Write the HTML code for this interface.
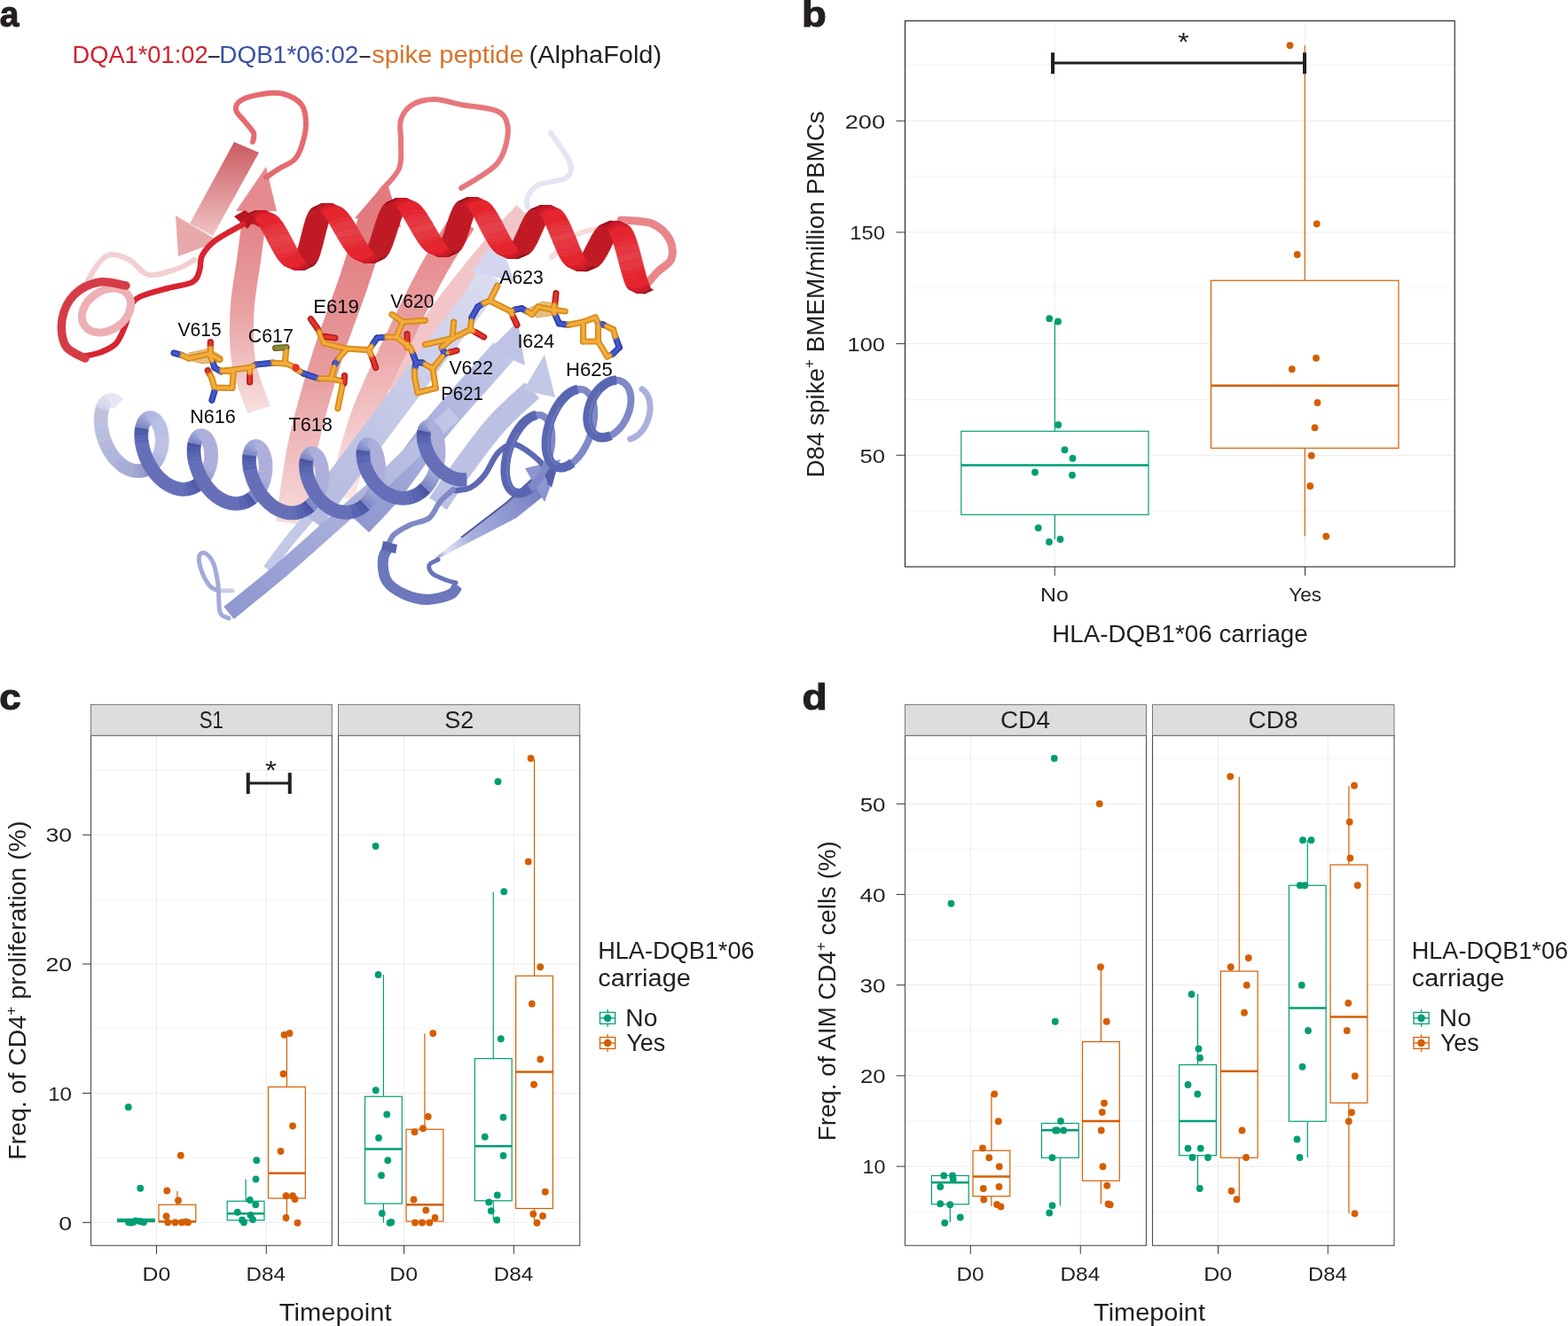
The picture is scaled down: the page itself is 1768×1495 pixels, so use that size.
<!DOCTYPE html>
<html><head><meta charset="utf-8"><title>Figure</title>
<style>html,body{margin:0;padding:0;background:#fff;} body{width:1768px;height:1495px;overflow:hidden;} svg{display:block;} text{font-family:'Liberation Sans', Arial, sans-serif;}</style>
</head><body>
<svg width="1768" height="1495" viewBox="0 0 1768 1495">
<rect width="1768" height="1495" fill="#fff"/>
<text transform="translate(81.50,70.75) scale(0.9739,1)" font-size="28" font-weight="normal" fill="#d21f2b">DQA1*01:02</text>
<text transform="translate(235.00,70.75) scale(0.8044,1)" font-size="28" font-weight="normal" fill="#231f20">–</text>
<text transform="translate(247.19,70.75) scale(0.9999,1)" font-size="28" font-weight="normal" fill="#3a50a6">DQB1*06:02</text>
<text transform="translate(405.50,70.75) scale(0.7722,1)" font-size="28" font-weight="normal" fill="#231f20">–</text>
<text transform="translate(419.20,70.75) scale(1.0403,1)" font-size="28" font-weight="normal" fill="#d6742a">spike peptide</text>
<text transform="translate(596.59,70.75) scale(1.0328,1)" font-size="28" font-weight="normal" fill="#231f20">(AlphaFold)</text>
<text transform="translate(-0.17,29.5) scale(0.9718,1)" font-size="40" font-weight="bold" fill="#231f20" stroke="#231f20" stroke-width="1.1">a</text>
<defs><linearGradient id="gPinkA" x1="0" y1="0" x2="0" y2="1"><stop offset="0" stop-color="#c95a60"/><stop offset="1" stop-color="#f1c4c5"/></linearGradient><linearGradient id="gPinkB" x1="0" y1="1" x2="0" y2="0"><stop offset="0" stop-color="#f7dcdc"/><stop offset="0.5" stop-color="#e79b9d"/><stop offset="1" stop-color="#e07a7e"/></linearGradient><linearGradient id="gPinkC" x1="0" y1="1" x2="0" y2="0"><stop offset="0" stop-color="#fae6e6"/><stop offset="0.6" stop-color="#eaa0a2"/><stop offset="1" stop-color="#e5878b"/></linearGradient><linearGradient id="gLav" x1="0" y1="1" x2="1" y2="0"><stop offset="0" stop-color="#8e97cf"/><stop offset="1" stop-color="#c3c8e7"/></linearGradient><linearGradient id="gLav2" x1="0" y1="1" x2="1" y2="0"><stop offset="0" stop-color="#b3b9e0"/><stop offset="1" stop-color="#dadcef"/></linearGradient><linearGradient id="gBH" x1="0" y1="0" x2="1" y2="0"><stop offset="0" stop-color="#b9bfe2"/><stop offset="0.25" stop-color="#8590c9"/><stop offset="0.5" stop-color="#5f6bb4"/><stop offset="1" stop-color="#5d69b3"/></linearGradient></defs>
<path d="M621.0,150.0 C623.3,153.3 631.3,164.3 635.0,170.0 C638.7,175.7 641.7,179.8 643.0,184.0 C644.3,188.2 644.3,192.0 643.0,195.0 C641.7,198.0 640.8,199.8 635.0,202.0 C629.2,204.2 614.3,205.3 608.0,208.0 C601.7,210.7 599.3,214.2 597.0,218.0 C594.7,221.8 593.5,227.7 594.0,231.0 C594.5,234.3 599.0,236.8 600.0,238.0" fill="none" stroke="#e3e5f2" stroke-width="6" stroke-linecap="round"/>
<path d="M622.0,290.0 C626.3,286.0 639.0,271.2 648.0,266.0 C657.0,260.8 667.3,258.0 676.0,259.0 C684.7,260.0 694.0,268.8 700.0,272.0 C706.0,275.2 710.0,277.0 712.0,278.0" fill="none" stroke="#f6dcdd" stroke-width="6" stroke-linecap="round"/>
<path d="M440.0,440.0 C450.0,425.0 480.0,377.5 500.0,350.0 C520.0,322.5 544.7,293.3 560.0,275.0 C575.3,256.7 586.7,245.8 592.0,240.0" fill="none" stroke="#f2c6c8" stroke-width="26"/>
<path d="M385.0,560.0 C389.2,545.0 399.5,499.2 410.0,470.0 C420.5,440.8 435.0,412.5 448.0,385.0 C461.0,357.5 475.7,327.5 488.0,305.0 C500.3,282.5 516.3,259.2 522.0,250.0" fill="none" stroke="url(#gPinkC)" stroke-width="30"/>
<path d="M328.0,590.0 C330.3,575.0 335.3,530.8 342.0,500.0 C348.7,469.2 358.7,435.0 368.0,405.0 C377.3,375.0 389.0,346.7 398.0,320.0 C407.0,293.3 418.0,257.5 422.0,245.0" fill="none" stroke="url(#gPinkB)" stroke-width="34"/>
<path d="M400.0,246.0 L436.0,204.0 L452.0,256.0Z" fill="#e27a80"/>
<path d="M288.0,236.0 C286.8,245.0 283.5,271.0 281.0,290.0 C278.5,309.0 274.0,330.0 273.0,350.0 C272.0,370.0 271.8,391.3 275.0,410.0 C278.2,428.7 289.2,453.3 292.0,462.0" fill="none" stroke="url(#gPinkB)" stroke-width="27" opacity="0.95"/>
<path d="M266.0,238.0 L300.0,188.0 L312.0,238.0Z" fill="#e58b8f"/>
<path d="M285.0,160.0 C285.2,158.3 287.5,153.8 286.0,150.0 C284.5,146.2 279.3,141.3 276.0,137.0 C272.7,132.7 266.7,128.0 266.0,124.0 C265.3,120.0 267.0,116.0 272.0,113.0 C277.0,110.0 288.0,107.2 296.0,106.0 C304.0,104.8 312.7,104.0 320.0,106.0 C327.3,108.0 335.8,112.3 340.0,118.0 C344.2,123.7 345.0,132.2 345.0,140.0 C345.0,147.8 342.2,158.3 340.0,165.0 C337.8,171.7 336.2,175.8 332.0,180.0 C327.8,184.2 320.3,186.7 315.0,190.0 C309.7,193.3 302.5,198.3 300.0,200.0" fill="none" stroke="#e56a70" stroke-width="6" stroke-linecap="round"/>
<path d="M430.0,215.0 C433.3,210.8 446.3,199.2 450.0,190.0 C453.7,180.8 451.7,169.2 452.0,160.0 C452.3,150.8 449.8,142.0 452.0,135.0 C454.2,128.0 458.7,121.8 465.0,118.0 C471.3,114.2 480.8,112.0 490.0,112.0 C499.2,112.0 508.3,115.8 520.0,118.0 C531.7,120.2 551.3,121.3 560.0,125.0 C568.7,128.7 570.3,133.3 572.0,140.0 C573.7,146.7 572.0,157.5 570.0,165.0 C568.0,172.5 565.0,179.2 560.0,185.0 C555.0,190.8 546.7,195.5 540.0,200.0 C533.3,204.5 523.3,210.0 520.0,212.0" fill="none" stroke="#e7777c" stroke-width="6" stroke-linecap="round"/>
<path d="M264.0,160.0 L292.0,172.0 L240.0,266.0 L214.0,252.0Z" fill="url(#gPinkA)"/>
<path d="M198.0,243.0 L247.0,272.0 L201.0,289.0Z" fill="#e8a9ab"/>
<path d="M302.0,642.0 C306.7,635.8 319.5,617.8 330.0,605.0 C340.5,592.2 359.2,571.7 365.0,565.0" fill="none" stroke="#c3c8e7" stroke-width="12"/>
<path d="M350.0,585.0 C361.7,569.5 398.3,520.8 420.0,492.0 C441.7,463.2 460.7,437.7 480.0,412.0 C499.3,386.3 524.0,355.0 536.0,338.0 C548.0,321.0 549.3,314.7 552.0,310.0" fill="none" stroke="url(#gLav2)" stroke-width="30"/>
<path d="M532.0,306.0 L562.0,266.0 L580.0,318.0Z" fill="#d3d6ee"/>
<path d="M405.0,590.0 C410.8,583.7 425.8,569.5 440.0,552.0 C454.2,534.5 472.5,506.7 490.0,485.0 C507.5,463.3 532.0,436.8 545.0,422.0 C558.0,407.2 564.2,400.3 568.0,396.0" fill="none" stroke="url(#gLav)" stroke-width="30"/>
<path d="M552.0,394.0 L584.0,362.0 L592.0,412.0Z" fill="#bfc4e6"/>
<path d="M494.0,568.0 C498.3,561.7 509.0,545.0 520.0,530.0 C531.0,515.0 546.7,493.0 560.0,478.0 C573.3,463.0 593.3,446.3 600.0,440.0" fill="none" stroke="#bcc1e4" stroke-width="24"/>
<path d="M590.0,440.0 L614.0,400.0 L626.0,448.0Z" fill="#c3c8e7"/>
<path d="M258.0,691.0 C268.0,682.8 297.8,659.2 318.0,642.0 C338.2,624.8 361.2,603.7 379.0,588.0 C396.8,572.3 409.8,561.8 425.0,548.0 C440.2,534.2 455.5,518.7 470.0,505.0 C484.5,491.3 505.0,472.5 512.0,466.0" fill="none" stroke="url(#gLav)" stroke-width="18"/>
<defs><linearGradient id="gS6" gradientUnits="userSpaceOnUse" x1="490" y1="632" x2="600" y2="550"><stop offset="0" stop-color="#7c86c6"/><stop offset="0.12" stop-color="#dfe2f3"/><stop offset="0.35" stop-color="#aab1dd"/><stop offset="1" stop-color="#7782c3"/></linearGradient></defs>
<path d="M488,633 L494,626 L572,566 L600,540 L612,560 L582,584 Z" fill="url(#gS6)"/>
<path d="M520,606 L572,566 L600,540" fill="none" stroke="#4f5a9e" stroke-width="2"/>
<path d="M592.0,528.0 L632.0,518.0 L614.0,566.0Z" fill="#8c96cf"/>
<path d="M700.0,248.0 C705.8,248.7 725.8,248.3 735.0,252.0 C744.2,255.7 751.3,263.3 755.0,270.0 C758.7,276.7 759.2,286.0 757.0,292.0 C754.8,298.0 746.8,301.0 742.0,306.0 C737.2,311.0 730.3,319.3 728.0,322.0" fill="none" stroke="#e8868b" stroke-width="9" stroke-linecap="round"/>
<path d="M339.2,267.4 L347.6,270.0 L348.8,264.9 L340.4,262.9ZM347.6,270.0 L356.1,272.0 L357.2,267.0 L348.8,264.9ZM356.1,272.0 L364.5,273.6 L365.6,269.2 L357.2,267.0ZM340.4,262.9 L348.8,264.9 L349.9,259.9 L341.5,258.5ZM348.8,264.9 L357.2,267.0 L358.3,262.0 L349.9,259.9ZM357.2,267.0 L365.6,269.2 L366.7,264.8 L358.3,262.0ZM338.1,271.8 L346.5,275.0 L347.6,270.0 L339.2,267.4ZM346.5,275.0 L354.9,277.0 L356.1,272.0 L347.6,270.0ZM354.9,277.0 L363.4,277.9 L364.5,273.6 L356.1,272.0ZM421.3,258.5 L429.7,260.9 L431.0,256.0 L422.6,254.2ZM429.7,260.9 L438.1,263.0 L439.5,258.1 L431.0,256.0ZM438.1,263.0 L446.5,264.8 L447.9,260.5 L439.5,258.1ZM419.9,262.9 L428.3,265.9 L429.7,260.9 L421.3,258.5ZM428.3,265.9 L436.7,267.9 L438.1,263.0 L429.7,260.9ZM436.7,267.9 L445.1,269.1 L446.5,264.8 L438.1,263.0ZM341.5,258.5 L349.9,259.9 L351.0,255.0 L342.6,254.3ZM349.9,259.9 L358.3,262.0 L359.4,257.0 L351.0,255.0ZM358.3,262.0 L366.7,264.8 L367.8,260.3 L359.4,257.0ZM422.6,254.2 L431.0,256.0 L432.4,251.1 L424.0,250.0ZM431.0,256.0 L439.5,258.1 L440.8,253.2 L432.4,251.1ZM439.5,258.1 L447.9,260.5 L449.2,256.2 L440.8,253.2ZM337.0,276.2 L345.4,279.8 L346.5,275.0 L338.1,271.8ZM345.4,279.8 L353.8,281.8 L354.9,277.0 L346.5,275.0ZM353.8,281.8 L362.2,282.0 L363.4,277.9 L354.9,277.0ZM418.5,267.2 L426.9,270.7 L428.3,265.9 L419.9,262.9ZM426.9,270.7 L435.3,272.7 L436.7,267.9 L428.3,265.9ZM435.3,272.7 L443.7,273.1 L445.1,269.1 L436.7,267.9ZM503.8,253.1 L512.3,255.3 L513.5,250.7 L505.1,249.1ZM512.3,255.3 L520.7,257.4 L521.9,252.8 L513.5,250.7ZM520.7,257.4 L529.1,259.4 L530.3,255.4 L521.9,252.8ZM424.0,250.0 L432.4,251.1 L433.8,246.4 L425.4,245.9ZM432.4,251.1 L440.8,253.2 L442.2,248.4 L433.8,246.4ZM440.8,253.2 L449.2,256.2 L450.6,251.9 L442.2,248.4ZM502.6,257.1 L511.0,259.9 L512.3,255.3 L503.8,253.1ZM511.0,259.9 L519.4,262.0 L520.7,257.4 L512.3,255.3ZM519.4,262.0 L527.8,263.3 L529.1,259.4 L520.7,257.4ZM342.6,254.3 L351.0,255.0 L352.2,250.3 L343.8,250.3ZM351.0,255.0 L359.4,257.0 L360.6,252.2 L352.2,250.3ZM359.4,257.0 L367.8,260.3 L369.0,256.0 L360.6,252.2ZM661.6,276.7 L670.0,279.1 L671.8,275.0 L663.4,273.2ZM670.0,279.1 L678.4,281.2 L680.2,277.1 L671.8,275.0ZM678.4,281.2 L686.8,282.9 L688.6,279.5 L680.2,277.1ZM505.1,249.1 L513.5,250.7 L514.8,246.2 L506.4,245.3ZM513.5,250.7 L521.9,252.8 L523.2,248.2 L514.8,246.2ZM521.9,252.8 L530.3,255.4 L531.6,251.4 L523.2,248.2ZM663.4,273.2 L671.8,275.0 L673.5,271.0 L665.1,269.8ZM671.8,275.0 L680.2,277.1 L681.9,273.1 L673.5,271.0ZM680.2,277.1 L688.6,279.5 L690.3,276.0 L681.9,273.1ZM583.4,261.2 L591.8,263.8 L593.4,259.5 L585.0,257.5ZM591.8,263.8 L600.2,265.9 L601.8,261.6 L593.4,259.5ZM600.2,265.9 L608.6,267.4 L610.2,263.8 L601.8,261.6ZM501.3,261.1 L509.7,264.4 L511.0,259.9 L502.6,257.1ZM509.7,264.4 L518.1,266.4 L519.4,262.0 L511.0,259.9ZM518.1,266.4 L526.5,267.1 L527.8,263.3 L519.4,262.0ZM659.8,280.1 L668.3,283.1 L670.0,279.1 L661.6,276.7ZM668.3,283.1 L676.7,285.2 L678.4,281.2 L670.0,279.1ZM676.7,285.2 L685.1,286.3 L686.8,282.9 L678.4,281.2ZM585.0,257.5 L593.4,259.5 L595.0,255.3 L586.6,253.9ZM593.4,259.5 L601.8,261.6 L603.4,257.4 L595.0,255.3ZM601.8,261.6 L610.2,263.8 L611.8,260.2 L603.4,257.4ZM581.8,264.8 L590.2,268.0 L591.8,263.8 L583.4,261.2ZM590.2,268.0 L598.6,270.0 L600.2,265.9 L591.8,263.8ZM598.6,270.0 L607.0,270.9 L608.6,267.4 L600.2,265.9ZM417.1,271.4 L425.5,275.3 L426.9,270.7 L418.5,267.2ZM425.5,275.3 L433.9,277.2 L435.3,272.7 L426.9,270.7ZM433.9,277.2 L442.3,277.0 L443.7,273.1 L435.3,272.7ZM665.1,269.8 L673.5,271.0 L675.2,267.1 L666.8,266.6ZM673.5,271.0 L681.9,273.1 L683.6,269.1 L675.2,267.1ZM681.9,273.1 L690.3,276.0 L692.0,272.5 L683.6,269.1ZM586.6,253.9 L595.0,255.3 L596.6,251.2 L588.2,250.5ZM595.0,255.3 L603.4,257.4 L605.0,253.2 L596.6,251.2ZM603.4,257.4 L611.8,260.2 L613.4,256.5 L605.0,253.2ZM335.8,280.4 L344.3,284.4 L345.4,279.8 L337.0,276.2ZM344.3,284.4 L352.7,286.3 L353.8,281.8 L345.4,279.8ZM352.7,286.3 L361.1,285.9 L362.2,282.0 L353.8,281.8ZM425.4,245.9 L433.8,246.4 L435.2,242.0 L426.8,242.2ZM433.8,246.4 L442.2,248.4 L443.6,243.8 L435.2,242.0ZM442.2,248.4 L450.6,251.9 L452.0,247.8 L443.6,243.8ZM506.4,245.3 L514.8,246.2 L516.1,241.9 L507.7,241.6ZM514.8,246.2 L523.2,248.2 L524.5,243.8 L516.1,241.9ZM523.2,248.2 L531.6,251.4 L532.9,247.5 L524.5,243.8ZM658.1,283.5 L666.5,287.0 L668.3,283.1 L659.8,280.1ZM666.5,287.0 L674.9,289.0 L676.7,285.2 L668.3,283.1ZM674.9,289.0 L683.3,289.4 L685.1,286.3 L676.7,285.2ZM499.9,265.0 L508.4,268.8 L509.7,264.4 L501.3,261.1ZM508.4,268.8 L516.8,270.7 L518.1,266.4 L509.7,264.4ZM516.8,270.7 L525.2,270.7 L526.5,267.1 L518.1,266.4ZM580.1,268.4 L588.5,272.1 L590.2,268.0 L581.8,264.8ZM588.5,272.1 L596.9,274.0 L598.6,270.0 L590.2,268.0ZM596.9,274.0 L605.4,274.2 L607.0,270.9 L598.6,270.0ZM343.8,250.3 L352.2,250.3 L353.4,246.0 L344.9,246.6ZM352.2,250.3 L360.6,252.2 L361.8,247.7 L353.4,246.0ZM360.6,252.2 L369.0,256.0 L370.2,251.9 L361.8,247.7ZM588.2,250.5 L596.6,251.2 L598.2,247.3 L589.8,247.3ZM596.6,251.2 L605.0,253.2 L606.6,249.2 L598.2,247.3ZM605.0,253.2 L613.4,256.5 L615.0,253.0 L606.6,249.2ZM666.8,266.6 L675.2,267.1 L676.9,263.4 L668.5,263.6ZM675.2,267.1 L683.6,269.1 L685.3,265.3 L676.9,263.4ZM683.6,269.1 L692.0,272.5 L693.8,269.2 L685.3,265.3ZM656.3,286.8 L664.7,290.7 L666.5,287.0 L658.1,283.5ZM664.7,290.7 L673.1,292.6 L674.9,289.0 L666.5,287.0ZM673.1,292.6 L681.5,292.4 L683.3,289.4 L674.9,289.0ZM507.7,241.6 L516.1,241.9 L517.4,237.9 L509.0,238.3ZM516.1,241.9 L524.5,243.8 L525.8,239.7 L517.4,237.9ZM524.5,243.8 L532.9,247.5 L534.2,243.7 L525.8,239.7ZM415.7,275.4 L424.1,279.7 L425.5,275.3 L417.1,271.4ZM424.1,279.7 L432.5,281.4 L433.9,277.2 L425.5,275.3ZM432.5,281.4 L440.9,280.5 L442.3,277.0 L433.9,277.2ZM426.8,242.2 L435.2,242.0 L436.6,237.9 L428.2,238.7ZM435.2,242.0 L443.6,243.8 L445.0,239.6 L436.6,237.9ZM443.6,243.8 L452.0,247.8 L453.4,243.9 L445.0,239.6ZM334.7,284.4 L343.1,288.7 L344.3,284.4 L335.8,280.4ZM343.1,288.7 L351.5,290.4 L352.7,286.3 L344.3,284.4ZM351.5,290.4 L359.9,289.3 L361.1,285.9 L352.7,286.3ZM498.6,268.7 L507.0,272.9 L508.4,268.8 L499.9,265.0ZM507.0,272.9 L515.4,274.7 L516.8,270.7 L508.4,268.8ZM515.4,274.7 L523.8,274.0 L525.2,270.7 L516.8,270.7ZM578.5,271.8 L586.9,275.9 L588.5,272.1 L580.1,268.4ZM586.9,275.9 L595.3,277.7 L596.9,274.0 L588.5,272.1ZM595.3,277.7 L603.7,277.3 L605.4,274.2 L596.9,274.0ZM589.8,247.3 L598.2,247.3 L599.8,243.7 L591.4,244.3ZM598.2,247.3 L606.6,249.2 L608.2,245.5 L599.8,243.7ZM606.6,249.2 L615.0,253.0 L616.6,249.7 L608.2,245.5ZM668.5,263.6 L676.9,263.4 L678.6,260.0 L670.2,260.9ZM676.9,263.4 L685.3,265.3 L687.0,261.8 L678.6,260.0ZM685.3,265.3 L693.8,269.2 L695.5,266.0 L687.0,261.8ZM344.9,246.6 L353.4,246.0 L354.6,242.0 L346.2,243.3ZM353.4,246.0 L361.8,247.7 L363.0,243.6 L354.6,242.0ZM361.8,247.7 L370.2,251.9 L371.4,248.1 L363.0,243.6ZM654.5,289.9 L662.9,294.2 L664.7,290.7 L656.3,286.8ZM662.9,294.2 L671.3,295.9 L673.1,292.6 L664.7,290.7ZM671.3,295.9 L679.7,295.0 L681.5,292.4 L673.1,292.6ZM509.0,238.3 L517.4,237.9 L518.8,234.2 L510.4,235.2ZM517.4,237.9 L525.8,239.7 L527.2,235.8 L518.8,234.2ZM525.8,239.7 L534.2,243.7 L535.6,240.2 L527.2,235.8ZM414.2,279.1 L422.6,283.6 L424.1,279.7 L415.7,275.4ZM422.6,283.6 L431.0,285.2 L432.5,281.4 L424.1,279.7ZM431.0,285.2 L439.4,283.7 L440.9,280.5 L432.5,281.4ZM576.8,275.1 L585.2,279.5 L586.9,275.9 L578.5,271.8ZM585.2,279.5 L593.6,281.1 L595.3,277.7 L586.9,275.9ZM593.6,281.1 L602.1,280.0 L603.7,277.3 L595.3,277.7ZM497.2,272.2 L505.6,276.7 L507.0,272.9 L498.6,268.7ZM505.6,276.7 L514.0,278.3 L515.4,274.7 L507.0,272.9ZM514.0,278.3 L522.4,277.0 L523.8,274.0 L515.4,274.7ZM428.2,238.7 L436.6,237.9 L438.1,234.2 L429.7,235.7ZM436.6,237.9 L445.0,239.6 L446.5,235.7 L438.1,234.2ZM445.0,239.6 L453.4,243.9 L454.9,240.3 L446.5,235.7ZM333.4,288.0 L341.8,292.7 L343.1,288.7 L334.7,284.4ZM341.8,292.7 L350.2,294.1 L351.5,290.4 L343.1,288.7ZM350.2,294.1 L358.7,292.4 L359.9,289.3 L351.5,290.4ZM591.4,244.3 L599.8,243.7 L601.4,240.5 L593.0,241.7ZM599.8,243.7 L608.2,245.5 L609.8,242.1 L601.4,240.5ZM608.2,245.5 L616.6,249.7 L618.2,246.5 L609.8,242.1ZM270.4,252.4 L278.8,251.3 L280.2,247.6 L271.8,249.4ZM278.8,251.3 L287.2,252.9 L288.6,249.1 L280.2,247.6ZM287.2,252.9 L295.6,257.3 L297.0,253.7 L288.6,249.1ZM670.2,260.9 L678.6,260.0 L680.3,257.0 L671.9,258.5ZM678.6,260.0 L687.0,261.8 L688.7,258.6 L680.3,257.0ZM687.0,261.8 L695.5,266.0 L697.1,263.1 L688.7,258.6ZM652.7,292.6 L661.1,297.2 L662.9,294.2 L654.5,289.9ZM661.1,297.2 L669.6,298.8 L671.3,295.9 L662.9,294.2ZM669.6,298.8 L678.0,297.2 L679.7,295.0 L671.3,295.9ZM346.2,243.3 L354.6,242.0 L355.9,238.5 L347.5,240.4ZM354.6,242.0 L363.0,243.6 L364.3,239.9 L355.9,238.5ZM363.0,243.6 L371.4,248.1 L372.7,244.6 L364.3,239.9ZM510.4,235.2 L518.8,234.2 L520.1,230.9 L511.7,232.6ZM518.8,234.2 L527.2,235.8 L528.6,232.3 L520.1,230.9ZM527.2,235.8 L535.6,240.2 L537.0,237.0 L528.6,232.3ZM575.2,278.0 L583.6,282.7 L585.2,279.5 L576.8,275.1ZM583.6,282.7 L592.0,284.1 L593.6,281.1 L585.2,279.5ZM592.0,284.1 L600.4,282.4 L602.1,280.0 L593.6,281.1ZM495.8,275.4 L504.2,280.1 L505.6,276.7 L497.2,272.2ZM504.2,280.1 L512.6,281.5 L514.0,278.3 L505.6,276.7ZM512.6,281.5 L521.0,279.6 L522.4,277.0 L514.0,278.3ZM412.7,282.4 L421.1,287.2 L422.6,283.6 L414.2,279.1ZM421.1,287.2 L429.5,288.5 L431.0,285.2 L422.6,283.6ZM429.5,288.5 L437.9,286.4 L439.4,283.7 L431.0,285.2ZM429.7,235.7 L438.1,234.2 L439.6,230.9 L431.2,233.1ZM438.1,234.2 L446.5,235.7 L448.0,232.3 L439.6,230.9ZM446.5,235.7 L454.9,240.3 L456.4,237.0 L448.0,232.3ZM593.0,241.7 L601.4,240.5 L603.0,237.6 L594.6,239.5ZM601.4,240.5 L609.8,242.1 L611.4,239.0 L603.0,237.6ZM609.8,242.1 L618.2,246.5 L619.8,243.7 L611.4,239.0Z" fill="#c01b25" stroke="#c01b25" stroke-width="0.7" stroke-linejoin="round"/>
<path d="M332.2,291.3 L340.6,296.1 L341.8,292.7 L333.4,288.0ZM340.6,296.1 L349.0,297.3 L350.2,294.1 L341.8,292.7ZM349.0,297.3 L357.4,295.0 L358.7,292.4 L350.2,294.1Z" fill="#b71b25" stroke="#b71b25" stroke-width="0.7" stroke-linejoin="round"/>
<path d="M671.9,258.5 L680.3,257.0 L682.0,254.4 L673.6,256.5ZM680.3,257.0 L688.7,258.6 L690.4,255.7 L682.0,254.4ZM688.7,258.6 L697.1,263.1 L698.8,260.5 L690.4,255.7Z" fill="#c01b25" stroke="#c01b25" stroke-width="0.7" stroke-linejoin="round"/>
<path d="M271.8,249.4 L280.2,247.6 L281.6,244.4 L273.2,246.8ZM280.2,247.6 L288.6,249.1 L290.0,245.7 L281.6,244.4ZM288.6,249.1 L297.0,253.7 L298.4,250.5 L290.0,245.7Z" fill="#b71b25" stroke="#b71b25" stroke-width="0.7" stroke-linejoin="round"/>
<path d="M650.9,295.1 L659.4,299.9 L661.1,297.2 L652.7,292.6ZM659.4,299.9 L667.8,301.2 L669.6,298.8 L661.1,297.2ZM667.8,301.2 L676.2,299.0 L678.0,297.2 L669.6,298.8Z" fill="#c01b25" stroke="#c01b25" stroke-width="0.7" stroke-linejoin="round"/>
<path d="M511.7,232.6 L520.1,230.9 L521.6,228.1 L513.2,230.4ZM520.1,230.9 L528.6,232.3 L530.0,229.3 L521.6,228.1ZM528.6,232.3 L537.0,237.0 L538.4,234.1 L530.0,229.3ZM347.5,240.4 L355.9,238.5 L357.2,235.5 L348.8,238.0ZM355.9,238.5 L364.3,239.9 L365.6,236.6 L357.2,235.5ZM364.3,239.9 L372.7,244.6 L374.1,241.5 L365.6,236.6ZM573.4,280.6 L581.9,285.5 L583.6,282.7 L575.2,278.0ZM581.9,285.5 L590.3,286.7 L592.0,284.1 L583.6,282.7ZM590.3,286.7 L598.7,284.3 L600.4,282.4 L592.0,284.1ZM494.3,278.2 L502.7,283.1 L504.2,280.1 L495.8,275.4ZM502.7,283.1 L511.1,284.3 L512.6,281.5 L504.2,280.1ZM511.1,284.3 L519.5,281.7 L521.0,279.6 L512.6,281.5ZM411.1,285.3 L419.5,290.2 L421.1,287.2 L412.7,282.4ZM419.5,290.2 L427.9,291.3 L429.5,288.5 L421.1,287.2ZM427.9,291.3 L436.3,288.6 L437.9,286.4 L429.5,288.5ZM594.6,239.5 L603.0,237.6 L604.7,235.3 L596.2,237.8ZM603.0,237.6 L611.4,239.0 L613.1,236.4 L604.7,235.3ZM611.4,239.0 L619.8,243.7 L621.5,241.3 L613.1,236.4ZM431.2,233.1 L439.6,230.9 L441.2,228.2 L432.7,231.0ZM439.6,230.9 L448.0,232.3 L449.6,229.3 L441.2,228.2ZM448.0,232.3 L456.4,237.0 L458.0,234.2 L449.6,229.3ZM673.6,256.5 L682.0,254.4 L683.6,252.3 L675.2,255.0ZM682.0,254.4 L690.4,255.7 L692.0,253.4 L683.6,252.3ZM690.4,255.7 L698.8,260.5 L700.4,258.3 L692.0,253.4Z" fill="#b71b25" stroke="#b71b25" stroke-width="0.7" stroke-linejoin="round"/>
<path d="M330.8,294.1 L339.2,299.0 L340.6,296.1 L332.2,291.3ZM339.2,299.0 L347.6,300.0 L349.0,297.3 L340.6,296.1ZM347.6,300.0 L356.0,297.1 L357.4,295.0 L349.0,297.3ZM273.2,246.8 L281.6,244.4 L283.1,241.8 L274.7,244.8ZM281.6,244.4 L290.0,245.7 L291.5,242.8 L283.1,241.8ZM290.0,245.7 L298.4,250.5 L299.9,247.7 L291.5,242.8Z" fill="#ae1b25" stroke="#ae1b25" stroke-width="0.7" stroke-linejoin="round"/>
<path d="M649.2,297.2 L657.6,302.1 L659.4,299.9 L650.9,295.1ZM657.6,302.1 L666.0,303.2 L667.8,301.2 L659.4,299.9ZM666.0,303.2 L674.4,300.4 L676.2,299.0 L667.8,301.2Z" fill="#b71b25" stroke="#b71b25" stroke-width="0.7" stroke-linejoin="round"/>
<path d="M513.2,230.4 L521.6,228.1 L523.0,225.8 L514.6,228.7ZM521.6,228.1 L530.0,229.3 L531.4,226.8 L523.0,225.8ZM530.0,229.3 L538.4,234.1 L539.9,231.7 L531.4,226.8ZM348.8,238.0 L357.2,235.5 L358.7,233.0 L350.2,236.2ZM357.2,235.5 L365.6,236.6 L367.1,234.0 L358.7,233.0ZM365.6,236.6 L374.1,241.5 L375.5,238.9 L367.1,234.0ZM571.7,282.9 L580.1,287.8 L581.9,285.5 L573.4,280.6ZM580.1,287.8 L588.5,288.8 L590.3,286.7 L581.9,285.5ZM588.5,288.8 L596.9,285.8 L598.7,284.3 L590.3,286.7ZM492.8,280.6 L501.2,285.5 L502.7,283.1 L494.3,278.2ZM501.2,285.5 L509.6,286.5 L511.1,284.3 L502.7,283.1ZM509.6,286.5 L518.0,283.3 L519.5,281.7 L511.1,284.3ZM596.2,237.8 L604.7,235.3 L606.3,233.4 L597.9,236.5ZM604.7,235.3 L613.1,236.4 L614.7,234.4 L606.3,233.4ZM613.1,236.4 L621.5,241.3 L623.1,239.3 L614.7,234.4Z" fill="#ae1b25" stroke="#ae1b25" stroke-width="0.7" stroke-linejoin="round"/>
<path d="M409.5,287.8 L417.9,292.7 L419.5,290.2 L411.1,285.3ZM417.9,292.7 L426.3,293.6 L427.9,291.3 L419.5,290.2ZM426.3,293.6 L434.7,290.3 L436.3,288.6 L427.9,291.3ZM432.7,231.0 L441.2,228.2 L442.8,226.1 L434.4,229.4ZM441.2,228.2 L449.6,229.3 L451.2,226.9 L442.8,226.1ZM449.6,229.3 L458.0,234.2 L459.6,231.9 L451.2,226.9ZM675.2,255.0 L683.6,252.3 L685.2,250.7 L676.8,254.0ZM683.6,252.3 L692.0,253.4 L693.6,251.6 L685.2,250.7ZM692.0,253.4 L700.4,258.3 L702.0,256.5 L693.6,251.6Z" fill="#ae1225" stroke="#ae1225" stroke-width="0.7" stroke-linejoin="round"/>
<path d="M329.4,296.4 L337.8,301.3 L339.2,299.0 L330.8,294.1ZM337.8,301.3 L346.2,302.1 L347.6,300.0 L339.2,299.0ZM346.2,302.1 L354.6,298.7 L356.0,297.1 L347.6,300.0Z" fill="#a51225" stroke="#a51225" stroke-width="0.7" stroke-linejoin="round"/>
<path d="M647.4,298.9 L655.8,303.8 L657.6,302.1 L649.2,297.2ZM655.8,303.8 L664.2,304.6 L666.0,303.2 L657.6,302.1ZM664.2,304.6 L672.6,301.3 L674.4,300.4 L666.0,303.2Z" fill="#ae1225" stroke="#ae1225" stroke-width="0.7" stroke-linejoin="round"/>
<path d="M274.7,244.8 L283.1,241.8 L284.6,239.8 L276.2,243.2ZM283.1,241.8 L291.5,242.8 L293.0,240.5 L284.6,239.8ZM291.5,242.8 L299.9,247.7 L301.5,245.4 L293.0,240.5ZM514.6,228.7 L523.0,225.8 L524.6,224.1 L516.2,227.5ZM523.0,225.8 L531.4,226.8 L533.0,224.8 L524.6,224.1ZM531.4,226.8 L539.9,231.7 L541.4,229.7 L533.0,224.8ZM570.0,284.7 L578.4,289.6 L580.1,287.8 L571.7,282.9ZM578.4,289.6 L586.8,290.3 L588.5,288.8 L580.1,287.8ZM586.8,290.3 L595.2,286.8 L596.9,285.8 L588.5,288.8Z" fill="#a51225" stroke="#a51225" stroke-width="0.7" stroke-linejoin="round"/>
<path d="M350.2,236.2 L358.7,233.0 L360.2,231.2 L351.7,234.8ZM358.7,233.0 L367.1,234.0 L368.6,231.9 L360.2,231.2ZM367.1,234.0 L375.5,238.9 L377.0,236.7 L368.6,231.9ZM491.2,282.6 L499.6,287.4 L501.2,285.5 L492.8,280.6ZM499.6,287.4 L508.0,288.1 L509.6,286.5 L501.2,285.5ZM508.0,288.1 L516.4,284.5 L518.0,283.3 L509.6,286.5ZM597.9,236.5 L606.3,233.4 L608.0,232.2 L599.5,235.7ZM606.3,233.4 L614.7,234.4 L616.4,232.8 L608.0,232.2ZM614.7,234.4 L623.1,239.3 L624.8,237.7 L616.4,232.8ZM407.8,289.8 L416.2,294.6 L417.9,292.7 L409.5,287.8ZM416.2,294.6 L424.6,295.2 L426.3,293.6 L417.9,292.7ZM424.6,295.2 L433.0,291.4 L434.7,290.3 L426.3,293.6ZM434.4,229.4 L442.8,226.1 L444.4,224.6 L436.0,228.4ZM442.8,226.1 L451.2,226.9 L452.8,225.2 L444.4,224.6ZM451.2,226.9 L459.6,231.9 L461.2,230.0 L452.8,225.2ZM676.8,254.0 L685.2,250.7 L686.8,249.7 L678.4,253.4ZM685.2,250.7 L693.6,251.6 L695.2,250.3 L686.8,249.7ZM693.6,251.6 L702.0,256.5 L703.6,255.1 L695.2,250.3ZM645.6,300.1 L654.0,304.9 L655.8,303.8 L647.4,298.9ZM654.0,304.9 L662.4,305.5 L664.2,304.6 L655.8,303.8ZM662.4,305.5 L670.8,301.7 L672.6,301.3 L664.2,304.6Z" fill="#a5121b" stroke="#a5121b" stroke-width="0.7" stroke-linejoin="round"/>
<path d="M327.9,298.3 L336.3,303.1 L337.8,301.3 L329.4,296.4ZM336.3,303.1 L344.7,303.5 L346.2,302.1 L337.8,301.3ZM344.7,303.5 L353.2,299.6 L354.6,298.7 L346.2,302.1ZM276.2,243.2 L284.6,239.8 L286.2,238.4 L277.8,242.3ZM284.6,239.8 L293.0,240.5 L294.6,238.8 L286.2,238.4ZM293.0,240.5 L301.5,245.4 L303.0,243.6 L294.6,238.8ZM516.2,227.5 L524.6,224.1 L526.1,223.0 L517.7,226.9ZM524.6,224.1 L533.0,224.8 L534.5,223.5 L526.1,223.0ZM533.0,224.8 L541.4,229.7 L543.0,228.3 L534.5,223.5ZM568.2,286.0 L576.6,290.8 L578.4,289.6 L570.0,284.7ZM576.6,290.8 L585.0,291.2 L586.8,290.3 L578.4,289.6ZM585.0,291.2 L593.4,287.3 L595.2,286.8 L586.8,290.3ZM351.7,234.8 L360.2,231.2 L361.7,230.1 L353.3,234.1ZM360.2,231.2 L368.6,231.9 L370.1,230.4 L361.7,230.1ZM368.6,231.9 L377.0,236.7 L378.6,235.2 L370.1,230.4ZM710.5,325.7 L718.9,330.4 L719.8,329.7 L711.4,324.8ZM718.9,330.4 L727.3,330.8 L728.2,330.3 L719.8,329.7ZM727.3,330.8 L735.7,326.7 L736.6,326.7 L728.2,330.3ZM489.5,284.0 L497.9,288.7 L499.6,287.4 L491.2,282.6ZM497.9,288.7 L506.4,289.1 L508.0,288.1 L499.6,287.4ZM506.4,289.1 L514.8,285.0 L516.4,284.5 L508.0,288.1ZM599.5,235.7 L608.0,232.2 L609.6,231.5 L601.2,235.5ZM608.0,232.2 L616.4,232.8 L618.0,231.9 L609.6,231.5ZM616.4,232.8 L624.8,237.7 L626.4,236.6 L618.0,231.9Z" fill="#9b121b" stroke="#9b121b" stroke-width="0.7" stroke-linejoin="round"/>
<path d="M406.1,291.2 L414.5,295.9 L416.2,294.6 L407.8,289.8ZM414.5,295.9 L422.9,296.1 L424.6,295.2 L416.2,294.6ZM422.9,296.1 L431.3,292.0 L433.0,291.4 L424.6,295.2Z" fill="#92121b" stroke="#92121b" stroke-width="0.7" stroke-linejoin="round"/>
<path d="M678.4,253.4 L686.8,249.7 L688.3,249.3 L679.9,253.5ZM686.8,249.7 L695.2,250.3 L696.7,249.6 L688.3,249.3ZM695.2,250.3 L703.6,255.1 L705.2,254.3 L696.7,249.6Z" fill="#9b121b" stroke="#9b121b" stroke-width="0.7" stroke-linejoin="round"/>
<path d="M436.0,228.4 L444.4,224.6 L446.2,223.8 L437.7,227.9ZM444.4,224.6 L452.8,225.2 L454.6,224.0 L446.2,223.8ZM452.8,225.2 L461.2,230.0 L463.0,228.7 L454.6,224.0ZM643.9,300.8 L652.3,305.5 L654.0,304.9 L645.6,300.1ZM652.3,305.5 L660.7,305.7 L662.4,305.5 L654.0,304.9ZM660.7,305.7 L669.1,301.5 L670.8,301.7 L662.4,305.5ZM326.4,299.5 L334.8,304.1 L336.3,303.1 L327.9,298.3ZM334.8,304.1 L343.2,304.3 L344.7,303.5 L336.3,303.1ZM343.2,304.3 L351.6,300.0 L353.2,299.6 L344.7,303.5ZM277.8,242.3 L286.2,238.4 L287.9,237.7 L279.5,241.9ZM286.2,238.4 L294.6,238.8 L296.3,237.8 L287.9,237.7ZM294.6,238.8 L303.0,243.6 L304.7,242.4 L296.3,237.8ZM517.7,226.9 L526.1,223.0 L527.8,222.5 L519.4,226.8ZM526.1,223.0 L534.5,223.5 L536.2,222.7 L527.8,222.5ZM534.5,223.5 L543.0,228.3 L544.6,227.3 L536.2,222.7ZM566.4,286.8 L574.8,291.4 L576.6,290.8 L568.2,286.0ZM574.8,291.4 L583.2,291.5 L585.0,291.2 L576.6,290.8ZM583.2,291.5 L591.6,287.3 L593.4,287.3 L585.0,291.2ZM353.3,234.1 L361.7,230.1 L363.4,229.6 L355.0,234.0ZM361.7,230.1 L370.1,230.4 L371.8,229.6 L363.4,229.6ZM370.1,230.4 L378.6,235.2 L380.2,234.2 L371.8,229.6ZM601.2,235.5 L609.6,231.5 L611.3,231.5 L602.9,235.8ZM609.6,231.5 L618.0,231.9 L619.7,231.5 L611.3,231.5ZM618.0,231.9 L626.4,236.6 L628.1,236.1 L619.7,231.5ZM487.8,284.9 L496.2,289.4 L497.9,288.7 L489.5,284.0ZM496.2,289.4 L504.6,289.4 L506.4,289.1 L497.9,288.7ZM504.6,289.4 L513.0,285.1 L514.8,285.0 L506.4,289.1ZM709.6,326.0 L718.0,330.5 L718.9,330.4 L710.5,325.7ZM718.0,330.5 L726.4,330.6 L727.3,330.8 L718.9,330.4ZM726.4,330.6 L734.8,326.2 L735.7,326.7 L727.3,330.8Z" fill="#92121b" stroke="#92121b" stroke-width="0.7" stroke-linejoin="round"/>
<path d="M679.9,253.5 L688.3,249.3 L689.8,249.6 L681.4,254.0ZM688.3,249.3 L696.7,249.6 L698.2,249.6 L689.8,249.6ZM696.7,249.6 L705.2,254.3 L706.6,254.0 L698.2,249.6ZM404.3,292.0 L412.7,296.5 L414.5,295.9 L406.1,291.2ZM412.7,296.5 L421.1,296.4 L422.9,296.1 L414.5,295.9ZM421.1,296.4 L429.5,292.0 L431.3,292.0 L422.9,296.1ZM437.7,227.9 L446.2,223.8 L447.9,223.6 L439.5,228.0ZM446.2,223.8 L454.6,224.0 L456.4,223.5 L447.9,223.6ZM454.6,224.0 L463.0,228.7 L464.8,228.0 L456.4,223.5ZM642.2,301.0 L650.6,305.4 L652.3,305.5 L643.9,300.8ZM650.6,305.4 L659.0,305.4 L660.7,305.7 L652.3,305.5ZM659.0,305.4 L667.4,300.9 L669.1,301.5 L660.7,305.7ZM324.7,300.2 L333.2,304.5 L334.8,304.1 L326.4,299.5ZM333.2,304.5 L341.6,304.4 L343.2,304.3 L334.8,304.1ZM341.6,304.4 L350.0,299.9 L351.6,300.0 L343.2,304.3ZM519.4,226.8 L527.8,222.5 L529.5,222.7 L521.1,227.3ZM527.8,222.5 L536.2,222.7 L537.9,222.6 L529.5,222.7ZM536.2,222.7 L544.6,227.3 L546.3,226.9 L537.9,222.6ZM564.6,287.1 L573.0,291.4 L574.8,291.4 L566.4,286.8ZM573.0,291.4 L581.4,291.2 L583.2,291.5 L574.8,291.4ZM581.4,291.2 L589.8,286.7 L591.6,287.3 L583.2,291.5ZM279.5,241.9 L287.9,237.7 L289.6,237.6 L281.2,242.2ZM287.9,237.7 L296.3,237.8 L298.0,237.5 L289.6,237.6ZM296.3,237.8 L304.7,242.4 L306.4,241.8 L298.0,237.5Z" fill="#89121b" stroke="#89121b" stroke-width="0.7" stroke-linejoin="round"/>
<path d="M602.9,235.8 L611.3,231.5 L613.0,232.0 L604.6,236.7ZM611.3,231.5 L619.7,231.5 L621.4,231.8 L613.0,232.0ZM619.7,231.5 L628.1,236.1 L629.8,236.0 L621.4,231.8ZM486.0,285.2 L494.4,289.4 L496.2,289.4 L487.8,284.9ZM494.4,289.4 L502.8,289.2 L504.6,289.4 L496.2,289.4ZM502.8,289.2 L511.2,284.6 L513.0,285.1 L504.6,289.4ZM355.0,234.0 L363.4,229.6 L365.2,229.7 L356.7,234.4ZM363.4,229.6 L371.8,229.6 L373.6,229.5 L365.2,229.7ZM371.8,229.6 L380.2,234.2 L382.0,233.7 L373.6,229.5ZM708.6,325.7 L717.0,329.9 L718.0,330.5 L709.6,326.0ZM717.0,329.9 L725.4,329.6 L726.4,330.6 L718.0,330.5ZM725.4,329.6 L733.8,325.0 L734.8,326.2 L726.4,330.6Z" fill="#ae121b" stroke="#ae121b" stroke-width="0.7" stroke-linejoin="round"/>
<path d="M681.4,254.0 L689.8,249.6 L691.3,250.4 L682.9,255.1ZM689.8,249.6 L698.2,249.6 L699.7,250.1 L691.3,250.4ZM698.2,249.6 L706.6,254.0 L708.1,254.3 L699.7,250.1Z" fill="#ae1225" stroke="#ae1225" stroke-width="0.7" stroke-linejoin="round"/>
<path d="M439.5,228.0 L447.9,223.6 L449.8,224.0 L441.4,228.7ZM447.9,223.6 L456.4,223.5 L458.2,223.7 L449.8,224.0ZM456.4,223.5 L464.8,228.0 L466.6,227.8 L458.2,223.7ZM402.4,292.3 L410.8,296.4 L412.7,296.5 L404.3,292.0ZM410.8,296.4 L419.2,296.1 L421.1,296.4 L412.7,296.5ZM419.2,296.1 L427.6,291.4 L429.5,292.0 L421.1,296.4ZM640.5,300.7 L648.9,304.7 L650.6,305.4 L642.2,301.0ZM648.9,304.7 L657.3,304.4 L659.0,305.4 L650.6,305.4ZM657.3,304.4 L665.7,299.7 L667.4,300.9 L659.0,305.4Z" fill="#b71225" stroke="#b71225" stroke-width="0.7" stroke-linejoin="round"/>
<path d="M521.1,227.3 L529.5,222.7 L531.2,223.5 L522.8,228.3ZM529.5,222.7 L537.9,222.6 L539.6,223.1 L531.2,223.5ZM537.9,222.6 L546.3,226.9 L548.0,227.1 L539.6,223.1ZM562.7,286.8 L571.1,290.8 L573.0,291.4 L564.6,287.1ZM571.1,290.8 L579.5,290.3 L581.4,291.2 L573.0,291.4ZM579.5,290.3 L587.9,285.6 L589.8,286.7 L581.4,291.2ZM323.0,300.3 L331.5,304.2 L333.2,304.5 L324.7,300.2ZM331.5,304.2 L339.9,303.8 L341.6,304.4 L333.2,304.5ZM339.9,303.8 L348.3,299.1 L350.0,299.9 L341.6,304.4ZM281.2,242.2 L289.6,237.6 L291.3,238.2 L282.9,243.0ZM289.6,237.6 L298.0,237.5 L299.8,237.8 L291.3,238.2ZM298.0,237.5 L306.4,241.8 L308.2,241.7 L299.8,237.8Z" fill="#b71b25" stroke="#b71b25" stroke-width="0.7" stroke-linejoin="round"/>
<path d="M604.6,236.7 L613.0,232.0 L614.7,233.2 L606.3,238.0ZM613.0,232.0 L621.4,231.8 L623.1,232.7 L614.7,233.2ZM621.4,231.8 L629.8,236.0 L631.5,236.6 L623.1,232.7ZM484.2,285.0 L492.6,288.8 L494.4,289.4 L486.0,285.2ZM492.6,288.8 L501.0,288.3 L502.8,289.2 L494.4,289.4ZM501.0,288.3 L509.4,283.5 L511.2,284.6 L502.8,289.2ZM356.7,234.4 L365.2,229.7 L367.0,230.6 L358.6,235.4ZM365.2,229.7 L373.6,229.5 L375.4,230.1 L367.0,230.6ZM373.6,229.5 L382.0,233.7 L383.8,233.9 L375.4,230.1ZM707.6,324.8 L716.0,328.6 L717.0,329.9 L708.6,325.7ZM716.0,328.6 L724.4,328.1 L725.4,329.6 L717.0,329.9ZM724.4,328.1 L732.8,323.2 L733.8,325.0 L725.4,329.6ZM682.9,255.1 L691.3,250.4 L692.7,252.0 L684.3,256.8ZM691.3,250.4 L699.7,250.1 L701.1,251.4 L692.7,252.0ZM699.7,250.1 L708.1,254.3 L709.5,255.1 L701.1,251.4ZM638.8,299.8 L647.2,303.5 L648.9,304.7 L640.5,300.7ZM647.2,303.5 L655.6,302.8 L657.3,304.4 L648.9,304.7ZM655.6,302.8 L664.0,298.0 L665.7,299.7 L657.3,304.4ZM441.4,228.7 L449.8,224.0 L451.7,225.1 L443.3,229.9ZM449.8,224.0 L458.2,223.7 L460.1,224.5 L451.7,225.1ZM458.2,223.7 L466.6,227.8 L468.5,228.2 L460.1,224.5ZM400.4,292.0 L408.8,295.7 L410.8,296.4 L402.4,292.3ZM408.8,295.7 L417.2,295.1 L419.2,296.1 L410.8,296.4ZM417.2,295.1 L425.6,290.2 L427.6,291.4 L419.2,296.1Z" fill="#c01b25" stroke="#c01b25" stroke-width="0.7" stroke-linejoin="round"/>
<path d="M522.8,228.3 L531.2,223.5 L533.0,224.9 L524.6,229.8ZM531.2,223.5 L539.6,223.1 L541.4,224.2 L533.0,224.9ZM539.6,223.1 L548.0,227.1 L549.8,227.8 L541.4,224.2ZM560.8,286.0 L569.2,289.5 L571.1,290.8 L562.7,286.8ZM569.2,289.5 L577.6,288.9 L579.5,290.3 L571.1,290.8ZM577.6,288.9 L586.1,284.0 L587.9,285.6 L579.5,290.3ZM321.3,299.8 L329.7,303.3 L331.5,304.2 L323.0,300.3ZM329.7,303.3 L338.1,302.6 L339.9,303.8 L331.5,304.2ZM338.1,302.6 L346.5,297.7 L348.3,299.1 L339.9,303.8ZM282.9,243.0 L291.3,238.2 L293.2,239.5 L284.8,244.4ZM291.3,238.2 L299.8,237.8 L301.6,238.8 L293.2,239.5ZM299.8,237.8 L308.2,241.7 L310.0,242.3 L301.6,238.8ZM606.3,238.0 L614.7,233.2 L616.4,235.0 L607.9,239.9ZM614.7,233.2 L623.1,232.7 L624.8,234.3 L616.4,235.0ZM623.1,232.7 L631.5,236.6 L633.2,237.6 L624.8,234.3ZM482.2,284.3 L490.6,287.6 L492.6,288.8 L484.2,285.0ZM490.6,287.6 L499.0,286.8 L501.0,288.3 L492.6,288.8ZM499.0,286.8 L507.5,281.9 L509.4,283.5 L501.0,288.3ZM358.6,235.4 L367.0,230.6 L368.9,232.1 L360.5,237.0ZM367.0,230.6 L375.4,230.1 L377.3,231.3 L368.9,232.1ZM375.4,230.1 L383.8,233.9 L385.7,234.6 L377.3,231.3ZM706.6,323.3 L715.0,326.6 L716.0,328.6 L707.6,324.8ZM715.0,326.6 L723.4,325.8 L724.4,328.1 L716.0,328.6ZM723.4,325.8 L731.8,320.9 L732.8,323.2 L724.4,328.1Z" fill="#c91b25" stroke="#c91b25" stroke-width="0.7" stroke-linejoin="round"/>
<path d="M637.1,298.4 L645.5,301.6 L647.2,303.5 L638.8,299.8ZM645.5,301.6 L653.9,300.7 L655.6,302.8 L647.2,303.5ZM653.9,300.7 L662.3,295.8 L664.0,298.0 L655.6,302.8ZM684.3,256.8 L692.7,252.0 L694.1,254.1 L685.7,259.0ZM692.7,252.0 L701.1,251.4 L702.5,253.2 L694.1,254.1ZM701.1,251.4 L709.5,255.1 L710.9,256.4 L702.5,253.2ZM443.3,229.9 L451.7,225.1 L453.7,226.8 L445.3,231.7ZM451.7,225.1 L460.1,224.5 L462.1,225.9 L453.7,226.8ZM460.1,224.5 L468.5,228.2 L470.5,229.1 L462.1,225.9ZM398.4,291.1 L406.8,294.3 L408.8,295.7 L400.4,292.0ZM406.8,294.3 L415.2,293.4 L417.2,295.1 L408.8,295.7ZM415.2,293.4 L423.6,288.5 L425.6,290.2 L417.2,295.1ZM524.6,229.8 L533.0,224.9 L534.9,226.9 L526.5,231.8ZM533.0,224.9 L541.4,224.2 L543.3,226.0 L534.9,226.9ZM541.4,224.2 L549.8,227.8 L551.7,229.0 L543.3,226.0ZM558.9,284.7 L567.3,287.7 L569.2,289.5 L560.8,286.0ZM567.3,287.7 L575.7,286.8 L577.6,288.9 L569.2,289.5ZM575.7,286.8 L584.1,281.9 L586.1,284.0 L577.6,288.9ZM319.4,298.7 L327.9,301.7 L329.7,303.3 L321.3,299.8ZM327.9,301.7 L336.3,300.8 L338.1,302.6 L329.7,303.3ZM336.3,300.8 L344.7,295.9 L346.5,297.7 L338.1,302.6Z" fill="#d21b25" stroke="#d21b25" stroke-width="0.7" stroke-linejoin="round"/>
<path d="M607.9,239.9 L616.4,235.0 L618.0,237.4 L609.6,242.3ZM616.4,235.0 L624.8,234.3 L626.4,236.4 L618.0,237.4ZM624.8,234.3 L633.2,237.6 L634.8,239.2 L626.4,236.4Z" fill="#db1b2e" stroke="#db1b2e" stroke-width="0.7" stroke-linejoin="round"/>
<path d="M284.8,244.4 L293.2,239.5 L295.1,241.4 L286.7,246.3ZM293.2,239.5 L301.6,238.8 L303.5,240.4 L295.1,241.4ZM301.6,238.8 L310.0,242.3 L311.9,243.4 L303.5,240.4Z" fill="#d21b25" stroke="#d21b25" stroke-width="0.7" stroke-linejoin="round"/>
<path d="M480.2,283.0 L488.7,285.8 L490.6,287.6 L482.2,284.3ZM488.7,285.8 L497.1,284.8 L499.0,286.8 L490.6,287.6ZM497.1,284.8 L505.5,279.9 L507.5,281.9 L499.0,286.8ZM360.5,237.0 L368.9,232.1 L370.9,234.1 L362.5,239.0ZM368.9,232.1 L377.3,231.3 L379.3,233.1 L370.9,234.1ZM377.3,231.3 L385.7,234.6 L387.7,235.9 L379.3,233.1ZM635.4,296.5 L643.8,299.1 L645.5,301.6 L637.1,298.4ZM643.8,299.1 L652.2,298.0 L653.9,300.7 L645.5,301.6ZM652.2,298.0 L660.6,293.1 L662.3,295.8 L653.9,300.7ZM705.6,321.3 L714.0,324.0 L715.0,326.6 L706.6,323.3ZM714.0,324.0 L722.4,323.0 L723.4,325.8 L715.0,326.6ZM722.4,323.0 L730.8,318.1 L731.8,320.9 L723.4,325.8ZM685.7,259.0 L694.1,254.1 L695.5,256.8 L687.1,261.7ZM694.1,254.1 L702.5,253.2 L703.9,255.7 L695.5,256.8ZM702.5,253.2 L710.9,256.4 L712.3,258.4 L703.9,255.7ZM445.3,231.7 L453.7,226.8 L455.7,229.1 L447.3,233.9ZM453.7,226.8 L462.1,225.9 L464.2,227.9 L455.7,229.1ZM462.1,225.9 L470.5,229.1 L472.6,230.6 L464.2,227.9ZM396.3,289.6 L404.7,292.3 L406.8,294.3 L398.4,291.1ZM404.7,292.3 L413.1,291.2 L415.2,293.4 L406.8,294.3ZM413.1,291.2 L421.5,286.3 L423.6,288.5 L415.2,293.4Z" fill="#db1b2e" stroke="#db1b2e" stroke-width="0.7" stroke-linejoin="round"/>
<path d="M526.5,231.8 L534.9,226.9 L536.8,229.5 L528.4,234.3ZM534.9,226.9 L543.3,226.0 L545.2,228.3 L536.8,229.5ZM543.3,226.0 L551.7,229.0 L553.6,230.7 L545.2,228.3ZM556.9,283.0 L565.3,285.4 L567.3,287.7 L558.9,284.7ZM565.3,285.4 L573.8,284.2 L575.7,286.8 L567.3,287.7ZM573.8,284.2 L582.2,279.3 L584.1,281.9 L575.7,286.8ZM609.6,242.3 L618.0,237.4 L619.7,240.3 L611.3,245.1ZM618.0,237.4 L626.4,236.4 L628.1,239.0 L619.7,240.3ZM626.4,236.4 L634.8,239.2 L636.5,241.3 L628.1,239.0ZM317.6,297.1 L326.0,299.5 L327.9,301.7 L319.4,298.7ZM326.0,299.5 L334.4,298.3 L336.3,300.8 L327.9,301.7ZM334.4,298.3 L342.8,293.5 L344.7,295.9 L336.3,300.8ZM286.7,246.3 L295.1,241.4 L297.0,243.8 L288.6,248.7ZM295.1,241.4 L303.5,240.4 L305.4,242.6 L297.0,243.8ZM303.5,240.4 L311.9,243.4 L313.8,245.0 L305.4,242.6ZM478.2,281.2 L486.6,283.5 L488.7,285.8 L480.2,283.0ZM486.6,283.5 L495.0,282.2 L497.1,284.8 L488.7,285.8ZM495.0,282.2 L503.4,277.4 L505.5,279.9 L497.1,284.8ZM633.7,294.2 L642.1,296.2 L643.8,299.1 L635.4,296.5ZM642.1,296.2 L650.5,294.8 L652.2,298.0 L643.8,299.1ZM650.5,294.8 L658.9,290.1 L660.6,293.1 L652.2,298.0ZM362.5,239.0 L370.9,234.1 L373.0,236.8 L364.6,241.6ZM370.9,234.1 L379.3,233.1 L381.4,235.5 L373.0,236.8ZM379.3,233.1 L387.7,235.9 L389.8,237.8 L381.4,235.5ZM704.5,318.7 L712.9,320.9 L714.0,324.0 L705.6,321.3ZM712.9,320.9 L721.3,319.6 L722.4,323.0 L714.0,324.0ZM721.3,319.6 L729.7,314.8 L730.8,318.1 L722.4,323.0ZM687.1,261.7 L695.5,256.8 L696.9,260.1 L688.5,264.8ZM695.5,256.8 L703.9,255.7 L705.3,258.7 L696.9,260.1ZM703.9,255.7 L712.3,258.4 L713.7,260.8 L705.3,258.7ZM447.3,233.9 L455.7,229.1 L457.8,231.9 L449.4,236.6ZM455.7,229.1 L464.2,227.9 L466.2,230.5 L457.8,231.9ZM464.2,227.9 L472.6,230.6 L474.7,232.6 L466.2,230.5ZM554.9,280.7 L563.3,282.5 L565.3,285.4 L556.9,283.0ZM563.3,282.5 L571.8,281.1 L573.8,284.2 L565.3,285.4ZM571.8,281.1 L580.2,276.4 L582.2,279.3 L573.8,284.2ZM528.4,234.3 L536.8,229.5 L538.7,232.5 L530.3,237.2ZM536.8,229.5 L545.2,228.3 L547.1,231.1 L538.7,232.5ZM545.2,228.3 L553.6,230.7 L555.5,233.0 L547.1,231.1ZM394.1,287.7 L402.5,289.7 L404.7,292.3 L396.3,289.6ZM402.5,289.7 L411.0,288.4 L413.1,291.2 L404.7,292.3ZM411.0,288.4 L419.4,283.6 L421.5,286.3 L413.1,291.2ZM611.3,245.1 L619.7,240.3 L621.4,243.7 L613.0,248.3ZM619.7,240.3 L628.1,239.0 L629.8,242.2 L621.4,243.7ZM628.1,239.0 L636.5,241.3 L638.2,243.9 L629.8,242.2ZM315.6,294.9 L324.0,296.8 L326.0,299.5 L317.6,297.1ZM324.0,296.8 L332.4,295.4 L334.4,298.3 L326.0,299.5ZM332.4,295.4 L340.8,290.7 L342.8,293.5 L334.4,298.3ZM288.6,248.7 L297.0,243.8 L299.0,246.8 L290.6,251.5ZM297.0,243.8 L305.4,242.6 L307.4,245.4 L299.0,246.8ZM305.4,242.6 L313.8,245.0 L315.8,247.2 L307.4,245.4ZM476.1,279.0 L484.5,280.6 L486.6,283.5 L478.2,281.2ZM484.5,280.6 L492.9,279.1 L495.0,282.2 L486.6,283.5ZM492.9,279.1 L501.3,274.5 L503.4,277.4 L495.0,282.2ZM632.0,291.4 L640.4,292.7 L642.1,296.2 L633.7,294.2ZM640.4,292.7 L648.8,291.2 L650.5,294.8 L642.1,296.2ZM648.8,291.2 L657.2,286.6 L658.9,290.1 L650.5,294.8ZM364.6,241.6 L373.0,236.8 L375.1,240.0 L366.7,244.6ZM373.0,236.8 L381.4,235.5 L383.5,238.5 L375.1,240.0ZM381.4,235.5 L389.8,237.8 L391.9,240.1 L383.5,238.5ZM688.5,264.8 L696.9,260.1 L698.2,263.9 L689.8,268.4ZM696.9,260.1 L705.3,258.7 L706.6,262.3 L698.2,263.9ZM705.3,258.7 L713.7,260.8 L715.0,263.8 L706.6,262.3ZM703.4,315.6 L711.8,317.2 L712.9,320.9 L704.5,318.7ZM711.8,317.2 L720.2,315.7 L721.3,319.6 L712.9,320.9ZM720.2,315.7 L728.7,311.1 L729.7,314.8 L721.3,319.6ZM449.4,236.6 L457.8,231.9 L460.0,235.1 L451.6,239.7ZM457.8,231.9 L466.2,230.5 L468.4,233.6 L460.0,235.1ZM466.2,230.5 L474.7,232.6 L476.8,235.0 L468.4,233.6ZM552.9,278.0 L561.3,279.2 L563.3,282.5 L554.9,280.7ZM561.3,279.2 L569.7,277.5 L571.8,281.1 L563.3,282.5ZM569.7,277.5 L578.1,273.1 L580.2,276.4 L571.8,281.1ZM530.3,237.2 L538.7,232.5 L540.7,236.0 L532.3,240.5ZM538.7,232.5 L547.1,231.1 L549.1,234.4 L540.7,236.0ZM547.1,231.1 L555.5,233.0 L557.5,235.6 L549.1,234.4ZM391.9,285.2 L400.3,286.6 L402.5,289.7 L394.1,287.7ZM400.3,286.6 L408.7,285.1 L411.0,288.4 L402.5,289.7ZM408.7,285.1 L417.2,280.5 L419.4,283.6 L411.0,288.4ZM613.0,248.3 L621.4,243.7 L623.1,247.5 L614.7,251.9ZM621.4,243.7 L629.8,242.2 L631.5,245.9 L623.1,247.5ZM629.8,242.2 L638.2,243.9 L639.9,246.9 L631.5,245.9ZM473.9,276.3 L482.4,277.3 L484.5,280.6 L476.1,279.0ZM482.4,277.3 L490.8,275.6 L492.9,279.1 L484.5,280.6ZM490.8,275.6 L499.2,271.2 L501.3,274.5 L492.9,279.1ZM313.6,292.3 L322.0,293.5 L324.0,296.8 L315.6,294.9ZM322.0,293.5 L330.4,291.9 L332.4,295.4 L324.0,296.8ZM330.4,291.9 L338.8,287.5 L340.8,290.7 L332.4,295.4ZM290.6,251.5 L299.0,246.8 L301.0,250.3 L292.6,254.7ZM299.0,246.8 L307.4,245.4 L309.4,248.7 L301.0,250.3ZM307.4,245.4 L315.8,247.2 L317.8,249.8 L309.4,248.7ZM630.2,288.2 L638.6,288.9 L640.4,292.7 L632.0,291.4ZM638.6,288.9 L647.1,287.1 L648.8,291.2 L640.4,292.7ZM647.1,287.1 L655.5,282.9 L657.2,286.6 L648.8,291.2ZM451.6,239.7 L460.0,235.1 L462.2,238.8 L453.8,243.1ZM460.0,235.1 L468.4,233.6 L470.6,237.1 L462.2,238.8ZM468.4,233.6 L476.8,235.0 L479.0,237.8 L470.6,237.1ZM366.7,244.6 L375.1,240.0 L377.3,243.6 L368.9,247.9ZM375.1,240.0 L383.5,238.5 L385.7,241.9 L377.3,243.6ZM383.5,238.5 L391.9,240.1 L394.1,242.9 L385.7,241.9ZM550.9,274.9 L559.3,275.4 L561.3,279.2 L552.9,278.0ZM559.3,275.4 L567.7,273.6 L569.7,277.5 L561.3,279.2ZM567.7,273.6 L576.1,269.5 L578.1,273.1 L569.7,277.5ZM532.3,240.5 L540.7,236.0 L542.7,239.9 L534.3,244.1ZM540.7,236.0 L549.1,234.4 L551.1,238.2 L542.7,239.9ZM549.1,234.4 L557.5,235.6 L559.5,238.7 L551.1,238.2ZM689.8,268.4 L698.2,263.9 L699.6,268.1 L691.1,272.3ZM698.2,263.9 L706.6,262.3 L708.0,266.4 L699.6,268.1ZM706.6,262.3 L715.0,263.8 L716.4,267.1 L708.0,266.4ZM702.3,312.1 L710.7,313.0 L711.8,317.2 L703.4,315.6ZM710.7,313.0 L719.1,311.3 L720.2,315.7 L711.8,317.2ZM719.1,311.3 L727.5,307.0 L728.7,311.1 L720.2,315.7ZM614.7,251.9 L623.1,247.5 L624.8,251.7 L616.4,255.7ZM623.1,247.5 L631.5,245.9 L633.2,249.9 L624.8,251.7ZM631.5,245.9 L639.9,246.9 L641.6,250.2 L633.2,249.9ZM389.7,282.3 L398.1,283.1 L400.3,286.6 L391.9,285.2ZM398.1,283.1 L406.5,281.4 L408.7,285.1 L400.3,286.6ZM406.5,281.4 L414.9,277.1 L417.2,280.5 L408.7,285.1Z" fill="#e5252e" stroke="#e5252e" stroke-width="0.7" stroke-linejoin="round"/>
<path d="M628.5,284.6 L636.9,284.7 L638.6,288.9 L630.2,288.2ZM636.9,284.7 L645.3,282.8 L647.1,287.1 L638.6,288.9ZM645.3,282.8 L653.7,278.9 L655.5,282.9 L647.1,287.1Z" fill="#e52e37" stroke="#e52e37" stroke-width="0.7" stroke-linejoin="round"/>
<path d="M471.8,273.2 L480.2,273.5 L482.4,277.3 L473.9,276.3ZM480.2,273.5 L488.6,271.7 L490.8,275.6 L482.4,277.3ZM488.6,271.7 L497.0,267.7 L499.2,271.2 L490.8,275.6ZM311.6,289.3 L320.0,289.8 L322.0,293.5 L313.6,292.3ZM320.0,289.8 L328.4,288.1 L330.4,291.9 L322.0,293.5ZM328.4,288.1 L336.8,283.9 L338.8,287.5 L330.4,291.9ZM292.6,254.7 L301.0,250.3 L303.1,254.2 L294.7,258.3ZM301.0,250.3 L309.4,248.7 L311.5,252.4 L303.1,254.2ZM309.4,248.7 L317.8,249.8 L319.9,252.9 L311.5,252.4Z" fill="#e5252e" stroke="#e5252e" stroke-width="0.7" stroke-linejoin="round"/>
<path d="M548.8,271.5 L557.2,271.3 L559.3,275.4 L550.9,274.9ZM557.2,271.3 L565.6,269.4 L567.7,273.6 L559.3,275.4ZM565.6,269.4 L574.0,265.7 L576.1,269.5 L567.7,273.6ZM534.3,244.1 L542.7,239.9 L544.7,244.1 L536.3,247.9ZM542.7,239.9 L551.1,238.2 L553.1,242.2 L544.7,244.1ZM551.1,238.2 L559.5,238.7 L561.5,242.1 L553.1,242.2Z" fill="#e52e37" stroke="#e52e37" stroke-width="0.7" stroke-linejoin="round"/>
<path d="M453.8,243.1 L462.2,238.8 L464.4,242.8 L456.0,246.7ZM462.2,238.8 L470.6,237.1 L472.8,241.0 L464.4,242.8ZM470.6,237.1 L479.0,237.8 L481.2,241.0 L472.8,241.0Z" fill="#e52537" stroke="#e52537" stroke-width="0.7" stroke-linejoin="round"/>
<path d="M616.4,255.7 L624.8,251.7 L626.6,256.2 L618.1,259.8ZM624.8,251.7 L633.2,249.9 L635.0,254.3 L626.6,256.2ZM633.2,249.9 L641.6,250.2 L643.4,253.9 L635.0,254.3Z" fill="#e52e37" stroke="#e52e37" stroke-width="0.7" stroke-linejoin="round"/>
<path d="M368.9,247.9 L377.3,243.6 L379.5,247.6 L371.1,251.6ZM377.3,243.6 L385.7,241.9 L387.9,245.8 L379.5,247.6ZM385.7,241.9 L394.1,242.9 L396.4,246.1 L387.9,245.8Z" fill="#e5252e" stroke="#e5252e" stroke-width="0.7" stroke-linejoin="round"/>
<path d="M691.1,272.3 L699.6,268.1 L700.9,272.7 L692.5,276.6ZM699.6,268.1 L708.0,266.4 L709.3,270.8 L700.9,272.7ZM708.0,266.4 L716.4,267.1 L717.7,270.9 L709.3,270.8Z" fill="#e52537" stroke="#e52537" stroke-width="0.7" stroke-linejoin="round"/>
<path d="M701.2,308.2 L709.6,308.5 L710.7,313.0 L702.3,312.1ZM709.6,308.5 L718.0,306.6 L719.1,311.3 L710.7,313.0ZM718.0,306.6 L726.4,302.6 L727.5,307.0 L719.1,311.3Z" fill="#e5252e" stroke="#e5252e" stroke-width="0.7" stroke-linejoin="round"/>
<path d="M626.8,280.8 L635.2,280.2 L636.9,284.7 L628.5,284.6ZM635.2,280.2 L643.6,278.2 L645.3,282.8 L636.9,284.7ZM643.6,278.2 L652.0,274.8 L653.7,278.9 L645.3,282.8Z" fill="#e52e40" stroke="#e52e40" stroke-width="0.7" stroke-linejoin="round"/>
<path d="M387.4,279.1 L395.8,279.2 L398.1,283.1 L389.7,282.3ZM395.8,279.2 L404.2,277.3 L406.5,281.4 L398.1,283.1ZM404.2,277.3 L412.6,273.4 L414.9,277.1 L406.5,281.4Z" fill="#e52537" stroke="#e52537" stroke-width="0.7" stroke-linejoin="round"/>
<path d="M469.5,269.8 L477.9,269.5 L480.2,273.5 L471.8,273.2ZM477.9,269.5 L486.3,267.5 L488.6,271.7 L480.2,273.5ZM486.3,267.5 L494.8,264.0 L497.0,267.7 L488.6,271.7Z" fill="#e52e37" stroke="#e52e37" stroke-width="0.7" stroke-linejoin="round"/>
<path d="M546.7,267.8 L555.1,267.0 L557.2,271.3 L548.8,271.5ZM555.1,267.0 L563.5,265.0 L565.6,269.4 L557.2,271.3ZM563.5,265.0 L571.9,261.8 L574.0,265.7 L565.6,269.4ZM536.3,247.9 L544.7,244.1 L546.8,248.6 L538.4,251.8ZM544.7,244.1 L553.1,242.2 L555.2,246.6 L546.8,248.6ZM553.1,242.2 L561.5,242.1 L563.6,245.8 L555.2,246.6ZM618.1,259.8 L626.6,256.2 L628.3,260.9 L619.9,264.0ZM626.6,256.2 L635.0,254.3 L636.7,258.9 L628.3,260.9ZM635.0,254.3 L643.4,253.9 L645.1,257.9 L636.7,258.9Z" fill="#e53740" stroke="#e53740" stroke-width="0.7" stroke-linejoin="round"/>
<path d="M309.5,285.9 L317.9,285.8 L320.0,289.8 L311.6,289.3ZM317.9,285.8 L326.3,283.9 L328.4,288.1 L320.0,289.8ZM326.3,283.9 L334.7,280.1 L336.8,283.9 L328.4,288.1Z" fill="#e52e37" stroke="#e52e37" stroke-width="0.7" stroke-linejoin="round"/>
<path d="M456.0,246.7 L464.4,242.8 L466.6,247.1 L458.2,250.5ZM464.4,242.8 L472.8,241.0 L475.0,245.1 L466.6,247.1ZM472.8,241.0 L481.2,241.0 L483.4,244.5 L475.0,245.1Z" fill="#e52e40" stroke="#e52e40" stroke-width="0.7" stroke-linejoin="round"/>
<path d="M294.7,258.3 L303.1,254.2 L305.2,258.4 L296.8,262.1ZM303.1,254.2 L311.5,252.4 L313.6,256.5 L305.2,258.4ZM311.5,252.4 L319.9,252.9 L322.0,256.3 L313.6,256.5Z" fill="#e52e37" stroke="#e52e37" stroke-width="0.7" stroke-linejoin="round"/>
<path d="M625.1,276.7 L633.5,275.4 L635.2,280.2 L626.8,280.8ZM633.5,275.4 L641.9,273.4 L643.6,278.2 L635.2,280.2ZM641.9,273.4 L650.3,270.5 L652.0,274.8 L643.6,278.2Z" fill="#e53740" stroke="#e53740" stroke-width="0.7" stroke-linejoin="round"/>
<path d="M692.5,276.6 L700.9,272.7 L702.2,277.6 L693.8,281.0ZM700.9,272.7 L709.3,270.8 L710.6,275.6 L702.2,277.6ZM709.3,270.8 L717.7,270.9 L719.0,275.0 L710.6,275.6ZM371.1,251.6 L379.5,247.6 L381.8,251.9 L373.4,255.5ZM379.5,247.6 L387.9,245.8 L390.2,249.9 L381.8,251.9ZM387.9,245.8 L396.4,246.1 L398.6,249.6 L390.2,249.9ZM700.0,304.0 L708.4,303.6 L709.6,308.5 L701.2,308.2ZM708.4,303.6 L716.8,301.6 L718.0,306.6 L709.6,308.5ZM716.8,301.6 L725.2,298.1 L726.4,302.6 L718.0,306.6Z" fill="#e52e37" stroke="#e52e37" stroke-width="0.7" stroke-linejoin="round"/>
<path d="M619.9,264.0 L628.3,260.9 L630.0,265.7 L621.6,268.3ZM628.3,260.9 L636.7,258.9 L638.4,263.7 L630.0,265.7ZM636.7,258.9 L645.1,257.9 L646.8,262.0 L638.4,263.7ZM544.6,264.0 L553.0,262.5 L555.1,267.0 L546.7,267.8ZM553.0,262.5 L561.4,260.4 L563.5,265.0 L555.1,267.0ZM561.4,260.4 L569.8,257.7 L571.9,261.8 L563.5,265.0ZM538.4,251.8 L546.8,248.6 L548.8,253.2 L540.4,255.9ZM546.8,248.6 L555.2,246.6 L557.3,251.1 L548.8,253.2ZM555.2,246.6 L563.6,245.8 L565.7,249.6 L557.3,251.1ZM467.3,266.2 L475.7,265.2 L477.9,269.5 L469.5,269.8ZM475.7,265.2 L484.1,263.1 L486.3,267.5 L477.9,269.5ZM484.1,263.1 L492.5,260.1 L494.8,264.0 L486.3,267.5ZM623.3,272.5 L631.7,270.6 L633.5,275.4 L625.1,276.7ZM631.7,270.6 L640.1,268.5 L641.9,273.4 L633.5,275.4ZM640.1,268.5 L648.6,266.2 L650.3,270.5 L641.9,273.4Z" fill="#e53740" stroke="#e53740" stroke-width="0.7" stroke-linejoin="round"/>
<path d="M385.1,275.5 L393.5,274.9 L395.8,279.2 L387.4,279.1ZM393.5,274.9 L401.9,272.9 L404.2,277.3 L395.8,279.2ZM401.9,272.9 L410.3,269.5 L412.6,273.4 L404.2,277.3Z" fill="#e52e37" stroke="#e52e37" stroke-width="0.7" stroke-linejoin="round"/>
<path d="M621.6,268.3 L630.0,265.7 L631.7,270.6 L623.3,272.5ZM630.0,265.7 L638.4,263.7 L640.1,268.5 L631.7,270.6ZM638.4,263.7 L646.8,262.0 L648.6,266.2 L640.1,268.5Z" fill="#e54049" stroke="#e54049" stroke-width="0.7" stroke-linejoin="round"/>
<path d="M458.2,250.5 L466.6,247.1 L468.9,251.6 L460.5,254.5ZM466.6,247.1 L475.0,245.1 L477.3,249.5 L468.9,251.6ZM475.0,245.1 L483.4,244.5 L485.7,248.3 L477.3,249.5Z" fill="#e53740" stroke="#e53740" stroke-width="0.7" stroke-linejoin="round"/>
<path d="M542.5,259.9 L550.9,257.8 L553.0,262.5 L544.6,264.0ZM550.9,257.8 L559.3,255.7 L561.4,260.4 L553.0,262.5ZM559.3,255.7 L567.7,253.6 L569.8,257.7 L561.4,260.4ZM540.4,255.9 L548.8,253.2 L550.9,257.8 L542.5,259.9ZM548.8,253.2 L557.3,251.1 L559.3,255.7 L550.9,257.8ZM557.3,251.1 L565.7,249.6 L567.7,253.6 L559.3,255.7Z" fill="#e54049" stroke="#e54049" stroke-width="0.7" stroke-linejoin="round"/>
<path d="M307.4,282.2 L315.8,281.4 L317.9,285.8 L309.5,285.9ZM315.8,281.4 L324.2,279.4 L326.3,283.9 L317.9,285.8ZM324.2,279.4 L332.6,276.2 L334.7,280.1 L326.3,283.9ZM296.8,262.1 L305.2,258.4 L307.3,262.9 L298.9,266.1ZM305.2,258.4 L313.6,256.5 L315.7,260.8 L307.3,262.9ZM313.6,256.5 L322.0,256.3 L324.1,260.0 L315.7,260.8ZM465.0,262.4 L473.4,260.7 L475.7,265.2 L467.3,266.2ZM473.4,260.7 L481.8,258.6 L484.1,263.1 L475.7,265.2ZM481.8,258.6 L490.2,256.1 L492.5,260.1 L484.1,263.1ZM693.8,281.0 L702.2,277.6 L703.5,282.7 L695.1,285.6ZM702.2,277.6 L710.6,275.6 L711.9,280.6 L703.5,282.7ZM710.6,275.6 L719.0,275.0 L720.3,279.4 L711.9,280.6ZM698.8,299.6 L707.2,298.5 L708.4,303.6 L700.0,304.0ZM707.2,298.5 L715.6,296.4 L716.8,301.6 L708.4,303.6ZM715.6,296.4 L724.0,293.4 L725.2,298.1 L716.8,301.6ZM460.5,254.5 L468.9,251.6 L471.2,256.1 L462.7,258.4ZM468.9,251.6 L477.3,249.5 L479.6,254.0 L471.2,256.1ZM477.3,249.5 L485.7,248.3 L488.0,252.1 L479.6,254.0ZM373.4,255.5 L381.8,251.9 L384.1,256.4 L375.7,259.5ZM381.8,251.9 L390.2,249.9 L392.5,254.4 L384.1,256.4ZM390.2,249.9 L398.6,249.6 L400.9,253.3 L392.5,254.4Z" fill="#e53740" stroke="#e53740" stroke-width="0.7" stroke-linejoin="round"/>
<path d="M462.7,258.4 L471.2,256.1 L473.4,260.7 L465.0,262.4ZM471.2,256.1 L479.6,254.0 L481.8,258.6 L473.4,260.7ZM479.6,254.0 L488.0,252.1 L490.2,256.1 L481.8,258.6Z" fill="#e54049" stroke="#e54049" stroke-width="0.7" stroke-linejoin="round"/>
<path d="M382.7,271.6 L391.1,270.4 L393.5,274.9 L385.1,275.5ZM391.1,270.4 L399.6,268.3 L401.9,272.9 L393.5,274.9ZM399.6,268.3 L408.0,265.5 L410.3,269.5 L401.9,272.9ZM695.1,285.6 L703.5,282.7 L704.7,287.9 L696.3,290.3ZM703.5,282.7 L711.9,280.6 L713.1,285.8 L704.7,287.9ZM711.9,280.6 L720.3,279.4 L721.6,284.0 L713.1,285.8ZM697.6,295.0 L706.0,293.2 L707.2,298.5 L698.8,299.6ZM706.0,293.2 L714.4,291.1 L715.6,296.4 L707.2,298.5ZM714.4,291.1 L722.8,288.7 L724.0,293.4 L715.6,296.4ZM305.3,278.3 L313.7,276.9 L315.8,281.4 L307.4,282.2ZM313.7,276.9 L322.1,274.8 L324.2,279.4 L315.8,281.4ZM322.1,274.8 L330.5,272.1 L332.6,276.2 L324.2,279.4ZM298.9,266.1 L307.3,262.9 L309.4,267.5 L301.0,270.2ZM307.3,262.9 L315.7,260.8 L317.8,265.4 L309.4,267.5ZM315.7,260.8 L324.1,260.0 L326.2,263.9 L317.8,265.4ZM375.7,259.5 L384.1,256.4 L386.5,261.1 L378.0,263.6ZM384.1,256.4 L392.5,254.4 L394.9,259.0 L386.5,261.1ZM392.5,254.4 L400.9,253.3 L403.3,257.3 L394.9,259.0Z" fill="#e53740" stroke="#e53740" stroke-width="0.7" stroke-linejoin="round"/>
<path d="M696.3,290.3 L704.7,287.9 L706.0,293.2 L697.6,295.0ZM704.7,287.9 L713.1,285.8 L714.4,291.1 L706.0,293.2ZM713.1,285.8 L721.6,284.0 L722.8,288.7 L714.4,291.1Z" fill="#e54049" stroke="#e54049" stroke-width="0.7" stroke-linejoin="round"/>
<path d="M380.4,267.7 L388.8,265.8 L391.1,270.4 L382.7,271.6ZM388.8,265.8 L397.2,263.7 L399.6,268.3 L391.1,270.4ZM397.2,263.7 L405.6,261.4 L408.0,265.5 L399.6,268.3Z" fill="#e53740" stroke="#e53740" stroke-width="0.7" stroke-linejoin="round"/>
<path d="M378.0,263.6 L386.5,261.1 L388.8,265.8 L380.4,267.7ZM386.5,261.1 L394.9,259.0 L397.2,263.7 L388.8,265.8ZM394.9,259.0 L403.3,257.3 L405.6,261.4 L397.2,263.7Z" fill="#e54049" stroke="#e54049" stroke-width="0.7" stroke-linejoin="round"/>
<path d="M303.1,274.3 L311.6,272.2 L313.7,276.9 L305.3,278.3ZM311.6,272.2 L320.0,270.1 L322.1,274.8 L313.7,276.9ZM320.0,270.1 L328.4,268.0 L330.5,272.1 L322.1,274.8Z" fill="#e54040" stroke="#e54040" stroke-width="0.7" stroke-linejoin="round"/>
<path d="M301.0,270.2 L309.4,267.5 L311.6,272.2 L303.1,274.3ZM309.4,267.5 L317.8,265.4 L320.0,270.1 L311.6,272.2ZM317.8,265.4 L326.2,263.9 L328.4,268.0 L320.0,270.1Z" fill="#e54049" stroke="#e54049" stroke-width="0.7" stroke-linejoin="round"/>
<path d="M264.0,244.0 L276.0,237.0 L288.0,246.0 L279.0,258.0Z" fill="#b71520"/>
<path d="M274.0,253.0 C268.8,256.0 250.7,265.2 243.0,271.0 C235.3,276.8 231.0,282.3 228.0,288.0 C225.0,293.7 226.8,300.0 225.0,305.0 C223.2,310.0 223.0,314.7 217.0,318.0 C211.0,321.3 199.0,322.2 189.0,325.0 C179.0,327.8 164.2,331.2 157.0,335.0 C149.8,338.8 148.5,343.0 146.0,348.0 C143.5,353.0 144.5,358.5 142.0,365.0 C139.5,371.5 135.7,381.7 131.0,387.0 C126.3,392.3 120.3,394.5 114.0,397.0 C107.7,399.5 96.5,401.2 93.0,402.0" fill="none" stroke="#d92330" stroke-width="6.5" stroke-linecap="round"/>
<path d="M99.0,316.0 C101.2,312.7 107.7,300.8 112.0,296.0 C116.3,291.2 119.3,287.5 125.0,287.0 C130.7,286.5 138.8,289.2 146.0,293.0 C153.2,296.8 159.0,308.3 168.0,310.0 C177.0,311.7 191.5,305.8 200.0,303.0 C208.5,300.2 215.8,294.7 219.0,293.0" fill="none" stroke="#f3cfd1" stroke-width="6" stroke-linecap="round"/>
<ellipse cx="120" cy="350" rx="30" ry="22" fill="none" stroke="#eeb0b4" stroke-width="9" transform="rotate(-35 120 350)"/>
<path d="M142.0,322.0 C137.0,321.3 121.7,316.3 112.0,318.0 C102.3,319.7 91.0,325.0 84.0,332.0 C77.0,339.0 71.7,350.3 70.0,360.0 C68.3,369.7 69.7,382.7 74.0,390.0 C78.3,397.3 92.3,401.7 96.0,404.0" fill="none" stroke="#d63c46" stroke-width="9.5" stroke-linecap="round"/>
<path d="M418.7,518.9 L426.0,517.4 L425.1,513.7 L417.9,515.8ZM426.0,517.4 L433.4,515.9 L432.3,511.5 L425.1,513.7ZM291.1,517.4 L298.4,515.6 L297.4,512.4 L290.3,514.9ZM298.4,515.6 L305.6,513.8 L304.4,509.8 L297.4,512.4Z" fill="#aeaedb" stroke="#aeaedb" stroke-width="0.7" stroke-linejoin="round"/>
<path d="M173.4,484.6 L180.4,482.0 L179.1,479.0 L172.4,482.4ZM180.4,482.0 L187.4,479.4 L185.8,475.6 L179.1,479.0Z" fill="#b7c0e5" stroke="#b7c0e5" stroke-width="0.7" stroke-linejoin="round"/>
<path d="M229.9,505.8 L237.2,504.2 L236.3,500.9 L229.1,503.3ZM237.2,504.2 L244.5,502.5 L243.4,498.5 L236.3,500.9ZM355.2,528.2 L362.6,526.8 L361.8,523.2 L354.5,525.3ZM362.6,526.8 L370.0,525.4 L369.0,521.2 L361.8,523.2ZM485.9,498.0 L493.2,496.4 L492.2,492.7 L485.1,494.9ZM493.2,496.4 L500.6,494.8 L499.4,490.4 L492.2,492.7ZM486.5,501.5 L494.0,500.5 L493.2,496.4 L485.9,498.0ZM494.0,500.5 L501.4,499.4 L500.6,494.8 L493.2,496.4ZM354.5,525.3 L361.8,523.2 L360.7,520.0 L353.7,522.8ZM361.8,523.2 L369.0,521.2 L367.7,517.3 L360.7,520.0ZM229.1,503.3 L236.3,500.9 L235.1,498.0 L228.3,501.3ZM236.3,500.9 L243.4,498.5 L241.9,494.8 L235.1,498.0Z" fill="#aeaedb" stroke="#aeaedb" stroke-width="0.7" stroke-linejoin="round"/>
<path d="M174.2,487.3 L181.4,485.4 L180.4,482.0 L173.4,484.6ZM181.4,485.4 L188.7,483.5 L187.4,479.4 L180.4,482.0Z" fill="#b7c0e5" stroke="#b7c0e5" stroke-width="0.7" stroke-linejoin="round"/>
<path d="M291.7,520.3 L299.1,519.2 L298.4,515.6 L291.1,517.4ZM299.1,519.2 L306.5,518.1 L305.6,513.8 L298.4,515.6ZM419.3,522.5 L426.7,521.5 L426.0,517.4 L418.7,518.9ZM426.7,521.5 L434.1,520.6 L433.4,515.9 L426.0,517.4ZM417.9,515.8 L425.1,513.7 L423.9,510.3 L417.0,513.1ZM425.1,513.7 L432.3,511.5 L430.9,507.5 L423.9,510.3ZM290.3,514.9 L297.4,512.4 L296.2,509.5 L289.5,512.9ZM297.4,512.4 L304.4,509.8 L302.9,506.2 L296.2,509.5Z" fill="#aeaedb" stroke="#aeaedb" stroke-width="0.7" stroke-linejoin="round"/>
<path d="M172.4,482.4 L179.1,479.0 L177.5,476.4 L171.3,480.6ZM179.1,479.0 L185.8,475.6 L183.8,472.2 L177.5,476.4Z" fill="#b7c0e5" stroke="#b7c0e5" stroke-width="0.7" stroke-linejoin="round"/>
<path d="M230.4,508.7 L237.8,507.7 L237.2,504.2 L229.9,505.8ZM237.8,507.7 L245.2,506.8 L244.5,502.5 L237.2,504.2ZM355.7,531.4 L363.1,530.7 L362.6,526.8 L355.2,528.2ZM363.1,530.7 L370.6,530.0 L370.0,525.4 L362.6,526.8ZM485.1,494.9 L492.2,492.7 L491.1,489.4 L484.1,492.3ZM492.2,492.7 L499.4,490.4 L498.0,486.5 L491.1,489.4ZM486.9,505.3 L494.4,504.9 L494.0,500.5 L486.5,501.5ZM494.4,504.9 L501.9,504.4 L501.4,499.4 L494.0,500.5ZM353.7,522.8 L360.7,520.0 L359.4,517.3 L352.8,520.8ZM360.7,520.0 L367.7,517.3 L366.0,513.7 L359.4,517.3ZM228.3,501.3 L235.1,498.0 L233.7,495.6 L227.5,499.7ZM235.1,498.0 L241.9,494.8 L240.0,491.5 L233.7,495.6Z" fill="#aeaedb" stroke="#aeaedb" stroke-width="0.7" stroke-linejoin="round"/>
<path d="M174.8,490.3 L182.2,489.1 L181.4,485.4 L174.2,487.3ZM182.2,489.1 L189.6,487.9 L188.7,483.5 L181.4,485.4Z" fill="#b7c0e5" stroke="#b7c0e5" stroke-width="0.7" stroke-linejoin="round"/>
<path d="M292.0,523.6 L299.5,523.1 L299.1,519.2 L291.7,520.3ZM299.5,523.1 L307.0,522.6 L306.5,518.1 L299.1,519.2ZM419.6,526.3 L427.1,525.9 L426.7,521.5 L419.3,522.5ZM427.1,525.9 L434.6,525.6 L434.1,520.6 L426.7,521.5ZM417.0,513.1 L423.9,510.3 L422.6,507.4 L416.0,510.9ZM423.9,510.3 L430.9,507.5 L429.2,503.9 L422.6,507.4ZM289.5,512.9 L296.2,509.5 L294.8,507.2 L288.6,511.4ZM296.2,509.5 L302.9,506.2 L301.0,502.9 L294.8,507.2Z" fill="#aeaedb" stroke="#aeaedb" stroke-width="0.7" stroke-linejoin="round"/>
<path d="M171.3,480.6 L177.5,476.4 L175.8,474.2 L170.3,479.3ZM177.5,476.4 L183.8,472.2 L181.3,469.1 L175.8,474.2Z" fill="#b7c0e5" stroke="#b7c0e5" stroke-width="0.7" stroke-linejoin="round"/>
<path d="M230.6,511.9 L238.1,511.6 L237.8,507.7 L230.4,508.7ZM238.1,511.6 L245.6,511.3 L245.2,506.8 L237.8,507.7ZM355.9,534.9 L363.4,534.8 L363.1,530.7 L355.7,531.4ZM363.4,534.8 L370.9,534.7 L370.6,530.0 L363.1,530.7ZM484.1,492.3 L491.1,489.4 L489.7,486.6 L483.2,490.2ZM491.1,489.4 L498.0,486.5 L496.3,482.9 L489.7,486.6ZM487.0,509.5 L494.5,509.5 L494.4,504.9 L486.9,505.3ZM494.5,509.5 L502.0,509.6 L501.9,504.4 L494.4,504.9ZM352.8,520.8 L359.4,517.3 L358.0,514.9 L351.9,519.4ZM359.4,517.3 L366.0,513.7 L364.0,510.5 L358.0,514.9ZM227.5,499.7 L233.7,495.6 L232.2,493.6 L226.7,498.7ZM233.7,495.6 L240.0,491.5 L237.7,488.5 L232.2,493.6Z" fill="#aeaedb" stroke="#aeaedb" stroke-width="0.7" stroke-linejoin="round"/>
<path d="M127.9,460.5 L133.2,455.2 L131.4,453.3 L126.5,459.0ZM133.2,455.2 L138.6,449.9 L136.2,447.6 L131.4,453.3Z" fill="#e5e5f7" stroke="#e5e5f7" stroke-width="0.7" stroke-linejoin="round"/>
<path d="M175.2,493.5 L182.7,492.9 L182.2,489.1 L174.8,490.3ZM182.7,492.9 L190.2,492.4 L189.6,487.9 L182.2,489.1Z" fill="#b7c0e5" stroke="#b7c0e5" stroke-width="0.7" stroke-linejoin="round"/>
<path d="M292.1,527.0 L299.6,527.2 L299.5,523.1 L292.0,523.6ZM299.6,527.2 L307.1,527.3 L307.0,522.6 L299.5,523.1ZM419.6,530.3 L427.1,530.5 L427.1,525.9 L419.6,526.3ZM427.1,530.5 L434.6,530.7 L434.6,525.6 L427.1,525.9ZM416.0,510.9 L422.6,507.4 L421.1,505.0 L415.0,509.3ZM422.6,507.4 L429.2,503.9 L427.2,500.6 L421.1,505.0ZM288.6,511.4 L294.8,507.2 L293.2,505.3 L287.9,510.5ZM294.8,507.2 L301.0,502.9 L298.6,500.0 L293.2,505.3Z" fill="#aeaedb" stroke="#aeaedb" stroke-width="0.7" stroke-linejoin="round"/>
<path d="M170.3,479.3 L175.8,474.2 L174.0,472.6 L169.6,478.6ZM175.8,474.2 L181.3,469.1 L178.5,466.6 L174.0,472.6Z" fill="#b7b7e5" stroke="#b7b7e5" stroke-width="0.7" stroke-linejoin="round"/>
<path d="M230.6,515.2 L238.1,515.6 L238.1,511.6 L230.6,511.9ZM238.1,515.6 L245.6,515.9 L245.6,511.3 L238.1,511.6ZM355.8,538.6 L363.3,539.1 L363.4,534.8 L355.9,534.9ZM363.3,539.1 L370.8,539.6 L370.9,534.7 L363.4,534.8ZM483.2,490.2 L489.7,486.6 L488.2,484.3 L482.3,488.8ZM489.7,486.6 L496.3,482.9 L494.2,479.8 L488.2,484.3ZM486.9,513.8 L494.3,514.4 L494.5,509.5 L487.0,509.5ZM494.3,514.4 L501.8,514.9 L502.0,509.6 L494.5,509.5ZM351.9,519.4 L358.0,514.9 L356.4,513.1 L351.2,518.5ZM358.0,514.9 L364.0,510.5 L361.6,507.7 L356.4,513.1ZM226.7,498.7 L232.2,493.6 L230.6,492.2 L226.2,498.3ZM232.2,493.6 L237.7,488.5 L234.9,486.0 L230.6,492.2Z" fill="#aeaedb" stroke="#aeaedb" stroke-width="0.7" stroke-linejoin="round"/>
<path d="M126.5,459.0 L131.4,453.3 L129.4,451.9 L125.8,458.5ZM131.4,453.3 L136.2,447.6 L133.0,445.3 L129.4,451.9Z" fill="#e5e5f7" stroke="#e5e5f7" stroke-width="0.7" stroke-linejoin="round"/>
<path d="M175.3,496.9 L182.8,497.0 L182.7,492.9 L175.2,493.5ZM182.8,497.0 L190.3,497.1 L190.2,492.4 L182.7,492.9Z" fill="#c0c0e5" stroke="#c0c0e5" stroke-width="0.7" stroke-linejoin="round"/>
<path d="M291.9,530.7 L299.4,531.4 L299.6,527.2 L292.1,527.0ZM299.4,531.4 L306.8,532.2 L307.1,527.3 L299.6,527.2ZM419.4,534.5 L426.8,535.3 L427.1,530.5 L419.6,530.3ZM426.8,535.3 L434.3,536.0 L434.6,530.7 L427.1,530.5ZM415.0,509.3 L421.1,505.0 L419.6,503.1 L414.2,508.4ZM421.1,505.0 L427.2,500.6 L424.9,497.8 L419.6,503.1ZM287.9,510.5 L293.2,505.3 L291.6,503.9 L287.6,510.3ZM293.2,505.3 L298.6,500.0 L295.7,497.6 L291.6,503.9Z" fill="#aeaedb" stroke="#aeaedb" stroke-width="0.7" stroke-linejoin="round"/>
<path d="M169.6,478.6 L174.0,472.6 L172.1,471.5 L169.1,478.3ZM174.0,472.6 L178.5,466.6 L175.1,464.6 L172.1,471.5Z" fill="#b7b7e5" stroke="#b7b7e5" stroke-width="0.7" stroke-linejoin="round"/>
<path d="M230.3,518.6 L237.7,519.7 L238.1,515.6 L230.6,515.2ZM237.7,519.7 L245.2,520.7 L245.6,515.9 L238.1,515.6ZM355.4,542.4 L362.8,543.5 L363.3,539.1 L355.8,538.6ZM362.8,543.5 L370.2,544.6 L370.8,539.6 L363.3,539.1ZM482.3,488.8 L488.2,484.3 L486.7,482.6 L481.6,488.1ZM488.2,484.3 L494.2,479.8 L491.8,477.1 L486.7,482.6ZM486.4,518.2 L493.8,519.3 L494.3,514.4 L486.9,513.8ZM493.8,519.3 L501.2,520.4 L501.8,514.9 L494.3,514.4ZM351.2,518.5 L356.4,513.1 L354.8,511.9 L350.9,518.3ZM356.4,513.1 L361.6,507.7 L358.7,505.4 L354.8,511.9ZM226.2,498.3 L230.6,492.2 L228.9,491.3 L226.3,498.3ZM230.6,492.2 L234.9,486.0 L231.4,484.2 L228.9,491.3Z" fill="#aeaedb" stroke="#aeaedb" stroke-width="0.7" stroke-linejoin="round"/>
<path d="M125.8,458.5 L129.4,451.9 L127.3,451.1 L125.4,458.4ZM129.4,451.9 L133.0,445.3 L129.2,443.9 L127.3,451.1Z" fill="#e5e5f7" stroke="#e5e5f7" stroke-width="0.7" stroke-linejoin="round"/>
<path d="M175.1,500.3 L182.6,501.1 L182.8,497.0 L175.3,496.9ZM182.6,501.1 L190.0,501.9 L190.3,497.1 L182.8,497.0Z" fill="#c0c0e5" stroke="#c0c0e5" stroke-width="0.7" stroke-linejoin="round"/>
<path d="M291.4,534.3 L298.8,535.7 L299.4,531.4 L291.9,530.7ZM298.8,535.7 L306.1,537.1 L306.8,532.2 L299.4,531.4ZM418.8,538.8 L426.2,540.1 L426.8,535.3 L419.4,534.5ZM426.2,540.1 L433.6,541.4 L434.3,536.0 L426.8,535.3ZM414.2,508.4 L419.6,503.1 L417.9,501.8 L413.9,508.1ZM419.6,503.1 L424.9,497.8 L422.0,495.5 L417.9,501.8ZM287.6,510.3 L291.6,503.9 L290.0,503.2 L287.8,510.4ZM291.6,503.9 L295.7,497.6 L292.1,496.0 L290.0,503.2Z" fill="#aeaedb" stroke="#aeaedb" stroke-width="0.7" stroke-linejoin="round"/>
<path d="M169.1,478.3 L172.1,471.5 L170.2,470.9 L169.2,478.3ZM172.1,471.5 L175.1,464.6 L171.2,463.5 L170.2,470.9Z" fill="#aeb7e5" stroke="#aeb7e5" stroke-width="0.7" stroke-linejoin="round"/>
<path d="M229.7,522.1 L237.0,523.8 L237.7,519.7 L230.3,518.6ZM237.0,523.8 L244.3,525.5 L245.2,520.7 L237.7,519.7ZM354.7,546.2 L362.0,547.9 L362.8,543.5 L355.4,542.4ZM362.0,547.9 L369.3,549.6 L370.2,544.6 L362.8,543.5ZM481.6,488.1 L486.7,482.6 L485.1,481.5 L481.5,488.0ZM486.7,482.6 L491.8,477.1 L488.7,474.9 L485.1,481.5ZM485.5,522.6 L492.8,524.3 L493.8,519.3 L486.4,518.2ZM492.8,524.3 L500.1,525.9 L501.2,520.4 L493.8,519.3ZM350.9,518.3 L354.8,511.9 L353.1,511.2 L351.3,518.4ZM354.8,511.9 L358.7,505.4 L355.0,503.9 L353.1,511.2ZM226.3,498.3 L228.9,491.3 L227.1,490.9 L226.9,498.4ZM228.9,491.3 L231.4,484.2 L227.4,483.4 L227.1,490.9Z" fill="#aeaedb" stroke="#aeaedb" stroke-width="0.7" stroke-linejoin="round"/>
<path d="M125.4,458.4 L127.3,451.1 L125.3,450.9 L125.4,458.4ZM127.3,451.1 L129.2,443.9 L125.1,443.4 L125.3,450.9Z" fill="#e5e5f7" stroke="#e5e5f7" stroke-width="0.7" stroke-linejoin="round"/>
<path d="M174.6,503.8 L181.9,505.2 L182.6,501.1 L175.1,500.3ZM181.9,505.2 L189.3,506.6 L190.0,501.9 L182.6,501.1Z" fill="#c0c0e5" stroke="#c0c0e5" stroke-width="0.7" stroke-linejoin="round"/>
<path d="M290.6,538.0 L297.8,540.0 L298.8,535.7 L291.4,534.3ZM297.8,540.0 L305.0,542.0 L306.1,537.1 L298.8,535.7ZM417.9,543.0 L425.2,544.9 L426.2,540.1 L418.8,538.8ZM425.2,544.9 L432.4,546.7 L433.6,541.4 L426.2,540.1ZM413.9,508.1 L417.9,501.8 L416.3,501.1 L414.3,508.3ZM417.9,501.8 L422.0,495.5 L418.4,493.9 L416.3,501.1ZM287.8,510.4 L290.0,503.2 L288.3,503.0 L288.8,510.5ZM290.0,503.2 L292.1,496.0 L287.9,495.5 L288.3,503.0Z" fill="#aeaedb" stroke="#aeaedb" stroke-width="0.7" stroke-linejoin="round"/>
<path d="M169.2,478.3 L170.2,470.9 L168.3,470.9 L169.6,478.3ZM170.2,470.9 L171.2,463.5 L167.0,463.6 L168.3,470.9Z" fill="#aeb7e5" stroke="#aeb7e5" stroke-width="0.7" stroke-linejoin="round"/>
<path d="M228.7,525.5 L235.9,527.9 L237.0,523.8 L229.7,522.1ZM235.9,527.9 L243.0,530.2 L244.3,525.5 L237.0,523.8ZM353.6,549.9 L360.8,552.3 L362.0,547.9 L354.7,546.2ZM360.8,552.3 L367.9,554.6 L369.3,549.6 L362.0,547.9ZM481.5,488.0 L485.1,481.5 L483.6,480.9 L482.3,488.3ZM485.1,481.5 L488.7,474.9 L484.9,473.5 L483.6,480.9ZM484.4,527.0 L491.5,529.2 L492.8,524.3 L485.5,522.6ZM491.5,529.2 L498.7,531.4 L500.1,525.9 L492.8,524.3ZM351.3,518.4 L353.1,511.2 L351.5,511.0 L352.2,518.5ZM353.1,511.2 L355.0,503.9 L350.8,503.6 L351.5,511.0ZM226.9,498.4 L227.1,490.9 L225.4,491.1 L227.7,498.3ZM227.1,490.9 L227.4,483.4 L223.2,484.0 L225.4,491.1Z" fill="#aeaedb" stroke="#aeaedb" stroke-width="0.7" stroke-linejoin="round"/>
<path d="M125.4,458.4 L125.3,450.9 L123.3,451.2 L125.5,458.3ZM125.3,450.9 L125.1,443.4 L121.0,444.0 L123.3,451.2Z" fill="#e5e5f7" stroke="#e5e5f7" stroke-width="0.7" stroke-linejoin="round"/>
<path d="M173.8,507.1 L181.0,509.2 L181.9,505.2 L174.6,503.8ZM181.0,509.2 L188.1,511.4 L189.3,506.6 L181.9,505.2Z" fill="#c0c0e5" stroke="#c0c0e5" stroke-width="0.7" stroke-linejoin="round"/>
<path d="M289.4,541.6 L296.4,544.2 L297.8,540.0 L290.6,538.0ZM296.4,544.2 L303.4,546.9 L305.0,542.0 L297.8,540.0ZM416.7,547.1 L423.7,549.6 L425.2,544.9 L417.9,543.0ZM423.7,549.6 L430.8,552.0 L432.4,546.7 L425.2,544.9ZM414.3,508.3 L416.3,501.1 L414.8,500.9 L415.5,508.4ZM416.3,501.1 L418.4,493.9 L414.1,493.5 L414.8,500.9ZM288.8,510.5 L288.3,503.0 L286.7,503.4 L289.8,510.2ZM288.3,503.0 L287.9,495.5 L283.7,496.5 L286.7,503.4Z" fill="#a5aedb" stroke="#a5aedb" stroke-width="0.7" stroke-linejoin="round"/>
<path d="M169.6,478.3 L168.3,470.9 L166.4,471.6 L169.9,478.2ZM168.3,470.9 L167.0,463.6 L163.0,464.9 L166.4,471.6Z" fill="#aeb7db" stroke="#aeb7db" stroke-width="0.7" stroke-linejoin="round"/>
<path d="M227.5,528.8 L234.4,531.8 L235.9,527.9 L228.7,525.5ZM234.4,531.8 L241.2,534.9 L243.0,530.2 L235.9,527.9ZM352.3,553.5 L359.2,556.5 L360.8,552.3 L353.6,549.9ZM359.2,556.5 L366.0,559.5 L367.9,554.6 L360.8,552.3ZM482.3,488.3 L483.6,480.9 L482.2,480.9 L483.9,488.3ZM483.6,480.9 L484.9,473.5 L480.5,473.6 L482.2,480.9ZM482.9,531.2 L489.8,534.0 L491.5,529.2 L484.4,527.0ZM489.8,534.0 L496.8,536.8 L498.7,531.4 L491.5,529.2ZM352.2,518.5 L351.5,511.0 L350.0,511.5 L353.3,518.2ZM351.5,511.0 L350.8,503.6 L346.7,504.7 L350.0,511.5ZM227.7,498.3 L225.4,491.1 L223.8,492.0 L228.2,498.1ZM225.4,491.1 L223.2,484.0 L219.5,485.8 L223.8,492.0Z" fill="#a5aedb" stroke="#a5aedb" stroke-width="0.7" stroke-linejoin="round"/>
<path d="M125.5,458.3 L123.3,451.2 L121.3,452.1 L125.4,458.4ZM123.3,451.2 L121.0,444.0 L117.3,445.8 L121.3,452.1Z" fill="#dbe5ee" stroke="#dbe5ee" stroke-width="0.7" stroke-linejoin="round"/>
<path d="M172.7,510.3 L179.6,513.1 L181.0,509.2 L173.8,507.1ZM179.6,513.1 L186.5,516.0 L188.1,511.4 L181.0,509.2Z" fill="#b7c0e5" stroke="#b7c0e5" stroke-width="0.7" stroke-linejoin="round"/>
<path d="M287.9,545.0 L294.7,548.3 L296.4,544.2 L289.4,541.6ZM294.7,548.3 L301.4,551.6 L303.4,546.9 L296.4,544.2ZM415.1,551.1 L421.9,554.1 L423.7,549.6 L416.7,547.1ZM421.9,554.1 L428.8,557.2 L430.8,552.0 L423.7,549.6ZM415.5,508.4 L414.8,500.9 L413.4,501.4 L416.9,508.0ZM414.8,500.9 L414.1,493.5 L409.9,494.7 L413.4,501.4ZM289.8,510.2 L286.7,503.4 L285.2,504.3 L290.2,509.9ZM286.7,503.4 L283.7,496.5 L280.2,498.8 L285.2,504.3Z" fill="#9ba5db" stroke="#9ba5db" stroke-width="0.7" stroke-linejoin="round"/>
<path d="M169.9,478.2 L166.4,471.6 L164.7,472.8 L169.8,478.3ZM166.4,471.6 L163.0,464.9 L159.7,467.2 L164.7,472.8Z" fill="#a5aedb" stroke="#a5aedb" stroke-width="0.7" stroke-linejoin="round"/>
<path d="M225.9,531.9 L232.5,535.6 L234.4,531.8 L227.5,528.8ZM232.5,535.6 L239.0,539.3 L241.2,534.9 L234.4,531.8ZM350.6,556.9 L357.2,560.5 L359.2,556.5 L352.3,553.5ZM357.2,560.5 L363.7,564.2 L366.0,559.5 L359.2,556.5ZM483.9,488.3 L482.2,480.9 L480.8,481.6 L485.2,487.6ZM482.2,480.9 L480.5,473.6 L476.5,475.5 L480.8,481.6ZM481.0,535.2 L487.7,538.6 L489.8,534.0 L482.9,531.2ZM487.7,538.6 L494.4,542.0 L496.8,536.8 L489.8,534.0ZM353.3,518.2 L350.0,511.5 L348.6,512.5 L353.8,517.8ZM350.0,511.5 L346.7,504.7 L343.4,507.1 L348.6,512.5ZM228.2,498.1 L223.8,492.0 L222.4,493.3 L228.1,498.1ZM223.8,492.0 L219.5,485.8 L216.6,488.5 L222.4,493.3Z" fill="#9ba5d2" stroke="#9ba5d2" stroke-width="0.7" stroke-linejoin="round"/>
<path d="M125.4,458.4 L121.3,452.1 L119.5,453.6 L124.9,458.8ZM121.3,452.1 L117.3,445.8 L114.1,448.4 L119.5,453.6Z" fill="#dbdbee" stroke="#dbdbee" stroke-width="0.7" stroke-linejoin="round"/>
<path d="M171.3,513.2 L177.9,516.8 L179.6,513.1 L172.7,510.3ZM177.9,516.8 L184.5,520.3 L186.5,516.0 L179.6,513.1Z" fill="#b7b7e5" stroke="#b7b7e5" stroke-width="0.7" stroke-linejoin="round"/>
<path d="M286.2,548.2 L292.5,552.1 L294.7,548.3 L287.9,545.0ZM292.5,552.1 L298.9,556.1 L301.4,551.6 L294.7,548.3ZM413.2,554.8 L419.8,558.5 L421.9,554.1 L415.1,551.1ZM419.8,558.5 L426.3,562.1 L428.8,557.2 L421.9,554.1ZM416.9,508.0 L413.4,501.4 L412.1,502.3 L417.6,507.5ZM413.4,501.4 L409.9,494.7 L406.6,497.2 L412.1,502.3ZM290.2,509.9 L285.2,504.3 L283.9,505.9 L290.1,510.1ZM285.2,504.3 L280.2,498.8 L277.7,501.7 L283.9,505.9ZM169.8,478.3 L164.7,472.8 L163.2,474.5 L169.3,478.9ZM164.7,472.8 L159.7,467.2 L157.0,470.2 L163.2,474.5Z" fill="#9ba5d2" stroke="#9ba5d2" stroke-width="0.7" stroke-linejoin="round"/>
<path d="M224.1,534.7 L230.2,539.1 L232.5,535.6 L225.9,531.9ZM230.2,539.1 L236.3,543.5 L239.0,539.3 L232.5,535.6ZM348.7,560.0 L354.8,564.3 L357.2,560.5 L350.6,556.9ZM354.8,564.3 L361.0,568.6 L363.7,564.2 L357.2,560.5ZM485.2,487.6 L480.8,481.6 L479.7,482.7 L485.8,487.1ZM480.8,481.6 L476.5,475.5 L473.6,478.3 L479.7,482.7ZM478.9,539.0 L485.3,543.0 L487.7,538.6 L481.0,535.2ZM485.3,543.0 L491.6,547.0 L494.4,542.0 L487.7,538.6ZM353.8,517.8 L348.6,512.5 L347.4,514.0 L353.7,518.0ZM348.6,512.5 L343.4,507.1 L341.0,510.1 L347.4,514.0ZM228.1,498.1 L222.4,493.3 L221.1,495.3 L227.7,498.8ZM222.4,493.3 L216.6,488.5 L214.5,491.7 L221.1,495.3Z" fill="#929bd2" stroke="#929bd2" stroke-width="0.7" stroke-linejoin="round"/>
<path d="M124.9,458.8 L119.5,453.6 L117.9,455.7 L124.1,459.8ZM119.5,453.6 L114.1,448.4 L111.6,451.5 L117.9,455.7Z" fill="#dbdbee" stroke="#dbdbee" stroke-width="0.7" stroke-linejoin="round"/>
<path d="M169.7,515.8 L175.8,520.1 L177.9,516.8 L171.3,513.2ZM175.8,520.1 L181.9,524.5 L184.5,520.3 L177.9,516.8Z" fill="#aeb7db" stroke="#aeb7db" stroke-width="0.7" stroke-linejoin="round"/>
<path d="M284.2,551.0 L290.0,555.7 L292.5,552.1 L286.2,548.2ZM290.0,555.7 L295.9,560.3 L298.9,556.1 L292.5,552.1ZM411.1,558.2 L417.3,562.5 L419.8,558.5 L413.2,554.8ZM417.3,562.5 L423.4,566.8 L426.3,562.1 L419.8,558.5ZM417.6,507.5 L412.1,502.3 L411.0,503.9 L417.6,507.4ZM412.1,502.3 L406.6,497.2 L404.4,500.3 L411.0,503.9ZM290.1,510.1 L283.9,505.9 L282.8,508.0 L289.6,511.0ZM283.9,505.9 L277.7,501.7 L275.9,505.0 L282.8,508.0ZM169.3,478.9 L163.2,474.5 L161.8,476.9 L168.6,480.1ZM163.2,474.5 L157.0,470.2 L155.0,473.7 L161.8,476.9Z" fill="#929bd2" stroke="#929bd2" stroke-width="0.7" stroke-linejoin="round"/>
<path d="M222.1,537.2 L227.6,542.3 L230.2,539.1 L224.1,534.7ZM227.6,542.3 L233.1,547.4 L236.3,543.5 L230.2,539.1Z" fill="#8992d2" stroke="#8992d2" stroke-width="0.7" stroke-linejoin="round"/>
<path d="M346.5,562.7 L352.1,567.7 L354.8,564.3 L348.7,560.0ZM352.1,567.7 L357.7,572.7 L361.0,568.6 L354.8,564.3ZM485.8,487.1 L479.7,482.7 L478.7,484.4 L485.7,487.3ZM479.7,482.7 L473.6,478.3 L471.8,481.6 L478.7,484.4ZM476.5,542.4 L482.5,547.0 L485.3,543.0 L478.9,539.0ZM482.5,547.0 L488.4,551.6 L491.6,547.0 L485.3,543.0ZM353.7,518.0 L347.4,514.0 L346.3,516.1 L353.4,518.8ZM347.4,514.0 L341.0,510.1 L339.3,513.4 L346.3,516.1ZM227.7,498.8 L221.1,495.3 L220.0,497.7 L227.1,500.2ZM221.1,495.3 L214.5,491.7 L212.9,495.3 L220.0,497.7Z" fill="#8992c9" stroke="#8992c9" stroke-width="0.7" stroke-linejoin="round"/>
<path d="M124.1,459.8 L117.9,455.7 L116.4,458.2 L123.3,461.4ZM117.9,455.7 L111.6,451.5 L109.6,455.1 L116.4,458.2Z" fill="#d2dbee" stroke="#d2dbee" stroke-width="0.7" stroke-linejoin="round"/>
<path d="M167.8,518.1 L173.4,523.1 L175.8,520.1 L169.7,515.8ZM173.4,523.1 L178.9,528.2 L181.9,524.5 L175.8,520.1Z" fill="#aeaedb" stroke="#aeaedb" stroke-width="0.7" stroke-linejoin="round"/>
<path d="M281.9,553.6 L287.2,558.9 L290.0,555.7 L284.2,551.0ZM287.2,558.9 L292.5,564.2 L295.9,560.3 L290.0,555.7ZM408.8,561.2 L414.4,566.1 L417.3,562.5 L411.1,558.2ZM414.4,566.1 L420.0,571.1 L423.4,566.8 L417.3,562.5ZM417.6,507.4 L411.0,503.9 L410.2,505.9 L417.4,508.1ZM411.0,503.9 L404.4,500.3 L403.0,503.7 L410.2,505.9ZM289.6,511.0 L282.8,508.0 L281.9,510.6 L289.1,512.5ZM282.8,508.0 L275.9,505.0 L274.6,508.7 L281.9,510.6ZM168.6,480.1 L161.8,476.9 L160.7,479.7 L167.9,481.9ZM161.8,476.9 L155.0,473.7 L153.6,477.5 L160.7,479.7Z" fill="#8992c9" stroke="#8992c9" stroke-width="0.7" stroke-linejoin="round"/>
<path d="M219.9,539.4 L224.7,545.1 L227.6,542.3 L222.1,537.2ZM224.7,545.1 L229.5,550.9 L233.1,547.4 L227.6,542.3ZM344.1,565.1 L349.1,570.7 L352.1,567.7 L346.5,562.7ZM349.1,570.7 L354.1,576.4 L357.7,572.7 L352.1,567.7ZM485.7,487.3 L478.7,484.4 L478.1,486.6 L485.4,488.3ZM478.7,484.4 L471.8,481.6 L470.7,485.0 L478.1,486.6ZM473.9,545.4 L479.3,550.6 L482.5,547.0 L476.5,542.4ZM479.3,550.6 L484.8,555.8 L488.4,551.6 L482.5,547.0ZM353.4,518.8 L346.3,516.1 L345.6,518.7 L352.9,520.3ZM346.3,516.1 L339.3,513.4 L338.3,517.0 L345.6,518.7ZM227.1,500.2 L220.0,497.7 L219.2,500.7 L226.5,502.2ZM220.0,497.7 L212.9,495.3 L211.8,499.2 L219.2,500.7Z" fill="#8089c9" stroke="#8089c9" stroke-width="0.7" stroke-linejoin="round"/>
<path d="M123.3,461.4 L116.4,458.2 L115.3,461.3 L122.4,463.6ZM116.4,458.2 L109.6,455.1 L108.1,459.1 L115.3,461.3Z" fill="#d2d2ee" stroke="#d2d2ee" stroke-width="0.7" stroke-linejoin="round"/>
<path d="M165.9,519.9 L170.6,525.7 L173.4,523.1 L167.8,518.1ZM170.6,525.7 L175.4,531.5 L178.9,528.2 L173.4,523.1Z" fill="#a5aedb" stroke="#a5aedb" stroke-width="0.7" stroke-linejoin="round"/>
<path d="M279.5,555.7 L284.1,561.6 L287.2,558.9 L281.9,553.6ZM284.1,561.6 L288.7,567.6 L292.5,564.2 L287.2,558.9ZM406.2,563.8 L411.2,569.4 L414.4,566.1 L408.8,561.2ZM411.2,569.4 L416.2,574.9 L420.0,571.1 L414.4,566.1ZM417.4,508.1 L410.2,505.9 L409.6,508.4 L417.1,509.5ZM410.2,505.9 L403.0,503.7 L402.2,507.3 L409.6,508.4ZM289.1,512.5 L281.9,510.6 L281.2,513.7 L288.7,514.8ZM281.9,510.6 L274.6,508.7 L273.8,512.7 L281.2,513.7ZM167.9,481.9 L160.7,479.7 L159.9,483.0 L167.3,484.4ZM160.7,479.7 L153.6,477.5 L152.5,481.7 L159.9,483.0Z" fill="#8089c9" stroke="#8089c9" stroke-width="0.7" stroke-linejoin="round"/>
<path d="M217.5,541.1 L221.5,547.5 L224.7,545.1 L219.9,539.4ZM221.5,547.5 L225.4,553.8 L229.5,550.9 L224.7,545.1ZM341.6,567.1 L345.8,573.3 L349.1,570.7 L344.1,565.1ZM345.8,573.3 L350.0,579.5 L354.1,576.4 L349.1,570.7ZM485.4,488.3 L478.1,486.6 L477.7,489.3 L485.2,489.9ZM478.1,486.6 L470.7,485.0 L470.2,488.7 L477.7,489.3ZM471.1,548.0 L475.9,553.8 L479.3,550.6 L473.9,545.4ZM475.9,553.8 L480.7,559.6 L484.8,555.8 L479.3,550.6ZM352.9,520.3 L345.6,518.7 L345.1,521.7 L352.6,522.4ZM345.6,518.7 L338.3,517.0 L337.7,520.9 L345.1,521.7ZM226.5,502.2 L219.2,500.7 L218.7,504.1 L226.1,504.8ZM219.2,500.7 L211.8,499.2 L211.2,503.4 L218.7,504.1Z" fill="#4952a5" stroke="#4952a5" stroke-width="0.7" stroke-linejoin="round"/>
<path d="M122.4,463.6 L115.3,461.3 L114.4,464.9 L121.8,466.3ZM115.3,461.3 L108.1,459.1 L107.0,463.4 L114.4,464.9Z" fill="#c0c0db" stroke="#c0c0db" stroke-width="0.7" stroke-linejoin="round"/>
<path d="M163.8,521.4 L167.6,527.9 L170.6,525.7 L165.9,519.9ZM167.6,527.9 L171.5,534.3 L175.4,531.5 L170.6,525.7Z" fill="#8992c0" stroke="#8992c0" stroke-width="0.7" stroke-linejoin="round"/>
<path d="M276.9,557.4 L280.7,563.9 L284.1,561.6 L279.5,555.7ZM280.7,563.9 L284.4,570.4 L288.7,567.6 L284.1,561.6ZM403.5,566.0 L407.8,572.1 L411.2,569.4 L406.2,563.8ZM407.8,572.1 L412.1,578.3 L416.2,574.9 L411.2,569.4ZM417.1,509.5 L409.6,508.4 L409.4,511.4 L416.9,511.6ZM409.6,508.4 L402.2,507.3 L401.9,511.2 L409.4,511.4ZM288.7,514.8 L281.2,513.7 L280.9,517.2 L288.4,517.5ZM281.2,513.7 L273.8,512.7 L273.4,517.0 L280.9,517.2ZM167.3,484.4 L159.9,483.0 L159.4,486.8 L166.9,487.4ZM159.9,483.0 L152.5,481.7 L151.9,486.2 L159.4,486.8Z" fill="#495ba5" stroke="#495ba5" stroke-width="0.7" stroke-linejoin="round"/>
<path d="M214.9,542.5 L218.0,549.3 L221.5,547.5 L217.5,541.1ZM218.0,549.3 L221.0,556.2 L225.4,553.8 L221.5,547.5ZM338.9,568.7 L342.2,575.4 L345.8,573.3 L341.6,567.1ZM342.2,575.4 L345.5,582.1 L350.0,579.5 L345.8,573.3ZM485.2,489.9 L477.7,489.3 L477.6,492.4 L485.1,492.1ZM477.7,489.3 L470.2,488.7 L470.1,492.6 L477.6,492.4ZM468.2,550.2 L472.2,556.5 L475.9,553.8 L471.1,548.0ZM472.2,556.5 L476.3,562.8 L480.7,559.6 L475.9,553.8ZM352.6,522.4 L345.1,521.7 L345.0,525.1 L352.5,525.0ZM345.1,521.7 L337.7,520.9 L337.5,525.1 L345.0,525.1ZM226.1,504.8 L218.7,504.1 L218.5,507.9 L226.0,508.0ZM218.7,504.1 L211.2,503.4 L211.0,507.9 L218.5,507.9Z" fill="#525ba5" stroke="#525ba5" stroke-width="0.7" stroke-linejoin="round"/>
<path d="M121.8,466.3 L114.4,464.9 L113.8,468.8 L121.3,469.5ZM114.4,464.9 L107.0,463.4 L106.4,468.1 L113.8,468.8Z" fill="#c0c0db" stroke="#c0c0db" stroke-width="0.7" stroke-linejoin="round"/>
<path d="M161.5,522.5 L164.4,529.5 L167.6,527.9 L163.8,521.4ZM164.4,529.5 L167.2,536.4 L171.5,534.3 L167.6,527.9Z" fill="#8992c9" stroke="#8992c9" stroke-width="0.7" stroke-linejoin="round"/>
<path d="M274.2,558.8 L277.0,565.7 L280.7,563.9 L276.9,557.4ZM277.0,565.7 L279.8,572.7 L284.4,570.4 L280.7,563.9ZM400.6,567.7 L404.1,574.4 L407.8,572.1 L403.5,566.0ZM404.1,574.4 L407.5,581.0 L412.1,578.3 L407.8,572.1ZM416.9,511.6 L409.4,511.4 L409.5,514.7 L417.0,514.1ZM409.4,511.4 L401.9,511.2 L402.0,515.2 L409.5,514.7ZM288.4,517.5 L280.9,517.2 L281.0,521.1 L288.4,520.8ZM280.9,517.2 L273.4,517.0 L273.5,521.5 L281.0,521.1ZM166.9,487.4 L159.4,486.8 L159.3,490.9 L166.8,490.8ZM159.4,486.8 L151.9,486.2 L151.8,491.0 L159.3,490.9Z" fill="#525bae" stroke="#525bae" stroke-width="0.7" stroke-linejoin="round"/>
<path d="M212.2,543.4 L214.2,550.7 L218.0,549.3 L214.9,542.5ZM214.2,550.7 L216.3,557.9 L221.0,556.2 L218.0,549.3ZM336.0,569.8 L338.4,577.0 L342.2,575.4 L338.9,568.7ZM338.4,577.0 L340.7,584.1 L345.5,582.1 L342.2,575.4ZM485.1,492.1 L477.6,492.4 L477.9,495.8 L485.3,494.8ZM477.6,492.4 L470.1,492.6 L470.4,496.7 L477.9,495.8ZM465.1,551.9 L468.3,558.7 L472.2,556.5 L468.2,550.2ZM468.3,558.7 L471.5,565.5 L476.3,562.8 L472.2,556.5ZM352.5,525.0 L345.0,525.1 L345.2,528.8 L352.6,528.1ZM345.0,525.1 L337.5,525.1 L337.7,529.5 L345.2,528.8ZM226.0,508.0 L218.5,507.9 L218.6,512.0 L226.1,511.5ZM218.5,507.9 L211.0,507.9 L211.1,512.6 L218.6,512.0Z" fill="#5265ae" stroke="#5265ae" stroke-width="0.7" stroke-linejoin="round"/>
<path d="M121.3,469.5 L113.8,468.8 L113.6,473.1 L121.1,473.1ZM113.8,468.8 L106.4,468.1 L106.1,473.0 L113.6,473.1Z" fill="#c0c0db" stroke="#c0c0db" stroke-width="0.7" stroke-linejoin="round"/>
<path d="M159.2,523.3 L160.9,530.6 L164.4,529.5 L161.5,522.5ZM160.9,530.6 L162.6,537.9 L167.2,536.4 L164.4,529.5Z" fill="#929bc9" stroke="#929bc9" stroke-width="0.7" stroke-linejoin="round"/>
<path d="M271.3,559.7 L273.1,567.0 L277.0,565.7 L274.2,558.8ZM273.1,567.0 L274.9,574.3 L279.8,572.7 L277.0,565.7ZM397.6,569.0 L400.2,576.1 L404.1,574.4 L400.6,567.7ZM400.2,576.1 L402.7,583.1 L407.5,581.0 L404.1,574.4ZM417.0,514.1 L409.5,514.7 L409.9,518.3 L417.3,517.0ZM409.5,514.7 L402.0,515.2 L402.5,519.5 L409.9,518.3ZM288.4,520.8 L281.0,521.1 L281.3,525.4 L288.8,524.4ZM281.0,521.1 L273.5,521.5 L273.9,526.3 L281.3,525.4ZM166.8,490.8 L159.3,490.9 L159.5,495.3 L166.9,494.7ZM159.3,490.9 L151.8,491.0 L152.0,496.0 L159.5,495.3ZM209.4,544.0 L210.3,551.4 L214.2,550.7 L212.2,543.4ZM210.3,551.4 L211.3,558.9 L216.3,557.9 L214.2,550.7ZM333.1,570.6 L334.4,578.0 L338.4,577.0 L336.0,569.8ZM334.4,578.0 L335.6,585.4 L340.7,584.1 L338.4,577.0ZM485.3,494.8 L477.9,495.8 L478.5,499.5 L485.8,497.9ZM477.9,495.8 L470.4,496.7 L471.2,501.1 L478.5,499.5ZM462.0,553.1 L464.2,560.3 L468.3,558.7 L465.1,551.9ZM464.2,560.3 L466.5,567.4 L471.5,565.5 L468.3,558.7ZM352.6,528.1 L345.2,528.8 L345.7,532.8 L353.1,531.5ZM345.2,528.8 L337.7,529.5 L338.3,534.1 L345.7,532.8ZM226.1,511.5 L218.6,512.0 L219.1,516.5 L226.6,515.3ZM218.6,512.0 L211.1,512.6 L211.7,517.6 L219.1,516.5Z" fill="#5b65ae" stroke="#5b65ae" stroke-width="0.7" stroke-linejoin="round"/>
<path d="M121.1,473.1 L113.6,473.1 L113.8,477.6 L121.2,477.1ZM113.6,473.1 L106.1,473.0 L106.3,478.1 L113.8,477.6Z" fill="#c0c0db" stroke="#c0c0db" stroke-width="0.7" stroke-linejoin="round"/>
<path d="M156.8,523.6 L157.3,531.1 L160.9,530.6 L159.2,523.3ZM157.3,531.1 L157.8,538.6 L162.6,537.9 L160.9,530.6Z" fill="#9b9bd2" stroke="#9b9bd2" stroke-width="0.7" stroke-linejoin="round"/>
<path d="M268.4,560.2 L269.1,567.7 L273.1,567.0 L271.3,559.7ZM269.1,567.7 L269.8,575.1 L274.9,574.3 L273.1,567.0ZM394.6,569.8 L396.1,577.2 L400.2,576.1 L397.6,569.0ZM396.1,577.2 L397.6,584.5 L402.7,583.1 L400.2,576.1ZM417.3,517.0 L409.9,518.3 L410.7,522.1 L418.0,520.3ZM409.9,518.3 L402.5,519.5 L403.5,524.0 L410.7,522.1ZM288.8,524.4 L281.3,525.4 L282.1,529.8 L289.4,528.3ZM281.3,525.4 L273.9,526.3 L274.7,531.4 L282.1,529.8ZM166.9,494.7 L159.5,495.3 L160.1,500.0 L167.5,498.8ZM159.5,495.3 L152.0,496.0 L152.7,501.2 L160.1,500.0Z" fill="#5b65b7" stroke="#5b65b7" stroke-width="0.7" stroke-linejoin="round"/>
<path d="M206.5,544.2 L206.3,551.7 L210.3,551.4 L209.4,544.0ZM206.3,551.7 L206.1,559.2 L211.3,558.9 L210.3,551.4ZM330.0,570.9 L330.2,578.4 L334.4,578.0 L333.1,570.6ZM330.2,578.4 L330.4,585.9 L335.6,585.4 L334.4,578.0ZM485.8,497.9 L478.5,499.5 L479.5,503.4 L486.7,501.2ZM478.5,499.5 L471.2,501.1 L472.4,505.6 L479.5,503.4ZM458.7,553.9 L460.0,561.3 L464.2,560.3 L462.0,553.1ZM460.0,561.3 L461.3,568.7 L466.5,567.4 L464.2,560.3ZM353.1,531.5 L345.7,532.8 L346.7,537.0 L353.9,535.1ZM345.7,532.8 L338.3,534.1 L339.4,538.9 L346.7,537.0ZM226.6,515.3 L219.1,516.5 L220.0,521.1 L227.3,519.4ZM219.1,516.5 L211.7,517.6 L212.7,522.8 L220.0,521.1Z" fill="#5b6eb7" stroke="#5b6eb7" stroke-width="0.7" stroke-linejoin="round"/>
<path d="M121.2,477.1 L113.8,477.6 L114.3,482.4 L121.7,481.3ZM113.8,477.6 L106.3,478.1 L106.9,483.4 L114.3,482.4Z" fill="#c0c0e5" stroke="#c0c0e5" stroke-width="0.7" stroke-linejoin="round"/>
<path d="M154.2,523.6 L153.5,531.0 L157.3,531.1 L156.8,523.6ZM153.5,531.0 L152.8,538.5 L157.8,538.6 L157.3,531.1Z" fill="#9ba5d2" stroke="#9ba5d2" stroke-width="0.7" stroke-linejoin="round"/>
<path d="M265.3,560.3 L264.9,567.8 L269.1,567.7 L268.4,560.2ZM264.9,567.8 L264.6,575.3 L269.8,575.1 L269.1,567.7ZM391.5,570.3 L391.9,577.7 L396.1,577.2 L394.6,569.8ZM391.9,577.7 L392.3,585.2 L397.6,584.5 L396.1,577.2ZM418.0,520.3 L410.7,522.1 L411.9,526.1 L419.0,523.7ZM410.7,522.1 L403.5,524.0 L404.8,528.6 L411.9,526.1ZM289.4,528.3 L282.1,529.8 L283.2,534.5 L290.4,532.4ZM282.1,529.8 L274.7,531.4 L276.0,536.5 L283.2,534.5ZM167.5,498.8 L160.1,500.0 L161.0,504.8 L168.3,503.1ZM160.1,500.0 L152.7,501.2 L153.8,506.6 L161.0,504.8ZM203.4,543.9 L202.2,551.3 L206.3,551.7 L206.5,544.2ZM202.2,551.3 L201.0,558.7 L206.1,559.2 L206.3,551.7ZM326.8,570.8 L326.0,578.2 L330.2,578.4 L330.0,570.9ZM326.0,578.2 L325.2,585.7 L330.4,585.9 L330.2,578.4ZM486.7,501.2 L479.5,503.4 L480.9,507.4 L487.9,504.7ZM479.5,503.4 L472.4,505.6 L473.9,510.1 L480.9,507.4ZM455.4,554.3 L455.7,561.8 L460.0,561.3 L458.7,553.9ZM455.7,561.8 L455.9,569.3 L461.3,568.7 L460.0,561.3ZM353.9,535.1 L346.7,537.0 L348.0,541.3 L355.1,538.9ZM346.7,537.0 L339.4,538.9 L340.9,543.8 L348.0,541.3ZM227.3,519.4 L220.0,521.1 L221.3,525.8 L228.5,523.6ZM220.0,521.1 L212.7,522.8 L214.2,528.0 L221.3,525.8Z" fill="#656eb7" stroke="#656eb7" stroke-width="0.7" stroke-linejoin="round"/>
<path d="M121.7,481.3 L114.3,482.4 L115.2,487.2 L122.5,485.6ZM114.3,482.4 L106.9,483.4 L107.9,488.9 L115.2,487.2Z" fill="#b7c0e5" stroke="#b7c0e5" stroke-width="0.7" stroke-linejoin="round"/>
<path d="M151.5,523.1 L149.7,530.4 L153.5,531.0 L154.2,523.6ZM149.7,530.4 L147.9,537.7 L152.8,538.5 L153.5,531.0Z" fill="#a5a5d2" stroke="#a5a5d2" stroke-width="0.7" stroke-linejoin="round"/>
<path d="M262.1,559.9 L260.7,567.3 L264.9,567.8 L265.3,560.3ZM260.7,567.3 L259.3,574.7 L264.6,575.3 L264.9,567.8ZM388.2,570.2 L387.6,577.7 L391.9,577.7 L391.5,570.3ZM387.6,577.7 L387.0,585.2 L392.3,585.2 L391.9,577.7ZM419.0,523.7 L411.9,526.1 L413.5,530.2 L420.4,527.3ZM411.9,526.1 L404.8,528.6 L406.6,533.2 L413.5,530.2ZM521.9,533.6 L521.7,541.1 L526.0,541.0 L525.8,533.5ZM521.7,541.1 L521.4,548.6 L526.2,548.5 L526.0,541.0ZM290.4,532.4 L283.2,534.5 L284.8,539.2 L291.8,536.7ZM283.2,534.5 L276.0,536.5 L277.7,541.7 L284.8,539.2ZM168.3,503.1 L161.0,504.8 L162.4,509.8 L169.6,507.5ZM161.0,504.8 L153.8,506.6 L155.3,512.1 L162.4,509.8ZM200.2,543.1 L198.0,550.3 L202.2,551.3 L203.4,543.9ZM198.0,550.3 L195.8,557.5 L201.0,558.7 L202.2,551.3ZM323.5,570.2 L321.7,577.5 L326.0,578.2 L326.8,570.8ZM321.7,577.5 L319.9,584.8 L325.2,585.7 L326.0,578.2ZM487.9,504.7 L480.9,507.4 L482.7,511.5 L489.5,508.3ZM480.9,507.4 L473.9,510.1 L475.9,514.8 L482.7,511.5ZM452.0,554.2 L451.3,561.6 L455.7,561.8 L455.4,554.3ZM451.3,561.6 L450.6,569.1 L455.9,569.3 L455.7,561.8ZM355.1,538.9 L348.0,541.3 L349.7,545.7 L356.6,542.8ZM348.0,541.3 L340.9,543.8 L342.8,548.7 L349.7,545.7ZM228.5,523.6 L221.3,525.8 L223.0,530.6 L230.0,527.9ZM221.3,525.8 L214.2,528.0 L216.0,533.3 L223.0,530.6Z" fill="#656eb7" stroke="#656eb7" stroke-width="0.7" stroke-linejoin="round"/>
<path d="M122.5,485.6 L115.2,487.2 L116.5,492.2 L123.7,490.0ZM115.2,487.2 L107.9,488.9 L109.3,494.3 L116.5,492.2Z" fill="#b7c0db" stroke="#b7c0db" stroke-width="0.7" stroke-linejoin="round"/>
<path d="M148.7,522.2 L145.9,529.2 L149.7,530.4 L151.5,523.1ZM145.9,529.2 L143.1,536.1 L147.9,537.7 L149.7,530.4Z" fill="#a5aed2" stroke="#a5aed2" stroke-width="0.7" stroke-linejoin="round"/>
<path d="M258.8,559.1 L256.5,566.2 L260.7,567.3 L262.1,559.9ZM256.5,566.2 L254.2,573.3 L259.3,574.7 L260.7,567.3ZM385.0,569.7 L383.4,577.1 L387.6,577.7 L388.2,570.2ZM383.4,577.1 L381.8,584.4 L387.0,585.2 L387.6,577.7ZM420.4,527.3 L413.5,530.2 L415.5,534.4 L422.1,530.9ZM413.5,530.2 L406.6,533.2 L408.8,537.9 L415.5,534.4ZM518.6,533.3 L517.3,540.7 L521.7,541.1 L521.9,533.6ZM517.3,540.7 L516.0,548.0 L521.4,548.6 L521.7,541.1ZM291.8,536.7 L284.8,539.2 L286.7,544.0 L293.5,540.9ZM284.8,539.2 L277.7,541.7 L279.8,547.0 L286.7,544.0ZM169.6,507.5 L162.4,509.8 L164.2,514.8 L171.2,512.0ZM162.4,509.8 L155.3,512.1 L157.2,517.5 L164.2,514.8ZM196.9,541.9 L193.8,548.8 L198.0,550.3 L200.2,543.1ZM193.8,548.8 L190.8,555.6 L195.8,557.5 L198.0,550.3ZM320.1,569.1 L317.4,576.1 L321.7,577.5 L323.5,570.2ZM317.4,576.1 L314.7,583.1 L319.9,584.8 L321.7,577.5ZM489.5,508.3 L482.7,511.5 L484.9,515.6 L491.4,511.9ZM482.7,511.5 L475.9,514.8 L478.4,519.4 L484.9,515.6ZM448.6,553.6 L446.9,560.9 L451.3,561.6 L452.0,554.2ZM446.9,560.9 L445.2,568.2 L450.6,569.1 L451.3,561.6ZM356.6,542.8 L349.7,545.7 L351.7,550.1 L358.4,546.6ZM349.7,545.7 L342.8,548.7 L345.1,553.6 L351.7,550.1ZM230.0,527.9 L223.0,530.6 L225.0,535.4 L231.8,532.2ZM223.0,530.6 L216.0,533.3 L218.2,538.6 L225.0,535.4Z" fill="#656eb7" stroke="#656eb7" stroke-width="0.7" stroke-linejoin="round"/>
<path d="M123.7,490.0 L116.5,492.2 L118.1,497.1 L125.1,494.5ZM116.5,492.2 L109.3,494.3 L111.1,499.7 L118.1,497.1Z" fill="#b7c0db" stroke="#b7c0db" stroke-width="0.7" stroke-linejoin="round"/>
<path d="M145.7,520.8 L142.1,527.4 L145.9,529.2 L148.7,522.2ZM142.1,527.4 L138.5,534.0 L143.1,536.1 L145.9,529.2Z" fill="#a5aed2" stroke="#a5aed2" stroke-width="0.7" stroke-linejoin="round"/>
<path d="M255.4,557.7 L252.2,564.6 L256.5,566.2 L258.8,559.1ZM252.2,564.6 L249.1,571.4 L254.2,573.3 L256.5,566.2ZM381.6,568.8 L379.1,575.8 L383.4,577.1 L385.0,569.7ZM379.1,575.8 L376.6,582.9 L381.8,584.4 L383.4,577.1ZM422.1,530.9 L415.5,534.4 L417.8,538.5 L424.2,534.5ZM415.5,534.4 L408.8,537.9 L411.5,542.4 L417.8,538.5ZM515.1,532.5 L513.0,539.6 L517.3,540.7 L518.6,533.3ZM513.0,539.6 L510.8,546.8 L516.0,548.0 L517.3,540.7ZM293.5,540.9 L286.7,544.0 L288.9,548.7 L295.6,545.2ZM286.7,544.0 L279.8,547.0 L282.3,552.2 L288.9,548.7ZM171.2,512.0 L164.2,514.8 L166.3,519.7 L173.1,516.4ZM164.2,514.8 L157.2,517.5 L159.5,522.9 L166.3,519.7ZM193.5,540.2 L189.7,546.7 L193.8,548.8 L196.9,541.9ZM189.7,546.7 L185.9,553.1 L190.8,555.6 L193.8,548.8ZM316.6,567.6 L313.2,574.2 L317.4,576.1 L320.1,569.1ZM313.2,574.2 L309.7,580.9 L314.7,583.1 L317.4,576.1ZM491.4,511.9 L484.9,515.6 L487.4,519.7 L493.6,515.4ZM484.9,515.6 L478.4,519.4 L481.2,523.9 L487.4,519.7ZM445.2,552.6 L442.6,559.6 L446.9,560.9 L448.6,553.6ZM442.6,559.6 L440.1,566.7 L445.2,568.2 L446.9,560.9ZM358.4,546.6 L351.7,550.1 L354.2,554.4 L360.5,550.4ZM351.7,550.1 L345.1,553.6 L347.8,558.3 L354.2,554.4ZM231.8,532.2 L225.0,535.4 L227.4,540.1 L234.0,536.4ZM225.0,535.4 L218.2,538.6 L220.9,543.8 L227.4,540.1Z" fill="#656eb7" stroke="#656eb7" stroke-width="0.7" stroke-linejoin="round"/>
<path d="M125.1,494.5 L118.1,497.1 L120.1,501.9 L126.9,498.8ZM118.1,497.1 L111.1,499.7 L113.3,505.1 L120.1,501.9Z" fill="#b7b7db" stroke="#b7b7db" stroke-width="0.7" stroke-linejoin="round"/>
<path d="M142.7,518.9 L138.4,525.0 L142.1,527.4 L145.7,520.8ZM138.4,525.0 L134.0,531.2 L138.5,534.0 L142.1,527.4Z" fill="#a5aedb" stroke="#a5aedb" stroke-width="0.7" stroke-linejoin="round"/>
<path d="M252.0,555.9 L248.1,562.4 L252.2,564.6 L255.4,557.7ZM248.1,562.4 L244.2,568.8 L249.1,571.4 L252.2,564.6ZM378.3,567.4 L375.0,574.1 L379.1,575.8 L381.6,568.8ZM375.0,574.1 L371.7,580.8 L376.6,582.9 L379.1,575.8ZM424.2,534.5 L417.8,538.5 L420.5,542.4 L426.5,537.9ZM417.8,538.5 L411.5,542.4 L414.5,546.9 L420.5,542.4ZM511.7,531.2 L508.7,538.1 L513.0,539.6 L515.1,532.5ZM508.7,538.1 L505.7,544.9 L510.8,546.8 L513.0,539.6ZM295.6,545.2 L288.9,548.7 L291.6,553.2 L297.9,549.3ZM288.9,548.7 L282.3,552.2 L285.2,557.2 L291.6,553.2ZM173.1,516.4 L166.3,519.7 L168.8,524.5 L175.3,520.7ZM166.3,519.7 L159.5,522.9 L162.3,528.2 L168.8,524.5ZM190.1,538.0 L185.7,544.0 L189.7,546.7 L193.5,540.2ZM185.7,544.0 L181.3,550.1 L185.9,553.1 L189.7,546.7ZM313.2,565.5 L309.1,571.8 L313.2,574.2 L316.6,567.6ZM309.1,571.8 L304.9,578.1 L309.7,580.9 L313.2,574.2ZM493.6,515.4 L487.4,519.7 L490.2,523.5 L496.1,518.8ZM487.4,519.7 L481.2,523.9 L484.4,528.2 L490.2,523.5ZM441.8,551.1 L438.4,557.8 L442.6,559.6 L445.2,552.6ZM438.4,557.8 L435.1,564.5 L440.1,566.7 L442.6,559.6ZM360.5,550.4 L354.2,554.4 L357.0,558.5 L363.0,554.0ZM354.2,554.4 L347.8,558.3 L350.9,562.9 L357.0,558.5ZM234.0,536.4 L227.4,540.1 L230.2,544.6 L236.5,540.5ZM227.4,540.1 L220.9,543.8 L223.9,548.8 L230.2,544.6Z" fill="#656eb7" stroke="#656eb7" stroke-width="0.7" stroke-linejoin="round"/>
<path d="M126.9,498.8 L120.1,501.9 L122.5,506.6 L129.0,502.9ZM120.1,501.9 L113.3,505.1 L115.9,510.2 L122.5,506.6Z" fill="#b7b7db" stroke="#b7b7db" stroke-width="0.7" stroke-linejoin="round"/>
<path d="M139.7,516.6 L134.8,522.2 L138.4,525.0 L142.7,518.9ZM134.8,522.2 L129.8,527.8 L134.0,531.2 L138.4,525.0Z" fill="#a5aedb" stroke="#a5aedb" stroke-width="0.7" stroke-linejoin="round"/>
<path d="M248.6,553.7 L244.1,559.7 L248.1,562.4 L252.0,555.9ZM244.1,559.7 L239.6,565.7 L244.2,568.8 L248.1,562.4ZM375.0,565.5 L370.9,571.8 L375.0,574.1 L378.3,567.4ZM370.9,571.8 L366.9,578.1 L371.7,580.8 L375.0,574.1ZM426.5,537.9 L420.5,542.4 L423.6,546.2 L429.2,541.2ZM420.5,542.4 L414.5,546.9 L417.9,551.1 L423.6,546.2ZM508.3,529.5 L504.6,536.0 L508.7,538.1 L511.7,531.2ZM504.6,536.0 L500.9,542.5 L505.7,544.9 L508.7,538.1ZM297.9,549.3 L291.6,553.2 L294.5,557.6 L300.6,553.2ZM291.6,553.2 L285.2,557.2 L288.5,562.1 L294.5,557.6ZM175.3,520.7 L168.8,524.5 L171.6,529.0 L177.9,524.9ZM168.8,524.5 L162.3,528.2 L165.4,533.2 L171.6,529.0ZM186.8,535.3 L181.9,540.9 L185.7,544.0 L190.1,538.0ZM181.9,540.9 L176.9,546.5 L181.3,550.1 L185.7,544.0ZM309.8,563.1 L305.1,568.9 L309.1,571.8 L313.2,565.5ZM305.1,568.9 L300.4,574.7 L304.9,578.1 L309.1,571.8ZM496.1,518.8 L490.2,523.5 L493.4,527.1 L498.8,521.9ZM490.2,523.5 L484.4,528.2 L488.0,532.3 L493.4,527.1ZM438.4,549.2 L434.4,555.5 L438.4,557.8 L441.8,551.1ZM434.4,555.5 L430.3,561.9 L435.1,564.5 L438.4,557.8ZM363.0,554.0 L357.0,558.5 L360.1,562.3 L365.7,557.4ZM357.0,558.5 L350.9,562.9 L354.4,567.3 L360.1,562.3ZM236.5,540.5 L230.2,544.6 L233.3,548.9 L239.2,544.3ZM230.2,544.6 L223.9,548.8 L227.4,553.5 L233.3,548.9Z" fill="#656eb7" stroke="#656eb7" stroke-width="0.7" stroke-linejoin="round"/>
<path d="M129.0,502.9 L122.5,506.6 L125.2,511.0 L131.4,506.9ZM122.5,506.6 L115.9,510.2 L118.9,515.1 L125.2,511.0Z" fill="#aeb7db" stroke="#aeb7db" stroke-width="0.7" stroke-linejoin="round"/>
<path d="M136.8,513.7 L131.3,518.9 L134.8,522.2 L139.7,516.6ZM131.3,518.9 L125.9,524.0 L129.8,527.8 L134.8,522.2Z" fill="#aeaedb" stroke="#aeaedb" stroke-width="0.7" stroke-linejoin="round"/>
<path d="M245.3,550.9 L240.3,556.5 L244.1,559.7 L248.6,553.7ZM240.3,556.5 L235.2,562.0 L239.6,565.7 L244.1,559.7ZM371.7,563.2 L367.1,569.1 L370.9,571.8 L375.0,565.5ZM367.1,569.1 L362.4,574.9 L366.9,578.1 L370.9,571.8ZM429.2,541.2 L423.6,546.2 L426.9,549.6 L432.1,544.2ZM423.6,546.2 L417.9,551.1 L421.7,555.1 L426.9,549.6ZM505.0,527.3 L500.6,533.4 L504.6,536.0 L508.3,529.5ZM500.6,533.4 L496.3,539.5 L500.9,542.5 L504.6,536.0ZM300.6,553.2 L294.5,557.6 L297.8,561.7 L303.5,556.8ZM294.5,557.6 L288.5,562.1 L292.1,566.6 L297.8,561.7ZM177.9,524.9 L171.6,529.0 L174.8,533.3 L180.7,528.7ZM171.6,529.0 L165.4,533.2 L168.9,538.0 L174.8,533.3ZM183.7,532.2 L178.2,537.3 L181.9,540.9 L186.8,535.3ZM178.2,537.3 L172.7,542.4 L176.9,546.5 L181.9,540.9ZM306.6,560.1 L301.3,565.5 L305.1,568.9 L309.8,563.1ZM301.3,565.5 L296.1,570.9 L300.4,574.7 L305.1,568.9ZM498.8,521.9 L493.4,527.1 L496.9,530.5 L501.8,524.8ZM493.4,527.1 L488.0,532.3 L492.0,536.1 L496.9,530.5ZM435.2,546.9 L430.5,552.8 L434.4,555.5 L438.4,549.2ZM430.5,552.8 L425.9,558.7 L430.3,561.9 L434.4,555.5ZM365.7,557.4 L360.1,562.3 L363.4,565.9 L368.6,560.5ZM360.1,562.3 L354.4,567.3 L358.3,571.3 L363.4,565.9ZM239.2,544.3 L233.3,548.9 L236.6,552.9 L242.2,547.8ZM233.3,548.9 L227.4,553.5 L231.1,558.0 L236.6,552.9Z" fill="#656eb7" stroke="#656eb7" stroke-width="0.7" stroke-linejoin="round"/>
<path d="M131.4,506.9 L125.2,511.0 L128.1,515.1 L134.0,510.5ZM125.2,511.0 L118.9,515.1 L122.2,519.8 L128.1,515.1ZM134.0,510.5 L128.1,515.1 L131.3,518.9 L136.8,513.7ZM128.1,515.1 L122.2,519.8 L125.9,524.0 L131.3,518.9Z" fill="#aeb7db" stroke="#aeb7db" stroke-width="0.7" stroke-linejoin="round"/>
<path d="M242.2,547.8 L236.6,552.9 L240.3,556.5 L245.3,550.9ZM236.6,552.9 L231.1,558.0 L235.2,562.0 L240.3,556.5ZM368.6,560.5 L363.4,565.9 L367.1,569.1 L371.7,563.2ZM363.4,565.9 L358.3,571.3 L362.4,574.9 L367.1,569.1ZM432.1,544.2 L426.9,549.6 L430.5,552.8 L435.2,546.9ZM426.9,549.6 L421.7,555.1 L425.9,558.7 L430.5,552.8ZM501.8,524.8 L496.9,530.5 L500.6,533.4 L505.0,527.3ZM496.9,530.5 L492.0,536.1 L496.3,539.5 L500.6,533.4ZM303.5,556.8 L297.8,561.7 L301.3,565.5 L306.6,560.1ZM297.8,561.7 L292.1,566.6 L296.1,570.9 L301.3,565.5ZM180.7,528.7 L174.8,533.3 L178.2,537.3 L183.7,532.2ZM174.8,533.3 L168.9,538.0 L172.7,542.4 L178.2,537.3Z" fill="#656eb7" stroke="#656eb7" stroke-width="0.7" stroke-linejoin="round"/>
<path d="M514.0,553.0 C516.7,552.5 524.7,552.8 530.0,550.0 C535.3,547.2 540.7,542.7 546.0,536.0 C551.3,529.3 556.3,515.8 562.0,510.0 C567.7,504.2 573.2,500.2 580.0,501.0 C586.8,501.8 596.7,509.8 603.0,515.0 C609.3,520.2 615.2,527.2 618.0,532.0 C620.8,536.8 619.7,542.0 620.0,544.0" fill="none" stroke="#5d69b3" stroke-width="6.5" stroke-linecap="round"/>
<path d="M610.0,530.0 L628.0,528.0 L622.0,550.0Z" fill="#5560ad"/>
<path d="M724.0,438.8 L725.1,439.5 L726.1,440.4 L727.1,441.4 L728.0,442.4 L728.9,443.6 L729.7,444.9 L730.4,446.2 L731.0,447.7 L731.6,449.2 L732.0,450.8 L732.4,452.4 L732.7,454.2 L732.9,455.9 L733.0,457.7 L733.1,459.6 L733.0,461.4 L732.9,463.3 L732.6,465.2 L732.3,467.1 L731.9,469.0 L731.4,470.9 L730.8,472.8 L730.2,474.6 L729.5,476.4 L728.6,478.2 L727.8,479.9 L726.8,481.5 L725.8,483.1 L724.8,484.6 L723.7,486.0 L722.5,487.4 L721.3,488.6 L720.0,489.8 L718.8,490.8 L717.4,491.8 L716.1,492.6 L714.8,493.4 L713.4,494.0 L712.0,494.5 L710.7,494.9" fill="none" stroke="#aab1dd" stroke-width="7" stroke-linecap="round"/>
<path d="M603.1,468.4 L604.9,468.0 L606.7,467.9 L608.4,467.9 L610.0,468.2 L611.6,468.8 L613.1,469.5 L614.5,470.5 L615.8,471.7 L617.0,473.1 L618.1,474.7 L619.1,476.5 L620.0,478.5 L620.7,480.7 L621.3,483.0 L621.8,485.5 L622.1,488.2 L622.3,490.9 L622.4,493.8 L622.3,496.7 L622.1,499.8 L621.7,502.9 L621.2,506.0 L620.6,509.2 L619.9,512.4 L619.0,515.6 L618.0,518.8 L616.9,521.9 L615.6,525.0 L614.3,528.1 L612.9,531.0 L611.4,533.8 L609.8,536.6 L608.1,539.1 L606.4,541.6 L604.6,543.9 L602.8,546.0 L600.9,548.0 L599.0,549.7 L597.1,551.3 L595.2,552.6" fill="none" stroke="#7f89c7" stroke-width="8"/>
<path d="M649.8,439.3 L651.7,438.9 L653.5,438.8 L655.3,438.9 L657.0,439.2 L658.7,439.8 L660.2,440.5 L661.7,441.6 L663.1,442.8 L664.3,444.2 L665.5,445.8 L666.5,447.7 L667.5,449.7 L668.3,451.9 L668.9,454.2 L669.4,456.8 L669.8,459.4 L670.1,462.2 L670.2,465.0 L670.1,468.0 L669.9,471.1 L669.6,474.2 L669.1,477.3 L668.5,480.5 L667.8,483.7 L666.9,486.9 L665.9,490.1 L664.8,493.3 L663.6,496.4 L662.2,499.4 L660.8,502.3 L659.3,505.1 L657.7,507.8 L656.0,510.4 L654.2,512.9 L652.4,515.2 L650.5,517.3 L648.6,519.2 L646.7,520.9 L644.7,522.5 L642.7,523.8" fill="none" stroke="#7f89c7" stroke-width="8"/>
<path d="M693.6,428.7 L695.3,428.7 L696.9,428.8 L698.5,429.1 L700.1,429.6 L701.5,430.3 L702.9,431.1 L704.2,432.0 L705.4,433.2 L706.5,434.4 L707.5,435.8 L708.4,437.3 L709.2,439.0 L709.9,440.8 L710.5,442.7 L710.9,444.6 L711.2,446.7 L711.4,448.8 L711.4,451.0 L711.3,453.3 L711.1,455.6 L710.8,457.9 L710.3,460.2 L709.7,462.6 L709.0,464.9 L708.2,467.2 L707.3,469.5 L706.3,471.7 L705.1,473.9 L703.9,476.0 L702.6,478.1 L701.2,480.0 L699.7,481.9 L698.1,483.6 L696.5,485.2 L694.9,486.7 L693.2,488.0 L691.5,489.3 L689.7,490.3 L688.0,491.2 L686.2,492.0" fill="none" stroke="#7f89c7" stroke-width="8"/>
<path d="M597.8,550.7 L595.5,552.4 L593.2,553.9 L590.9,554.9 L588.6,555.7 L586.4,556.1 L584.2,556.1 L582.2,555.8 L580.3,555.2 L578.4,554.2 L576.8,552.9 L575.2,551.3 L573.9,549.3 L572.7,547.1 L571.7,544.6 L570.9,541.8 L570.3,538.8 L569.9,535.6 L569.6,532.2 L569.7,528.6 L569.9,524.9 L570.3,521.1 L570.9,517.3 L571.7,513.4 L572.7,509.4 L573.9,505.5 L575.3,501.7 L576.8,497.9 L578.5,494.3 L580.3,490.8 L582.2,487.4 L584.3,484.3 L586.4,481.3 L588.6,478.6 L590.9,476.2 L593.2,474.1 L595.6,472.2 L597.9,470.7 L600.2,469.5 L602.5,468.6 L604.8,468.0" fill="none" stroke="#5966b1" stroke-width="10.5"/>
<path d="M581.3,552.9 L580.4,552.5 L579.5,552.0 L578.7,551.3 L577.9,550.6 L577.1,549.7 L576.4,548.8 L575.7,547.8 L575.1,546.7 L574.5,545.5 L574.0,544.2 L573.6,542.8 L573.2,541.4 L572.8,539.8 L572.6,538.3 L572.3,536.6 L572.2,534.9 L572.1,533.1 L572.0,531.3 L572.0,529.4 L572.1,527.5 L572.2,525.6 L572.4,523.6 L572.7,521.6 L573.0,519.5 L573.4,517.5 L573.8,515.4 L574.3,513.3 L574.8,511.2 L575.4,509.1 L576.0,507.1 L576.7,505.0 L577.5,503.0 L578.2,500.9 L579.1,498.9 L579.9,497.0 L580.9,495.1 L581.8,493.2 L582.8,491.3 L583.8,489.6 L584.8,487.8" fill="none" stroke="#6873bb" stroke-width="3"/>
<path d="M645.4,521.9 L643.0,523.6 L640.6,525.0 L638.2,526.1 L635.9,526.8 L633.6,527.2 L631.4,527.2 L629.2,526.8 L627.2,526.2 L625.3,525.2 L623.6,523.8 L622.0,522.2 L620.5,520.2 L619.3,517.9 L618.2,515.4 L617.3,512.6 L616.6,509.6 L616.2,506.3 L615.9,502.9 L615.8,499.3 L616.0,495.6 L616.4,491.8 L617.0,488.0 L617.8,484.0 L618.8,480.1 L620.0,476.2 L621.3,472.4 L622.9,468.6 L624.6,465.0 L626.4,461.5 L628.4,458.1 L630.5,455.0 L632.6,452.1 L634.9,449.4 L637.2,447.0 L639.6,444.8 L642.0,443.0 L644.4,441.5 L646.8,440.3 L649.2,439.5 L651.5,439.0" fill="none" stroke="#5966b1" stroke-width="10.5"/>
<path d="M628.3,523.9 L627.3,523.5 L626.4,522.9 L625.5,522.3 L624.7,521.5 L623.8,520.6 L623.1,519.7 L622.4,518.7 L621.7,517.5 L621.1,516.3 L620.6,515.0 L620.1,513.6 L619.6,512.2 L619.3,510.6 L618.9,509.0 L618.7,507.4 L618.5,505.7 L618.3,503.9 L618.3,502.0 L618.3,500.2 L618.3,498.2 L618.4,496.3 L618.6,494.3 L618.8,492.3 L619.1,490.2 L619.5,488.2 L619.9,486.1 L620.3,484.0 L620.9,481.9 L621.5,479.8 L622.1,477.8 L622.8,475.7 L623.5,473.6 L624.3,471.6 L625.1,469.6 L626.0,467.7 L626.9,465.7 L627.9,463.9 L628.9,462.0 L629.9,460.3 L631.0,458.5" fill="none" stroke="#6873bb" stroke-width="3"/>
<path d="M688.6,490.9 L686.5,491.9 L684.3,492.6 L682.2,493.1 L680.1,493.3 L678.0,493.3 L676.0,493.0 L674.1,492.5 L672.4,491.7 L670.7,490.6 L669.1,489.4 L667.7,487.9 L666.5,486.2 L665.4,484.3 L664.5,482.3 L663.7,480.0 L663.2,477.6 L662.8,475.1 L662.6,472.5 L662.6,469.7 L662.8,467.0 L663.2,464.1 L663.8,461.3 L664.6,458.4 L665.5,455.5 L666.6,452.7 L667.9,450.0 L669.3,447.4 L670.8,444.8 L672.5,442.4 L674.3,440.1 L676.2,438.0 L678.2,436.1 L680.3,434.4 L682.4,432.9 L684.5,431.6 L686.7,430.5 L688.8,429.7 L691.0,429.1 L693.1,428.8 L695.2,428.7" fill="none" stroke="#5966b1" stroke-width="10.5"/>
<path d="M673.6,489.5 L672.8,489.0 L672.0,488.5 L671.2,487.9 L670.4,487.2 L669.7,486.5 L669.1,485.6 L668.5,484.8 L667.9,483.8 L667.4,482.9 L666.9,481.8 L666.5,480.7 L666.1,479.6 L665.8,478.4 L665.6,477.2 L665.3,475.9 L665.2,474.6 L665.1,473.2 L665.0,471.8 L665.1,470.4 L665.1,469.0 L665.2,467.6 L665.4,466.1 L665.6,464.6 L665.9,463.1 L666.3,461.7 L666.6,460.2 L667.1,458.7 L667.6,457.2 L668.1,455.7 L668.7,454.3 L669.3,452.8 L670.0,451.4 L670.7,450.0 L671.4,448.6 L672.2,447.3 L673.1,446.0 L673.9,444.7 L674.8,443.5 L675.8,442.3 L676.7,441.1" fill="none" stroke="#6873bb" stroke-width="3"/>
<path d="M246.0,666.0 C248.7,666.0 259.3,666.0 262.0,666.0" fill="none" stroke="#c9cdea" stroke-width="5" stroke-linecap="round"/>
<path d="M258.0,697.0 C256.3,695.8 250.0,696.2 248.0,690.0 C246.0,683.8 247.2,669.0 246.0,660.0 C244.8,651.0 243.3,642.0 241.0,636.0 C238.7,630.0 234.7,625.7 232.0,624.0 C229.3,622.3 226.0,623.3 225.0,626.0 C224.0,628.7 224.2,634.3 226.0,640.0 C227.8,645.7 232.7,655.7 236.0,660.0 C239.3,664.3 244.3,665.0 246.0,666.0" fill="none" stroke="#a3aad9" stroke-width="5" stroke-linecap="round"/>
<path d="M511.0,552.0 C508.5,554.3 500.5,560.7 496.0,566.0 C491.5,571.3 489.7,579.7 484.0,584.0 C478.3,588.3 468.7,588.8 462.0,592.0 C455.3,595.2 448.0,599.3 444.0,603.0 C440.0,606.7 439.0,612.2 438.0,614.0" fill="none" stroke="#7f89c6" stroke-width="6" stroke-linecap="round"/>
<path d="M441.0,613.0 C439.5,615.8 432.8,623.0 432.0,630.0 C431.2,637.0 432.0,648.3 436.0,655.0 C440.0,661.7 448.3,666.5 456.0,670.0 C463.7,673.5 473.3,676.0 482.0,676.0 C490.7,676.0 502.3,672.7 508.0,670.0 C513.7,667.3 514.7,661.7 516.0,660.0" fill="none" stroke="#6c77bc" stroke-width="12"/>
<path d="M432.0,610.0 L448.0,614.0 L446.0,624.0 L430.0,620.0Z" fill="#5a64ad"/>
<path d="M494.0,631.0 C492.3,632.0 485.0,634.3 484.0,637.0 C483.0,639.7 484.3,644.0 488.0,647.0 C491.7,650.0 501.7,653.3 506.0,655.0 C510.3,656.7 512.7,656.7 514.0,657.0" fill="none" stroke="#6873b9" stroke-width="5" stroke-linecap="round"/>
<path d="M213.0,398.0 L236.0,393.0 L251.0,402.0 L248.0,408.0 L228.0,410.0 L214.0,406.0Z" fill="#e6c07e" stroke="#d9a860" stroke-width="1"/>
<path d="M596.0,348.0 L612.0,340.0 L630.0,343.0 L626.0,355.0 L605.0,358.0Z" fill="#e6c07e" stroke="#d9a860" stroke-width="1"/>
<line x1="196.0" y1="398.0" x2="205.0" y2="400.5" stroke="#2f42a8" stroke-width="7.2" stroke-linecap="round"/>
<line x1="205.0" y1="400.5" x2="213.0" y2="404.0" stroke="#d98a1c" stroke-width="7.2" stroke-linecap="round"/>
<line x1="213.0" y1="404.0" x2="236.0" y2="399.0" stroke="#d98a1c" stroke-width="7.2" stroke-linecap="round"/>
<line x1="236.0" y1="399.0" x2="248.0" y2="405.5" stroke="#d98a1c" stroke-width="7.2" stroke-linecap="round"/>
<line x1="237.3" y1="385.5" x2="237.3" y2="392.0" stroke="#b81e1e" stroke-width="7.2" stroke-linecap="round"/>
<line x1="237.3" y1="392.0" x2="237.3" y2="399.0" stroke="#d98a1c" stroke-width="7.2" stroke-linecap="round"/>
<line x1="236.0" y1="399.0" x2="240.5" y2="410.0" stroke="#d98a1c" stroke-width="7.2" stroke-linecap="round"/>
<line x1="240.5" y1="410.0" x2="242.0" y2="414.5" stroke="#2f42a8" stroke-width="7.2" stroke-linecap="round"/>
<line x1="242.0" y1="414.5" x2="249.0" y2="419.0" stroke="#2f42a8" stroke-width="7.2" stroke-linecap="round"/>
<line x1="234.3" y1="417.6" x2="236.5" y2="422.0" stroke="#b81e1e" stroke-width="7.2" stroke-linecap="round"/>
<line x1="236.5" y1="422.0" x2="238.9" y2="426.8" stroke="#d98a1c" stroke-width="7.2" stroke-linecap="round"/>
<line x1="238.9" y1="426.8" x2="242.0" y2="437.4" stroke="#d98a1c" stroke-width="7.2" stroke-linecap="round"/>
<line x1="242.0" y1="440.5" x2="238.9" y2="451.2" stroke="#2f42a8" stroke-width="7.2" stroke-linecap="round"/>
<line x1="242.0" y1="437.0" x2="261.8" y2="437.4" stroke="#d98a1c" stroke-width="7.2" stroke-linecap="round"/>
<line x1="261.8" y1="437.4" x2="263.3" y2="419.0" stroke="#d98a1c" stroke-width="7.2" stroke-linecap="round"/>
<line x1="263.3" y1="419.0" x2="249.6" y2="418.0" stroke="#d98a1c" stroke-width="7.2" stroke-linecap="round"/>
<line x1="249.6" y1="418.4" x2="281.6" y2="414.5" stroke="#d98a1c" stroke-width="7.2" stroke-linecap="round"/>
<line x1="281.6" y1="414.5" x2="281.6" y2="424.0" stroke="#d98a1c" stroke-width="7.2" stroke-linecap="round"/>
<line x1="281.6" y1="424.0" x2="281.6" y2="431.0" stroke="#b81e1e" stroke-width="7.2" stroke-linecap="round"/>
<line x1="281.6" y1="414.5" x2="289.0" y2="411.0" stroke="#d98a1c" stroke-width="7.2" stroke-linecap="round"/>
<line x1="289.0" y1="411.0" x2="307.6" y2="409.2" stroke="#2f42a8" stroke-width="7.2" stroke-linecap="round"/>
<line x1="307.6" y1="409.2" x2="322.9" y2="410.0" stroke="#d98a1c" stroke-width="7.2" stroke-linecap="round"/>
<line x1="321.3" y1="410.0" x2="322.9" y2="391.6" stroke="#d98a1c" stroke-width="7.2" stroke-linecap="round"/>
<line x1="322.9" y1="391.6" x2="310.6" y2="392.4" stroke="#6f6c28" stroke-width="7.2" stroke-linecap="round"/>
<line x1="322.9" y1="410.0" x2="333.6" y2="414.5" stroke="#d98a1c" stroke-width="7.2" stroke-linecap="round"/>
<line x1="333.6" y1="416.0" x2="342.0" y2="421.0" stroke="#d98a1c" stroke-width="7.2" stroke-linecap="round"/>
<line x1="342.0" y1="421.0" x2="359.5" y2="426.8" stroke="#2f42a8" stroke-width="7.2" stroke-linecap="round"/>
<line x1="359.5" y1="426.8" x2="373.3" y2="426.8" stroke="#d98a1c" stroke-width="7.2" stroke-linecap="round"/>
<line x1="373.3" y1="426.8" x2="387.0" y2="430.0" stroke="#d98a1c" stroke-width="7.2" stroke-linecap="round"/>
<line x1="387.0" y1="430.0" x2="380.9" y2="460.4" stroke="#d98a1c" stroke-width="7.2" stroke-linecap="round"/>
<line x1="388.5" y1="423.7" x2="388.0" y2="432.0" stroke="#b81e1e" stroke-width="7.2" stroke-linecap="round"/>
<line x1="373.3" y1="426.8" x2="377.8" y2="410.0" stroke="#d98a1c" stroke-width="7.2" stroke-linecap="round"/>
<line x1="377.8" y1="410.0" x2="381.0" y2="405.0" stroke="#2f42a8" stroke-width="7.2" stroke-linecap="round"/>
<line x1="381.0" y1="405.0" x2="390.0" y2="394.7" stroke="#d98a1c" stroke-width="7.2" stroke-linecap="round"/>
<line x1="390.0" y1="393.0" x2="365.6" y2="387.0" stroke="#d98a1c" stroke-width="7.2" stroke-linecap="round"/>
<line x1="365.6" y1="387.0" x2="358.0" y2="370.3" stroke="#d98a1c" stroke-width="7.2" stroke-linecap="round"/>
<line x1="358.0" y1="370.3" x2="350.4" y2="359.6" stroke="#b81e1e" stroke-width="7.2" stroke-linecap="round"/>
<line x1="365.6" y1="379.4" x2="377.8" y2="381.0" stroke="#b81e1e" stroke-width="7.2" stroke-linecap="round"/>
<line x1="390.0" y1="393.0" x2="416.0" y2="394.7" stroke="#d98a1c" stroke-width="7.2" stroke-linecap="round"/>
<line x1="416.0" y1="394.7" x2="420.0" y2="404.0" stroke="#d98a1c" stroke-width="7.2" stroke-linecap="round"/>
<line x1="420.0" y1="404.0" x2="423.7" y2="414.5" stroke="#b81e1e" stroke-width="7.2" stroke-linecap="round"/>
<line x1="416.0" y1="394.7" x2="421.0" y2="387.0" stroke="#d98a1c" stroke-width="7.2" stroke-linecap="round"/>
<line x1="421.0" y1="387.0" x2="425.2" y2="381.0" stroke="#2f42a8" stroke-width="7.2" stroke-linecap="round"/>
<line x1="425.2" y1="381.0" x2="435.3" y2="380.0" stroke="#2f42a8" stroke-width="7.2" stroke-linecap="round"/>
<line x1="435.3" y1="380.0" x2="447.2" y2="380.0" stroke="#d98a1c" stroke-width="7.2" stroke-linecap="round"/>
<line x1="447.2" y1="380.0" x2="454.0" y2="363.0" stroke="#d98a1c" stroke-width="7.2" stroke-linecap="round"/>
<line x1="454.0" y1="363.0" x2="442.0" y2="354.5" stroke="#d98a1c" stroke-width="7.2" stroke-linecap="round"/>
<line x1="454.0" y1="363.0" x2="479.4" y2="361.3" stroke="#d98a1c" stroke-width="7.2" stroke-linecap="round"/>
<line x1="459.0" y1="391.8" x2="459.0" y2="384.0" stroke="#d98a1c" stroke-width="7.2" stroke-linecap="round"/>
<line x1="459.0" y1="384.0" x2="459.0" y2="376.5" stroke="#b81e1e" stroke-width="7.2" stroke-linecap="round"/>
<line x1="447.2" y1="380.0" x2="462.4" y2="391.8" stroke="#d98a1c" stroke-width="7.2" stroke-linecap="round"/>
<line x1="462.4" y1="391.8" x2="466.0" y2="400.0" stroke="#d98a1c" stroke-width="7.2" stroke-linecap="round"/>
<line x1="466.0" y1="400.0" x2="469.2" y2="408.8" stroke="#2f42a8" stroke-width="7.2" stroke-linecap="round"/>
<line x1="469.2" y1="408.8" x2="467.5" y2="417.0" stroke="#2f42a8" stroke-width="7.2" stroke-linecap="round"/>
<line x1="467.5" y1="417.0" x2="467.5" y2="425.8" stroke="#d98a1c" stroke-width="7.2" stroke-linecap="round"/>
<line x1="467.5" y1="425.8" x2="471.0" y2="442.7" stroke="#d98a1c" stroke-width="7.2" stroke-linecap="round"/>
<line x1="471.0" y1="442.7" x2="491.3" y2="437.6" stroke="#d98a1c" stroke-width="7.2" stroke-linecap="round"/>
<line x1="491.3" y1="437.6" x2="487.9" y2="415.6" stroke="#d98a1c" stroke-width="7.2" stroke-linecap="round"/>
<line x1="487.9" y1="415.6" x2="476.0" y2="408.8" stroke="#d98a1c" stroke-width="7.2" stroke-linecap="round"/>
<line x1="476.0" y1="408.8" x2="469.2" y2="408.8" stroke="#2f42a8" stroke-width="7.2" stroke-linecap="round"/>
<line x1="487.9" y1="415.6" x2="501.5" y2="398.6" stroke="#d98a1c" stroke-width="7.2" stroke-linecap="round"/>
<line x1="501.5" y1="398.6" x2="508.0" y2="397.0" stroke="#d98a1c" stroke-width="7.2" stroke-linecap="round"/>
<line x1="508.0" y1="397.0" x2="515.0" y2="395.2" stroke="#b81e1e" stroke-width="7.2" stroke-linecap="round"/>
<line x1="498.0" y1="391.8" x2="501.5" y2="398.6" stroke="#2f42a8" stroke-width="7.2" stroke-linecap="round"/>
<line x1="479.4" y1="388.4" x2="510.0" y2="381.6" stroke="#d98a1c" stroke-width="7.2" stroke-linecap="round"/>
<line x1="510.0" y1="381.6" x2="511.6" y2="363.0" stroke="#d98a1c" stroke-width="7.2" stroke-linecap="round"/>
<line x1="498.0" y1="391.8" x2="510.0" y2="381.6" stroke="#d98a1c" stroke-width="7.2" stroke-linecap="round"/>
<line x1="510.0" y1="381.6" x2="530.3" y2="371.5" stroke="#d98a1c" stroke-width="7.2" stroke-linecap="round"/>
<line x1="530.3" y1="371.5" x2="537.0" y2="375.0" stroke="#d98a1c" stroke-width="7.2" stroke-linecap="round"/>
<line x1="537.0" y1="375.0" x2="545.6" y2="380.0" stroke="#b81e1e" stroke-width="7.2" stroke-linecap="round"/>
<line x1="530.3" y1="371.5" x2="532.0" y2="357.9" stroke="#d98a1c" stroke-width="7.2" stroke-linecap="round"/>
<line x1="532.0" y1="357.9" x2="538.8" y2="346.0" stroke="#2f42a8" stroke-width="7.2" stroke-linecap="round"/>
<line x1="538.8" y1="346.0" x2="545.0" y2="342.0" stroke="#2f42a8" stroke-width="7.2" stroke-linecap="round"/>
<line x1="545.0" y1="342.0" x2="552.4" y2="339.2" stroke="#d98a1c" stroke-width="7.2" stroke-linecap="round"/>
<line x1="552.4" y1="339.2" x2="560.8" y2="322.2" stroke="#d98a1c" stroke-width="7.2" stroke-linecap="round"/>
<line x1="552.4" y1="339.2" x2="576.1" y2="351.0" stroke="#d98a1c" stroke-width="7.2" stroke-linecap="round"/>
<line x1="576.1" y1="351.0" x2="579.0" y2="358.0" stroke="#d98a1c" stroke-width="7.2" stroke-linecap="round"/>
<line x1="579.0" y1="358.0" x2="583.0" y2="366.4" stroke="#b81e1e" stroke-width="7.2" stroke-linecap="round"/>
<line x1="576.1" y1="351.0" x2="581.0" y2="349.0" stroke="#d98a1c" stroke-width="7.2" stroke-linecap="round"/>
<line x1="581.0" y1="349.0" x2="588.0" y2="347.7" stroke="#2f42a8" stroke-width="7.2" stroke-linecap="round"/>
<line x1="588.0" y1="347.7" x2="594.0" y2="351.0" stroke="#2f42a8" stroke-width="7.2" stroke-linecap="round"/>
<line x1="594.0" y1="351.0" x2="599.9" y2="354.5" stroke="#d98a1c" stroke-width="7.2" stroke-linecap="round"/>
<line x1="599.9" y1="354.5" x2="606.7" y2="346.0" stroke="#d98a1c" stroke-width="7.2" stroke-linecap="round"/>
<line x1="606.7" y1="346.0" x2="623.6" y2="349.4" stroke="#d98a1c" stroke-width="7.2" stroke-linecap="round"/>
<line x1="623.6" y1="349.4" x2="637.2" y2="351.0" stroke="#d98a1c" stroke-width="7.2" stroke-linecap="round"/>
<line x1="624.0" y1="349.0" x2="626.0" y2="340.0" stroke="#d98a1c" stroke-width="7.2" stroke-linecap="round"/>
<line x1="626.0" y1="340.0" x2="627.0" y2="330.7" stroke="#b81e1e" stroke-width="7.2" stroke-linecap="round"/>
<line x1="623.6" y1="349.4" x2="627.0" y2="357.0" stroke="#d98a1c" stroke-width="7.2" stroke-linecap="round"/>
<line x1="627.0" y1="357.0" x2="630.4" y2="364.7" stroke="#2f42a8" stroke-width="7.2" stroke-linecap="round"/>
<line x1="630.4" y1="364.7" x2="640.6" y2="366.4" stroke="#2f42a8" stroke-width="7.2" stroke-linecap="round"/>
<line x1="640.6" y1="366.4" x2="657.6" y2="363.0" stroke="#d98a1c" stroke-width="7.2" stroke-linecap="round"/>
<line x1="657.6" y1="363.0" x2="671.2" y2="357.9" stroke="#d98a1c" stroke-width="7.2" stroke-linecap="round"/>
<line x1="671.2" y1="357.9" x2="674.5" y2="364.7" stroke="#d98a1c" stroke-width="7.2" stroke-linecap="round"/>
<line x1="657.6" y1="363.0" x2="657.6" y2="385.0" stroke="#d98a1c" stroke-width="7.2" stroke-linecap="round"/>
<line x1="657.6" y1="385.0" x2="674.5" y2="385.0" stroke="#d98a1c" stroke-width="7.2" stroke-linecap="round"/>
<line x1="674.5" y1="385.0" x2="684.7" y2="402.0" stroke="#d98a1c" stroke-width="7.2" stroke-linecap="round"/>
<line x1="684.7" y1="402.0" x2="691.0" y2="399.0" stroke="#d98a1c" stroke-width="7.2" stroke-linecap="round"/>
<line x1="691.0" y1="399.0" x2="698.3" y2="391.8" stroke="#2f42a8" stroke-width="7.2" stroke-linecap="round"/>
<line x1="698.3" y1="391.8" x2="694.0" y2="380.0" stroke="#2f42a8" stroke-width="7.2" stroke-linecap="round"/>
<line x1="694.0" y1="380.0" x2="691.5" y2="371.5" stroke="#d98a1c" stroke-width="7.2" stroke-linecap="round"/>
<line x1="691.5" y1="371.5" x2="680.0" y2="366.0" stroke="#d98a1c" stroke-width="7.2" stroke-linecap="round"/>
<line x1="680.0" y1="366.0" x2="674.5" y2="364.7" stroke="#2f42a8" stroke-width="7.2" stroke-linecap="round"/>
<line x1="674.5" y1="364.7" x2="674.5" y2="385.0" stroke="#d98a1c" stroke-width="7.2" stroke-linecap="round"/>
<line x1="196.0" y1="398.0" x2="205.0" y2="400.5" stroke="#4458cc" stroke-width="3.6" stroke-linecap="round"/>
<line x1="205.0" y1="400.5" x2="213.0" y2="404.0" stroke="#f2ad3a" stroke-width="3.6" stroke-linecap="round"/>
<line x1="213.0" y1="404.0" x2="236.0" y2="399.0" stroke="#f2ad3a" stroke-width="3.6" stroke-linecap="round"/>
<line x1="236.0" y1="399.0" x2="248.0" y2="405.5" stroke="#f2ad3a" stroke-width="3.6" stroke-linecap="round"/>
<line x1="237.3" y1="385.5" x2="237.3" y2="392.0" stroke="#e5352d" stroke-width="3.6" stroke-linecap="round"/>
<line x1="237.3" y1="392.0" x2="237.3" y2="399.0" stroke="#f2ad3a" stroke-width="3.6" stroke-linecap="round"/>
<line x1="236.0" y1="399.0" x2="240.5" y2="410.0" stroke="#f2ad3a" stroke-width="3.6" stroke-linecap="round"/>
<line x1="240.5" y1="410.0" x2="242.0" y2="414.5" stroke="#4458cc" stroke-width="3.6" stroke-linecap="round"/>
<line x1="242.0" y1="414.5" x2="249.0" y2="419.0" stroke="#4458cc" stroke-width="3.6" stroke-linecap="round"/>
<line x1="234.3" y1="417.6" x2="236.5" y2="422.0" stroke="#e5352d" stroke-width="3.6" stroke-linecap="round"/>
<line x1="236.5" y1="422.0" x2="238.9" y2="426.8" stroke="#f2ad3a" stroke-width="3.6" stroke-linecap="round"/>
<line x1="238.9" y1="426.8" x2="242.0" y2="437.4" stroke="#f2ad3a" stroke-width="3.6" stroke-linecap="round"/>
<line x1="242.0" y1="440.5" x2="238.9" y2="451.2" stroke="#4458cc" stroke-width="3.6" stroke-linecap="round"/>
<line x1="242.0" y1="437.0" x2="261.8" y2="437.4" stroke="#f2ad3a" stroke-width="3.6" stroke-linecap="round"/>
<line x1="261.8" y1="437.4" x2="263.3" y2="419.0" stroke="#f2ad3a" stroke-width="3.6" stroke-linecap="round"/>
<line x1="263.3" y1="419.0" x2="249.6" y2="418.0" stroke="#f2ad3a" stroke-width="3.6" stroke-linecap="round"/>
<line x1="249.6" y1="418.4" x2="281.6" y2="414.5" stroke="#f2ad3a" stroke-width="3.6" stroke-linecap="round"/>
<line x1="281.6" y1="414.5" x2="281.6" y2="424.0" stroke="#f2ad3a" stroke-width="3.6" stroke-linecap="round"/>
<line x1="281.6" y1="424.0" x2="281.6" y2="431.0" stroke="#e5352d" stroke-width="3.6" stroke-linecap="round"/>
<line x1="281.6" y1="414.5" x2="289.0" y2="411.0" stroke="#f2ad3a" stroke-width="3.6" stroke-linecap="round"/>
<line x1="289.0" y1="411.0" x2="307.6" y2="409.2" stroke="#4458cc" stroke-width="3.6" stroke-linecap="round"/>
<line x1="307.6" y1="409.2" x2="322.9" y2="410.0" stroke="#f2ad3a" stroke-width="3.6" stroke-linecap="round"/>
<line x1="321.3" y1="410.0" x2="322.9" y2="391.6" stroke="#f2ad3a" stroke-width="3.6" stroke-linecap="round"/>
<line x1="322.9" y1="391.6" x2="310.6" y2="392.4" stroke="#8e8b3c" stroke-width="3.6" stroke-linecap="round"/>
<line x1="322.9" y1="410.0" x2="333.6" y2="414.5" stroke="#f2ad3a" stroke-width="3.6" stroke-linecap="round"/>
<line x1="333.6" y1="416.0" x2="342.0" y2="421.0" stroke="#f2ad3a" stroke-width="3.6" stroke-linecap="round"/>
<line x1="342.0" y1="421.0" x2="359.5" y2="426.8" stroke="#4458cc" stroke-width="3.6" stroke-linecap="round"/>
<line x1="359.5" y1="426.8" x2="373.3" y2="426.8" stroke="#f2ad3a" stroke-width="3.6" stroke-linecap="round"/>
<line x1="373.3" y1="426.8" x2="387.0" y2="430.0" stroke="#f2ad3a" stroke-width="3.6" stroke-linecap="round"/>
<line x1="387.0" y1="430.0" x2="380.9" y2="460.4" stroke="#f2ad3a" stroke-width="3.6" stroke-linecap="round"/>
<line x1="388.5" y1="423.7" x2="388.0" y2="432.0" stroke="#e5352d" stroke-width="3.6" stroke-linecap="round"/>
<line x1="373.3" y1="426.8" x2="377.8" y2="410.0" stroke="#f2ad3a" stroke-width="3.6" stroke-linecap="round"/>
<line x1="377.8" y1="410.0" x2="381.0" y2="405.0" stroke="#4458cc" stroke-width="3.6" stroke-linecap="round"/>
<line x1="381.0" y1="405.0" x2="390.0" y2="394.7" stroke="#f2ad3a" stroke-width="3.6" stroke-linecap="round"/>
<line x1="390.0" y1="393.0" x2="365.6" y2="387.0" stroke="#f2ad3a" stroke-width="3.6" stroke-linecap="round"/>
<line x1="365.6" y1="387.0" x2="358.0" y2="370.3" stroke="#f2ad3a" stroke-width="3.6" stroke-linecap="round"/>
<line x1="358.0" y1="370.3" x2="350.4" y2="359.6" stroke="#e5352d" stroke-width="3.6" stroke-linecap="round"/>
<line x1="365.6" y1="379.4" x2="377.8" y2="381.0" stroke="#e5352d" stroke-width="3.6" stroke-linecap="round"/>
<line x1="390.0" y1="393.0" x2="416.0" y2="394.7" stroke="#f2ad3a" stroke-width="3.6" stroke-linecap="round"/>
<line x1="416.0" y1="394.7" x2="420.0" y2="404.0" stroke="#f2ad3a" stroke-width="3.6" stroke-linecap="round"/>
<line x1="420.0" y1="404.0" x2="423.7" y2="414.5" stroke="#e5352d" stroke-width="3.6" stroke-linecap="round"/>
<line x1="416.0" y1="394.7" x2="421.0" y2="387.0" stroke="#f2ad3a" stroke-width="3.6" stroke-linecap="round"/>
<line x1="421.0" y1="387.0" x2="425.2" y2="381.0" stroke="#4458cc" stroke-width="3.6" stroke-linecap="round"/>
<line x1="425.2" y1="381.0" x2="435.3" y2="380.0" stroke="#4458cc" stroke-width="3.6" stroke-linecap="round"/>
<line x1="435.3" y1="380.0" x2="447.2" y2="380.0" stroke="#f2ad3a" stroke-width="3.6" stroke-linecap="round"/>
<line x1="447.2" y1="380.0" x2="454.0" y2="363.0" stroke="#f2ad3a" stroke-width="3.6" stroke-linecap="round"/>
<line x1="454.0" y1="363.0" x2="442.0" y2="354.5" stroke="#f2ad3a" stroke-width="3.6" stroke-linecap="round"/>
<line x1="454.0" y1="363.0" x2="479.4" y2="361.3" stroke="#f2ad3a" stroke-width="3.6" stroke-linecap="round"/>
<line x1="459.0" y1="391.8" x2="459.0" y2="384.0" stroke="#f2ad3a" stroke-width="3.6" stroke-linecap="round"/>
<line x1="459.0" y1="384.0" x2="459.0" y2="376.5" stroke="#e5352d" stroke-width="3.6" stroke-linecap="round"/>
<line x1="447.2" y1="380.0" x2="462.4" y2="391.8" stroke="#f2ad3a" stroke-width="3.6" stroke-linecap="round"/>
<line x1="462.4" y1="391.8" x2="466.0" y2="400.0" stroke="#f2ad3a" stroke-width="3.6" stroke-linecap="round"/>
<line x1="466.0" y1="400.0" x2="469.2" y2="408.8" stroke="#4458cc" stroke-width="3.6" stroke-linecap="round"/>
<line x1="469.2" y1="408.8" x2="467.5" y2="417.0" stroke="#4458cc" stroke-width="3.6" stroke-linecap="round"/>
<line x1="467.5" y1="417.0" x2="467.5" y2="425.8" stroke="#f2ad3a" stroke-width="3.6" stroke-linecap="round"/>
<line x1="467.5" y1="425.8" x2="471.0" y2="442.7" stroke="#f2ad3a" stroke-width="3.6" stroke-linecap="round"/>
<line x1="471.0" y1="442.7" x2="491.3" y2="437.6" stroke="#f2ad3a" stroke-width="3.6" stroke-linecap="round"/>
<line x1="491.3" y1="437.6" x2="487.9" y2="415.6" stroke="#f2ad3a" stroke-width="3.6" stroke-linecap="round"/>
<line x1="487.9" y1="415.6" x2="476.0" y2="408.8" stroke="#f2ad3a" stroke-width="3.6" stroke-linecap="round"/>
<line x1="476.0" y1="408.8" x2="469.2" y2="408.8" stroke="#4458cc" stroke-width="3.6" stroke-linecap="round"/>
<line x1="487.9" y1="415.6" x2="501.5" y2="398.6" stroke="#f2ad3a" stroke-width="3.6" stroke-linecap="round"/>
<line x1="501.5" y1="398.6" x2="508.0" y2="397.0" stroke="#f2ad3a" stroke-width="3.6" stroke-linecap="round"/>
<line x1="508.0" y1="397.0" x2="515.0" y2="395.2" stroke="#e5352d" stroke-width="3.6" stroke-linecap="round"/>
<line x1="498.0" y1="391.8" x2="501.5" y2="398.6" stroke="#4458cc" stroke-width="3.6" stroke-linecap="round"/>
<line x1="479.4" y1="388.4" x2="510.0" y2="381.6" stroke="#f2ad3a" stroke-width="3.6" stroke-linecap="round"/>
<line x1="510.0" y1="381.6" x2="511.6" y2="363.0" stroke="#f2ad3a" stroke-width="3.6" stroke-linecap="round"/>
<line x1="498.0" y1="391.8" x2="510.0" y2="381.6" stroke="#f2ad3a" stroke-width="3.6" stroke-linecap="round"/>
<line x1="510.0" y1="381.6" x2="530.3" y2="371.5" stroke="#f2ad3a" stroke-width="3.6" stroke-linecap="round"/>
<line x1="530.3" y1="371.5" x2="537.0" y2="375.0" stroke="#f2ad3a" stroke-width="3.6" stroke-linecap="round"/>
<line x1="537.0" y1="375.0" x2="545.6" y2="380.0" stroke="#e5352d" stroke-width="3.6" stroke-linecap="round"/>
<line x1="530.3" y1="371.5" x2="532.0" y2="357.9" stroke="#f2ad3a" stroke-width="3.6" stroke-linecap="round"/>
<line x1="532.0" y1="357.9" x2="538.8" y2="346.0" stroke="#4458cc" stroke-width="3.6" stroke-linecap="round"/>
<line x1="538.8" y1="346.0" x2="545.0" y2="342.0" stroke="#4458cc" stroke-width="3.6" stroke-linecap="round"/>
<line x1="545.0" y1="342.0" x2="552.4" y2="339.2" stroke="#f2ad3a" stroke-width="3.6" stroke-linecap="round"/>
<line x1="552.4" y1="339.2" x2="560.8" y2="322.2" stroke="#f2ad3a" stroke-width="3.6" stroke-linecap="round"/>
<line x1="552.4" y1="339.2" x2="576.1" y2="351.0" stroke="#f2ad3a" stroke-width="3.6" stroke-linecap="round"/>
<line x1="576.1" y1="351.0" x2="579.0" y2="358.0" stroke="#f2ad3a" stroke-width="3.6" stroke-linecap="round"/>
<line x1="579.0" y1="358.0" x2="583.0" y2="366.4" stroke="#e5352d" stroke-width="3.6" stroke-linecap="round"/>
<line x1="576.1" y1="351.0" x2="581.0" y2="349.0" stroke="#f2ad3a" stroke-width="3.6" stroke-linecap="round"/>
<line x1="581.0" y1="349.0" x2="588.0" y2="347.7" stroke="#4458cc" stroke-width="3.6" stroke-linecap="round"/>
<line x1="588.0" y1="347.7" x2="594.0" y2="351.0" stroke="#4458cc" stroke-width="3.6" stroke-linecap="round"/>
<line x1="594.0" y1="351.0" x2="599.9" y2="354.5" stroke="#f2ad3a" stroke-width="3.6" stroke-linecap="round"/>
<line x1="599.9" y1="354.5" x2="606.7" y2="346.0" stroke="#f2ad3a" stroke-width="3.6" stroke-linecap="round"/>
<line x1="606.7" y1="346.0" x2="623.6" y2="349.4" stroke="#f2ad3a" stroke-width="3.6" stroke-linecap="round"/>
<line x1="623.6" y1="349.4" x2="637.2" y2="351.0" stroke="#f2ad3a" stroke-width="3.6" stroke-linecap="round"/>
<line x1="624.0" y1="349.0" x2="626.0" y2="340.0" stroke="#f2ad3a" stroke-width="3.6" stroke-linecap="round"/>
<line x1="626.0" y1="340.0" x2="627.0" y2="330.7" stroke="#e5352d" stroke-width="3.6" stroke-linecap="round"/>
<line x1="623.6" y1="349.4" x2="627.0" y2="357.0" stroke="#f2ad3a" stroke-width="3.6" stroke-linecap="round"/>
<line x1="627.0" y1="357.0" x2="630.4" y2="364.7" stroke="#4458cc" stroke-width="3.6" stroke-linecap="round"/>
<line x1="630.4" y1="364.7" x2="640.6" y2="366.4" stroke="#4458cc" stroke-width="3.6" stroke-linecap="round"/>
<line x1="640.6" y1="366.4" x2="657.6" y2="363.0" stroke="#f2ad3a" stroke-width="3.6" stroke-linecap="round"/>
<line x1="657.6" y1="363.0" x2="671.2" y2="357.9" stroke="#f2ad3a" stroke-width="3.6" stroke-linecap="round"/>
<line x1="671.2" y1="357.9" x2="674.5" y2="364.7" stroke="#f2ad3a" stroke-width="3.6" stroke-linecap="round"/>
<line x1="657.6" y1="363.0" x2="657.6" y2="385.0" stroke="#f2ad3a" stroke-width="3.6" stroke-linecap="round"/>
<line x1="657.6" y1="385.0" x2="674.5" y2="385.0" stroke="#f2ad3a" stroke-width="3.6" stroke-linecap="round"/>
<line x1="674.5" y1="385.0" x2="684.7" y2="402.0" stroke="#f2ad3a" stroke-width="3.6" stroke-linecap="round"/>
<line x1="684.7" y1="402.0" x2="691.0" y2="399.0" stroke="#f2ad3a" stroke-width="3.6" stroke-linecap="round"/>
<line x1="691.0" y1="399.0" x2="698.3" y2="391.8" stroke="#4458cc" stroke-width="3.6" stroke-linecap="round"/>
<line x1="698.3" y1="391.8" x2="694.0" y2="380.0" stroke="#4458cc" stroke-width="3.6" stroke-linecap="round"/>
<line x1="694.0" y1="380.0" x2="691.5" y2="371.5" stroke="#f2ad3a" stroke-width="3.6" stroke-linecap="round"/>
<line x1="691.5" y1="371.5" x2="680.0" y2="366.0" stroke="#f2ad3a" stroke-width="3.6" stroke-linecap="round"/>
<line x1="680.0" y1="366.0" x2="674.5" y2="364.7" stroke="#4458cc" stroke-width="3.6" stroke-linecap="round"/>
<line x1="674.5" y1="364.7" x2="674.5" y2="385.0" stroke="#f2ad3a" stroke-width="3.6" stroke-linecap="round"/>
<circle cx="333.6" cy="414.5" r="4.2" fill="#e5352d"/>
<text transform="translate(200.59,378.6) scale(0.9769,1)" font-size="21.5" font-weight="normal" fill="#0a0a0a">V615</text>
<text transform="translate(214.22,477.2) scale(1.0021,1)" font-size="21.5" font-weight="normal" fill="#0a0a0a">N616</text>
<text transform="translate(279.83,386.3) scale(0.9912,1)" font-size="21.5" font-weight="normal" fill="#0a0a0a">C617</text>
<text transform="translate(325.51,485.6) scale(1.0091,1)" font-size="21.5" font-weight="normal" fill="#0a0a0a">T618</text>
<text transform="translate(353.18,352.7) scale(1.0282,1)" font-size="21.5" font-weight="normal" fill="#0a0a0a">E619</text>
<text transform="translate(440.29,346.8) scale(0.9799,1)" font-size="21.5" font-weight="normal" fill="#0a0a0a">V620</text>
<text transform="translate(497.22,451.2) scale(0.9492,1)" font-size="21.5" font-weight="normal" fill="#0a0a0a">P621</text>
<text transform="translate(506.39,421.5) scale(0.9874,1)" font-size="21.5" font-weight="normal" fill="#0a0a0a">V622</text>
<text transform="translate(563.35,319.7) scale(0.9830,1)" font-size="21.5" font-weight="normal" fill="#0a0a0a">A623</text>
<text transform="translate(583.42,391.8) scale(0.9965,1)" font-size="21.5" font-weight="normal" fill="#0a0a0a">I624</text>
<text transform="translate(637.98,424) scale(1.0256,1)" font-size="21.5" font-weight="normal" fill="#0a0a0a">H625</text>
<line x1="1020.5" y1="576.0825" x2="1640.25" y2="576.0825" stroke="#f3f3f3" stroke-width="1" />
<line x1="1020.5" y1="450.4175" x2="1640.25" y2="450.4175" stroke="#f3f3f3" stroke-width="1" />
<line x1="1020.5" y1="324.7525" x2="1640.25" y2="324.7525" stroke="#f3f3f3" stroke-width="1" />
<line x1="1020.5" y1="199.08749999999998" x2="1640.25" y2="199.08749999999998" stroke="#f3f3f3" stroke-width="1" />
<line x1="1020.5" y1="73.42249999999996" x2="1640.25" y2="73.42249999999996" stroke="#f3f3f3" stroke-width="1" />
<line x1="1020.5" y1="513.25" x2="1640.25" y2="513.25" stroke="#ebebeb" stroke-width="1" />
<line x1="1020.5" y1="387.585" x2="1640.25" y2="387.585" stroke="#ebebeb" stroke-width="1" />
<line x1="1020.5" y1="261.91999999999996" x2="1640.25" y2="261.91999999999996" stroke="#ebebeb" stroke-width="1" />
<line x1="1020.5" y1="136.255" x2="1640.25" y2="136.255" stroke="#ebebeb" stroke-width="1" />
<line x1="1189.25" y1="23.5" x2="1189.25" y2="639" stroke="#ebebeb" stroke-width="1" />
<line x1="1471.5" y1="23.5" x2="1471.5" y2="639" stroke="#ebebeb" stroke-width="1" />
<line x1="1189.4" y1="362" x2="1189.4" y2="486.25" stroke="#009e73" stroke-width="1.2" />
<line x1="1189.4" y1="580.25" x2="1189.4" y2="608" stroke="#009e73" stroke-width="1.2" />
<rect x="1083.8000000000002" y="486.25" width="211.2" height="94.0" fill="#fff" stroke="#009e73" stroke-width="1.2" />
<line x1="1083.8000000000002" y1="524.5" x2="1295.0" y2="524.5" stroke="#009e73" stroke-width="2.4" />
<line x1="1471.25" y1="51.25" x2="1471.25" y2="316.25" stroke="#d55e00" stroke-width="1.2" />
<line x1="1471.25" y1="505.25" x2="1471.25" y2="604.5" stroke="#d55e00" stroke-width="1.2" />
<rect x="1365.5" y="316.25" width="211.5" height="189.0" fill="#fff" stroke="#d55e00" stroke-width="1.2" />
<line x1="1365.5" y1="434.75" x2="1577.0" y2="434.75" stroke="#d55e00" stroke-width="2.4" />
<circle cx="1183.25" cy="359.25" r="3.9" fill="#009e73"/>
<circle cx="1193" cy="362.5" r="3.9" fill="#009e73"/>
<circle cx="1193.25" cy="479" r="3.9" fill="#009e73"/>
<circle cx="1200.5" cy="507.25" r="3.9" fill="#009e73"/>
<circle cx="1209.5" cy="516.75" r="3.9" fill="#009e73"/>
<circle cx="1167" cy="532.5" r="3.9" fill="#009e73"/>
<circle cx="1209" cy="535.75" r="3.9" fill="#009e73"/>
<circle cx="1170.75" cy="595.25" r="3.9" fill="#009e73"/>
<circle cx="1183" cy="611" r="3.9" fill="#009e73"/>
<circle cx="1195.5" cy="608" r="3.9" fill="#009e73"/>
<circle cx="1454.5" cy="51.25" r="3.9" fill="#d55e00"/>
<circle cx="1484.75" cy="252.5" r="3.9" fill="#d55e00"/>
<circle cx="1462.75" cy="287" r="3.9" fill="#d55e00"/>
<circle cx="1484" cy="403.75" r="3.9" fill="#d55e00"/>
<circle cx="1456.75" cy="416.25" r="3.9" fill="#d55e00"/>
<circle cx="1485.5" cy="454" r="3.9" fill="#d55e00"/>
<circle cx="1482.5" cy="482.25" r="3.9" fill="#d55e00"/>
<circle cx="1478.75" cy="513.75" r="3.9" fill="#d55e00"/>
<circle cx="1477.25" cy="548" r="3.9" fill="#d55e00"/>
<circle cx="1495.25" cy="604.75" r="3.9" fill="#d55e00"/>
<rect x="1020.5" y="23.5" width="619.75" height="615.5" fill="none" stroke="#231f20" stroke-width="1.1" />
<line x1="1010.5" y1="513.25" x2="1020.5" y2="513.25" stroke="#333" stroke-width="1" />
<text transform="translate(969.47,521.5) scale(1.1407,1)" font-size="22.5" font-weight="normal" fill="#231f20">50</text>
<line x1="1010.5" y1="387.585" x2="1020.5" y2="387.585" stroke="#333" stroke-width="1" />
<text transform="translate(955.59,395.83) scale(1.1290,1)" font-size="22.5" font-weight="normal" fill="#231f20">100</text>
<line x1="1010.5" y1="261.91999999999996" x2="1020.5" y2="261.91999999999996" stroke="#333" stroke-width="1" />
<text transform="translate(958.22,270.17) scale(1.0575,1)" font-size="22.5" font-weight="normal" fill="#231f20">150</text>
<line x1="1010.5" y1="136.255" x2="1020.5" y2="136.255" stroke="#333" stroke-width="1" />
<text transform="translate(952.64,144.5) scale(1.2096,1)" font-size="22.5" font-weight="normal" fill="#231f20">200</text>
<line x1="1189.25" y1="639" x2="1189.25" y2="649" stroke="#333" stroke-width="1" />
<line x1="1471.5" y1="639" x2="1471.5" y2="649" stroke="#333" stroke-width="1" />
<text transform="translate(1172.95,678) scale(1.1063,1)" font-size="22.5" font-weight="normal" fill="#231f20">No</text>
<text transform="translate(1453.24,678) scale(1.0018,1)" font-size="22.5" font-weight="normal" fill="#231f20">Yes</text>
<line x1="1187" y1="71" x2="1471" y2="71" stroke="#231f20" stroke-width="3" />
<line x1="1187" y1="59.25" x2="1187" y2="83.25" stroke="#231f20" stroke-width="4" />
<line x1="1471" y1="59.25" x2="1471" y2="83.25" stroke="#231f20" stroke-width="4" />
<text transform="translate(1328.20,57) scale(1.0563,1)" font-size="30" font-weight="normal" fill="#231f20">*</text>
<text transform="translate(1186.21,723.6) scale(0.9917,1)" font-size="28" font-weight="normal" fill="#231f20">HLA-DQB1*06 carriage</text>
<text transform="translate(929.4,536.3) rotate(-90) translate(-2.30,0) scale(0.9936,1)" font-size="28" font-weight="normal" fill="#231f20"><tspan font-size="28" dy="0">D84 spike</tspan><tspan font-size="17" dy="-11">+</tspan><tspan font-size="28" dy="11"> BMEM/million PBMCs</tspan></text>
<text transform="translate(904.04,29.6) scale(1.1108,1)" font-size="41" font-weight="bold" fill="#231f20" stroke="#231f20" stroke-width="1.1">b</text>
<rect x="102.5" y="829.25" width="271.75" height="575.0" fill="#fff" stroke="none" stroke-width="1" />
<line x1="102.5" y1="1305.415" x2="374.25" y2="1305.415" stroke="#f3f3f3" stroke-width="1" />
<line x1="102.5" y1="1159.745" x2="374.25" y2="1159.745" stroke="#f3f3f3" stroke-width="1" />
<line x1="102.5" y1="1014.075" x2="374.25" y2="1014.075" stroke="#f3f3f3" stroke-width="1" />
<line x1="102.5" y1="868.405" x2="374.25" y2="868.405" stroke="#f3f3f3" stroke-width="1" />
<line x1="102.5" y1="1378.25" x2="374.25" y2="1378.25" stroke="#ebebeb" stroke-width="1" />
<line x1="102.5" y1="1232.58" x2="374.25" y2="1232.58" stroke="#ebebeb" stroke-width="1" />
<line x1="102.5" y1="1086.9099999999999" x2="374.25" y2="1086.9099999999999" stroke="#ebebeb" stroke-width="1" />
<line x1="102.5" y1="941.24" x2="374.25" y2="941.24" stroke="#ebebeb" stroke-width="1" />
<line x1="176.5" y1="829.25" x2="176.5" y2="1404.25" stroke="#ebebeb" stroke-width="1" />
<line x1="300.25" y1="829.25" x2="300.25" y2="1404.25" stroke="#ebebeb" stroke-width="1" />
<rect x="381.5" y="829.25" width="272.25" height="575.0" fill="#fff" stroke="none" stroke-width="1" />
<line x1="381.5" y1="1305.415" x2="653.75" y2="1305.415" stroke="#f3f3f3" stroke-width="1" />
<line x1="381.5" y1="1159.745" x2="653.75" y2="1159.745" stroke="#f3f3f3" stroke-width="1" />
<line x1="381.5" y1="1014.075" x2="653.75" y2="1014.075" stroke="#f3f3f3" stroke-width="1" />
<line x1="381.5" y1="868.405" x2="653.75" y2="868.405" stroke="#f3f3f3" stroke-width="1" />
<line x1="381.5" y1="1378.25" x2="653.75" y2="1378.25" stroke="#ebebeb" stroke-width="1" />
<line x1="381.5" y1="1232.58" x2="653.75" y2="1232.58" stroke="#ebebeb" stroke-width="1" />
<line x1="381.5" y1="1086.9099999999999" x2="653.75" y2="1086.9099999999999" stroke="#ebebeb" stroke-width="1" />
<line x1="381.5" y1="941.24" x2="653.75" y2="941.24" stroke="#ebebeb" stroke-width="1" />
<line x1="455.5" y1="829.25" x2="455.5" y2="1404.25" stroke="#ebebeb" stroke-width="1" />
<line x1="579.25" y1="829.25" x2="579.25" y2="1404.25" stroke="#ebebeb" stroke-width="1" />
<line x1="153.4" y1="1374.3" x2="153.4" y2="1374.3" stroke="#009e73" stroke-width="1.2" />
<line x1="153.4" y1="1377.5" x2="153.4" y2="1377.5" stroke="#009e73" stroke-width="1.2" />
<rect x="132.5" y="1374.3" width="41.8" height="3.2000000000000455" fill="#fff" stroke="#009e73" stroke-width="1.2" />
<line x1="132.5" y1="1375.9" x2="174.3" y2="1375.9" stroke="#009e73" stroke-width="2.4" />
<line x1="199.9" y1="1343" x2="199.9" y2="1358.25" stroke="#d55e00" stroke-width="1.2" />
<line x1="199.9" y1="1377.5" x2="199.9" y2="1378" stroke="#d55e00" stroke-width="1.2" />
<rect x="179.0" y="1358.25" width="41.8" height="19.25" fill="#fff" stroke="#d55e00" stroke-width="1.2" />
<line x1="179.0" y1="1377.2" x2="220.8" y2="1377.2" stroke="#d55e00" stroke-width="2.4" />
<line x1="277.1" y1="1329.5" x2="277.1" y2="1354.25" stroke="#009e73" stroke-width="1.2" />
<line x1="277.1" y1="1375.75" x2="277.1" y2="1378" stroke="#009e73" stroke-width="1.2" />
<rect x="256.20000000000005" y="1354.25" width="41.8" height="21.5" fill="#fff" stroke="#009e73" stroke-width="1.2" />
<line x1="256.20000000000005" y1="1368.25" x2="298.0" y2="1368.25" stroke="#009e73" stroke-width="2.4" />
<line x1="323.4" y1="1166.75" x2="323.4" y2="1225.5" stroke="#d55e00" stroke-width="1.2" />
<line x1="323.4" y1="1351" x2="323.4" y2="1377.5" stroke="#d55e00" stroke-width="1.2" />
<rect x="302.5" y="1225.5" width="41.8" height="125.5" fill="#fff" stroke="#d55e00" stroke-width="1.2" />
<line x1="302.5" y1="1322.75" x2="344.29999999999995" y2="1322.75" stroke="#d55e00" stroke-width="2.4" />
<line x1="432.4" y1="1099" x2="432.4" y2="1236.25" stroke="#009e73" stroke-width="1.2" />
<line x1="432.4" y1="1357" x2="432.4" y2="1378.25" stroke="#009e73" stroke-width="1.2" />
<rect x="411.5" y="1236.25" width="41.8" height="120.75" fill="#fff" stroke="#009e73" stroke-width="1.2" />
<line x1="411.5" y1="1295.5" x2="453.29999999999995" y2="1295.5" stroke="#009e73" stroke-width="2.4" />
<line x1="478.9" y1="1165.25" x2="478.9" y2="1273.25" stroke="#d55e00" stroke-width="1.2" />
<line x1="478.9" y1="1377" x2="478.9" y2="1377" stroke="#d55e00" stroke-width="1.2" />
<rect x="458.0" y="1273.25" width="41.8" height="103.75" fill="#fff" stroke="#d55e00" stroke-width="1.2" />
<line x1="458.0" y1="1358.25" x2="499.79999999999995" y2="1358.25" stroke="#d55e00" stroke-width="2.4" />
<line x1="556.25" y1="1005.5" x2="556.25" y2="1193.5" stroke="#009e73" stroke-width="1.2" />
<line x1="556.25" y1="1353.75" x2="556.25" y2="1375.5" stroke="#009e73" stroke-width="1.2" />
<rect x="535.35" y="1193.5" width="41.8" height="160.25" fill="#fff" stroke="#009e73" stroke-width="1.2" />
<line x1="535.35" y1="1292.25" x2="577.15" y2="1292.25" stroke="#009e73" stroke-width="2.4" />
<line x1="602.5" y1="855.75" x2="602.5" y2="1100.25" stroke="#d55e00" stroke-width="1.2" />
<line x1="602.5" y1="1362.5" x2="602.5" y2="1378.5" stroke="#d55e00" stroke-width="1.2" />
<rect x="581.6" y="1100.25" width="41.8" height="262.25" fill="#fff" stroke="#d55e00" stroke-width="1.2" />
<line x1="581.6" y1="1208.5" x2="623.4" y2="1208.5" stroke="#d55e00" stroke-width="2.4" />
<circle cx="144.75" cy="1248.25" r="3.9" fill="#009e73"/>
<circle cx="158.25" cy="1339.75" r="3.9" fill="#009e73"/>
<circle cx="145" cy="1378" r="3.9" fill="#009e73"/>
<circle cx="150" cy="1378" r="3.9" fill="#009e73"/>
<circle cx="153" cy="1376.5" r="3.9" fill="#009e73"/>
<circle cx="158" cy="1377" r="3.9" fill="#009e73"/>
<circle cx="162" cy="1378" r="3.9" fill="#009e73"/>
<circle cx="147.5" cy="1378.5" r="3.9" fill="#009e73"/>
<circle cx="203.75" cy="1302.75" r="3.9" fill="#d55e00"/>
<circle cx="188.25" cy="1342.5" r="3.9" fill="#d55e00"/>
<circle cx="201" cy="1353.5" r="3.9" fill="#d55e00"/>
<circle cx="187.5" cy="1371.25" r="3.9" fill="#d55e00"/>
<circle cx="189.25" cy="1378.25" r="3.9" fill="#d55e00"/>
<circle cx="197.5" cy="1378.25" r="3.9" fill="#d55e00"/>
<circle cx="205" cy="1378.25" r="3.9" fill="#d55e00"/>
<circle cx="209.5" cy="1377.5" r="3.9" fill="#d55e00"/>
<circle cx="212" cy="1378.25" r="3.9" fill="#d55e00"/>
<circle cx="289.25" cy="1308.25" r="3.9" fill="#009e73"/>
<circle cx="288.5" cy="1329.5" r="3.9" fill="#009e73"/>
<circle cx="281.75" cy="1353" r="3.9" fill="#009e73"/>
<circle cx="288.25" cy="1358.25" r="3.9" fill="#009e73"/>
<circle cx="267.75" cy="1366.75" r="3.9" fill="#009e73"/>
<circle cx="282.5" cy="1370" r="3.9" fill="#009e73"/>
<circle cx="273" cy="1375.5" r="3.9" fill="#009e73"/>
<circle cx="275" cy="1378.25" r="3.9" fill="#009e73"/>
<circle cx="285" cy="1375" r="3.9" fill="#009e73"/>
<circle cx="320.5" cy="1166.75" r="3.9" fill="#d55e00"/>
<circle cx="326.5" cy="1165" r="3.9" fill="#d55e00"/>
<circle cx="319.5" cy="1210.75" r="3.9" fill="#d55e00"/>
<circle cx="330" cy="1269.5" r="3.9" fill="#d55e00"/>
<circle cx="316.5" cy="1298" r="3.9" fill="#d55e00"/>
<circle cx="322.5" cy="1348.25" r="3.9" fill="#d55e00"/>
<circle cx="330" cy="1348.25" r="3.9" fill="#d55e00"/>
<circle cx="332.5" cy="1352" r="3.9" fill="#d55e00"/>
<circle cx="322.5" cy="1373" r="3.9" fill="#d55e00"/>
<circle cx="335.5" cy="1378.75" r="3.9" fill="#d55e00"/>
<circle cx="423.5" cy="954" r="3.9" fill="#009e73"/>
<circle cx="426.5" cy="1099" r="3.9" fill="#009e73"/>
<circle cx="423.75" cy="1229.25" r="3.9" fill="#009e73"/>
<circle cx="436.25" cy="1256.5" r="3.9" fill="#009e73"/>
<circle cx="427" cy="1283" r="3.9" fill="#009e73"/>
<circle cx="437.25" cy="1308.25" r="3.9" fill="#009e73"/>
<circle cx="430" cy="1325.25" r="3.9" fill="#009e73"/>
<circle cx="430.75" cy="1368" r="3.9" fill="#009e73"/>
<circle cx="439.5" cy="1378.75" r="3.9" fill="#009e73"/>
<circle cx="441.25" cy="1378" r="3.9" fill="#009e73"/>
<circle cx="488.25" cy="1165" r="3.9" fill="#d55e00"/>
<circle cx="482.75" cy="1259" r="3.9" fill="#d55e00"/>
<circle cx="477" cy="1272.25" r="3.9" fill="#d55e00"/>
<circle cx="467.5" cy="1276.25" r="3.9" fill="#d55e00"/>
<circle cx="466.5" cy="1352.5" r="3.9" fill="#d55e00"/>
<circle cx="480.25" cy="1364.5" r="3.9" fill="#d55e00"/>
<circle cx="490.5" cy="1373" r="3.9" fill="#d55e00"/>
<circle cx="468" cy="1378.5" r="3.9" fill="#d55e00"/>
<circle cx="476" cy="1378.5" r="3.9" fill="#d55e00"/>
<circle cx="484.25" cy="1378.5" r="3.9" fill="#d55e00"/>
<circle cx="561.5" cy="881.25" r="3.9" fill="#009e73"/>
<circle cx="568.25" cy="1005.25" r="3.9" fill="#009e73"/>
<circle cx="564.75" cy="1171.25" r="3.9" fill="#009e73"/>
<circle cx="567.5" cy="1259.75" r="3.9" fill="#009e73"/>
<circle cx="546.75" cy="1281.75" r="3.9" fill="#009e73"/>
<circle cx="567.5" cy="1303" r="3.9" fill="#009e73"/>
<circle cx="560.75" cy="1347.5" r="3.9" fill="#009e73"/>
<circle cx="551.25" cy="1355.5" r="3.9" fill="#009e73"/>
<circle cx="553.75" cy="1365.25" r="3.9" fill="#009e73"/>
<circle cx="560.25" cy="1375.5" r="3.9" fill="#009e73"/>
<circle cx="598.5" cy="855" r="3.9" fill="#d55e00"/>
<circle cx="595.75" cy="971.5" r="3.9" fill="#d55e00"/>
<circle cx="609.25" cy="1090.25" r="3.9" fill="#d55e00"/>
<circle cx="599.75" cy="1131.75" r="3.9" fill="#d55e00"/>
<circle cx="609.25" cy="1194.25" r="3.9" fill="#d55e00"/>
<circle cx="602" cy="1222.75" r="3.9" fill="#d55e00"/>
<circle cx="614.75" cy="1343.75" r="3.9" fill="#d55e00"/>
<circle cx="601.25" cy="1368.75" r="3.9" fill="#d55e00"/>
<circle cx="612" cy="1371" r="3.9" fill="#d55e00"/>
<circle cx="605.5" cy="1378.75" r="3.9" fill="#d55e00"/>
<rect x="102.5" y="829.25" width="271.75" height="575.0" fill="none" stroke="#4d4d4d" stroke-width="1.1" />
<rect x="102.5" y="794.4" width="271.75" height="34.85000000000002" fill="#dcdddf" stroke="#6b6b6b" stroke-width="0.9" />
<text transform="translate(224.75,820.75) scale(0.7901,1)" font-size="28" font-weight="normal" fill="#231f20">S1</text>
<line x1="176.5" y1="1404.25" x2="176.5" y2="1413.75" stroke="#333" stroke-width="1" />
<line x1="300.25" y1="1404.25" x2="300.25" y2="1413.75" stroke="#333" stroke-width="1" />
<rect x="381.5" y="829.25" width="272.25" height="575.0" fill="none" stroke="#4d4d4d" stroke-width="1.1" />
<rect x="381.5" y="794.4" width="272.25" height="34.85000000000002" fill="#dcdddf" stroke="#6b6b6b" stroke-width="0.9" />
<text transform="translate(501.28,820.75) scale(0.9661,1)" font-size="28" font-weight="normal" fill="#231f20">S2</text>
<line x1="455.5" y1="1404.25" x2="455.5" y2="1413.75" stroke="#333" stroke-width="1" />
<line x1="579.25" y1="1404.25" x2="579.25" y2="1413.75" stroke="#333" stroke-width="1" />
<text transform="translate(160.45,1443.75) scale(1.1039,1)" font-size="22.5" font-weight="normal" fill="#231f20">D0</text>
<text transform="translate(277.50,1443.75) scale(1.0772,1)" font-size="22.5" font-weight="normal" fill="#231f20">D84</text>
<text transform="translate(439.20,1443.75) scale(1.1039,1)" font-size="22.5" font-weight="normal" fill="#231f20">D0</text>
<text transform="translate(556.75,1443.75) scale(1.0772,1)" font-size="22.5" font-weight="normal" fill="#231f20">D84</text>
<line x1="93" y1="1378.25" x2="102.5" y2="1378.25" stroke="#333" stroke-width="1" />
<text transform="translate(66.23,1386.5) scale(1.1914,1)" font-size="22.5" font-weight="normal" fill="#231f20">0</text>
<line x1="93" y1="1232.58" x2="102.5" y2="1232.58" stroke="#333" stroke-width="1" />
<text transform="translate(54.19,1240.83) scale(1.0738,1)" font-size="22.5" font-weight="normal" fill="#231f20">10</text>
<line x1="93" y1="1086.9099999999999" x2="102.5" y2="1086.9099999999999" stroke="#333" stroke-width="1" />
<text transform="translate(51.47,1095.16) scale(1.1866,1)" font-size="22.5" font-weight="normal" fill="#231f20">20</text>
<line x1="93" y1="941.24" x2="102.5" y2="941.24" stroke="#333" stroke-width="1" />
<text transform="translate(51.50,949.49) scale(1.1852,1)" font-size="22.5" font-weight="normal" fill="#231f20">30</text>
<line x1="279.75" y1="883" x2="326.75" y2="883" stroke="#231f20" stroke-width="3" />
<line x1="279.75" y1="871.25" x2="279.75" y2="895" stroke="#231f20" stroke-width="4" />
<line x1="326.75" y1="871.25" x2="326.75" y2="895" stroke="#231f20" stroke-width="4" />
<text transform="translate(298.92,877.5) scale(1.1033,1)" font-size="30" font-weight="normal" fill="#231f20">*</text>
<text transform="translate(314.85,1488.75) scale(1.0390,1)" font-size="28" font-weight="normal" fill="#231f20">Timepoint</text>
<text transform="translate(28.6,1305.5) rotate(-90) translate(-2.35,0) scale(1.0178,1)" font-size="28" font-weight="normal" fill="#231f20"><tspan font-size="28" dy="0">Freq. of CD4</tspan><tspan font-size="17" dy="-11">+</tspan><tspan font-size="28" dy="11"> proliferation (%)</tspan></text>
<text transform="translate(674.16,1081.1) scale(0.9694,1)" font-size="28" font-weight="normal" fill="#231f20">HLA-DQB1*06</text>
<text transform="translate(674.27,1112.2) scale(1.0337,1)" font-size="28" font-weight="normal" fill="#231f20">carriage</text>
<line x1="685.1" y1="1138.05" x2="685.1" y2="1157.85" stroke="#009e73" stroke-width="1.3" />
<rect x="676.5" y="1141.4499999999998" width="17.2" height="12.8" fill="#fff" stroke="#009e73" stroke-width="1.3" />
<line x1="676.5" y1="1147.85" x2="693.7" y2="1147.85" stroke="#009e73" stroke-width="1.3" />
<circle cx="685.1" cy="1147.85" r="4.3" fill="#009e73"/>
<text transform="translate(705.37,1156.9) scale(1.0454,1)" font-size="27" font-weight="normal" fill="#231f20">No</text>
<line x1="685.1" y1="1166.1000000000001" x2="685.1" y2="1185.9" stroke="#d55e00" stroke-width="1.3" />
<rect x="676.5" y="1169.5" width="17.2" height="12.8" fill="#fff" stroke="#d55e00" stroke-width="1.3" />
<line x1="676.5" y1="1175.9" x2="693.7" y2="1175.9" stroke="#d55e00" stroke-width="1.3" />
<circle cx="685.1" cy="1175.9" r="4.3" fill="#d55e00"/>
<text transform="translate(706.39,1184.8) scale(0.9971,1)" font-size="27" font-weight="normal" fill="#231f20">Yes</text>
<text transform="translate(-0.76,799.6) scale(1.0707,1)" font-size="41" font-weight="bold" fill="#231f20" stroke="#231f20" stroke-width="1.1">c</text>
<rect x="1020.5" y="829.25" width="272.0" height="575.0" fill="#fff" stroke="none" stroke-width="1" />
<line x1="1020.5" y1="1366.15" x2="1292.5" y2="1366.15" stroke="#f3f3f3" stroke-width="1" />
<line x1="1020.5" y1="1263.95" x2="1292.5" y2="1263.95" stroke="#f3f3f3" stroke-width="1" />
<line x1="1020.5" y1="1161.75" x2="1292.5" y2="1161.75" stroke="#f3f3f3" stroke-width="1" />
<line x1="1020.5" y1="1059.55" x2="1292.5" y2="1059.55" stroke="#f3f3f3" stroke-width="1" />
<line x1="1020.5" y1="957.35" x2="1292.5" y2="957.35" stroke="#f3f3f3" stroke-width="1" />
<line x1="1020.5" y1="855.15" x2="1292.5" y2="855.15" stroke="#f3f3f3" stroke-width="1" />
<line x1="1020.5" y1="1315.05" x2="1292.5" y2="1315.05" stroke="#ebebeb" stroke-width="1" />
<line x1="1020.5" y1="1212.85" x2="1292.5" y2="1212.85" stroke="#ebebeb" stroke-width="1" />
<line x1="1020.5" y1="1110.65" x2="1292.5" y2="1110.65" stroke="#ebebeb" stroke-width="1" />
<line x1="1020.5" y1="1008.45" x2="1292.5" y2="1008.45" stroke="#ebebeb" stroke-width="1" />
<line x1="1020.5" y1="906.25" x2="1292.5" y2="906.25" stroke="#ebebeb" stroke-width="1" />
<line x1="1094.25" y1="829.25" x2="1094.25" y2="1404.25" stroke="#ebebeb" stroke-width="1" />
<line x1="1218.25" y1="829.25" x2="1218.25" y2="1404.25" stroke="#ebebeb" stroke-width="1" />
<rect x="1299.5" y="829.25" width="272.5" height="575.0" fill="#fff" stroke="none" stroke-width="1" />
<line x1="1299.5" y1="1366.15" x2="1572" y2="1366.15" stroke="#f3f3f3" stroke-width="1" />
<line x1="1299.5" y1="1263.95" x2="1572" y2="1263.95" stroke="#f3f3f3" stroke-width="1" />
<line x1="1299.5" y1="1161.75" x2="1572" y2="1161.75" stroke="#f3f3f3" stroke-width="1" />
<line x1="1299.5" y1="1059.55" x2="1572" y2="1059.55" stroke="#f3f3f3" stroke-width="1" />
<line x1="1299.5" y1="957.35" x2="1572" y2="957.35" stroke="#f3f3f3" stroke-width="1" />
<line x1="1299.5" y1="855.15" x2="1572" y2="855.15" stroke="#f3f3f3" stroke-width="1" />
<line x1="1299.5" y1="1315.05" x2="1572" y2="1315.05" stroke="#ebebeb" stroke-width="1" />
<line x1="1299.5" y1="1212.85" x2="1572" y2="1212.85" stroke="#ebebeb" stroke-width="1" />
<line x1="1299.5" y1="1110.65" x2="1572" y2="1110.65" stroke="#ebebeb" stroke-width="1" />
<line x1="1299.5" y1="1008.45" x2="1572" y2="1008.45" stroke="#ebebeb" stroke-width="1" />
<line x1="1299.5" y1="906.25" x2="1572" y2="906.25" stroke="#ebebeb" stroke-width="1" />
<line x1="1373.5" y1="829.25" x2="1373.5" y2="1404.25" stroke="#ebebeb" stroke-width="1" />
<line x1="1497.25" y1="829.25" x2="1497.25" y2="1404.25" stroke="#ebebeb" stroke-width="1" />
<line x1="1071.3" y1="1325.5" x2="1071.3" y2="1325.5" stroke="#009e73" stroke-width="1.2" />
<line x1="1071.3" y1="1357.75" x2="1071.3" y2="1378.25" stroke="#009e73" stroke-width="1.2" />
<rect x="1050.3999999999999" y="1325.5" width="41.8" height="32.25" fill="#fff" stroke="#009e73" stroke-width="1.2" />
<line x1="1050.3999999999999" y1="1333.25" x2="1092.2" y2="1333.25" stroke="#009e73" stroke-width="2.4" />
<line x1="1117.9" y1="1233.5" x2="1117.9" y2="1297.25" stroke="#d55e00" stroke-width="1.2" />
<line x1="1117.9" y1="1348.75" x2="1117.9" y2="1360" stroke="#d55e00" stroke-width="1.2" />
<rect x="1097.0" y="1297.25" width="41.8" height="51.5" fill="#fff" stroke="#d55e00" stroke-width="1.2" />
<line x1="1097.0" y1="1326.5" x2="1138.8000000000002" y2="1326.5" stroke="#d55e00" stroke-width="2.4" />
<line x1="1195.35" y1="1264" x2="1195.35" y2="1266.5" stroke="#009e73" stroke-width="1.2" />
<line x1="1195.35" y1="1305.25" x2="1195.35" y2="1359.5" stroke="#009e73" stroke-width="1.2" />
<rect x="1174.4499999999998" y="1266.5" width="41.8" height="38.75" fill="#fff" stroke="#009e73" stroke-width="1.2" />
<line x1="1174.4499999999998" y1="1274.25" x2="1216.25" y2="1274.25" stroke="#009e73" stroke-width="2.4" />
<line x1="1241.4" y1="1090.25" x2="1241.4" y2="1174.5" stroke="#d55e00" stroke-width="1.2" />
<line x1="1241.4" y1="1331.25" x2="1241.4" y2="1357.5" stroke="#d55e00" stroke-width="1.2" />
<rect x="1220.5" y="1174.5" width="41.8" height="156.75" fill="#fff" stroke="#d55e00" stroke-width="1.2" />
<line x1="1220.5" y1="1264" x2="1262.3000000000002" y2="1264" stroke="#d55e00" stroke-width="2.4" />
<line x1="1350.5" y1="1120.75" x2="1350.5" y2="1200.5" stroke="#009e73" stroke-width="1.2" />
<line x1="1350.5" y1="1302.75" x2="1350.5" y2="1340" stroke="#009e73" stroke-width="1.2" />
<rect x="1329.6" y="1200.5" width="41.8" height="102.25" fill="#fff" stroke="#009e73" stroke-width="1.2" />
<line x1="1329.6" y1="1264" x2="1371.4" y2="1264" stroke="#009e73" stroke-width="2.4" />
<line x1="1397.25" y1="875.75" x2="1397.25" y2="1095" stroke="#d55e00" stroke-width="1.2" />
<line x1="1397.25" y1="1305.25" x2="1397.25" y2="1352.25" stroke="#d55e00" stroke-width="1.2" />
<rect x="1376.35" y="1095" width="41.8" height="210.25" fill="#fff" stroke="#d55e00" stroke-width="1.2" />
<line x1="1376.35" y1="1207.75" x2="1418.15" y2="1207.75" stroke="#d55e00" stroke-width="2.4" />
<line x1="1474.25" y1="947.25" x2="1474.25" y2="998.25" stroke="#009e73" stroke-width="1.2" />
<line x1="1474.25" y1="1264.25" x2="1474.25" y2="1305" stroke="#009e73" stroke-width="1.2" />
<rect x="1453.35" y="998.25" width="41.8" height="266.0" fill="#fff" stroke="#009e73" stroke-width="1.2" />
<line x1="1453.35" y1="1136.5" x2="1495.15" y2="1136.5" stroke="#009e73" stroke-width="2.4" />
<line x1="1520.9" y1="886.25" x2="1520.9" y2="975" stroke="#d55e00" stroke-width="1.2" />
<line x1="1520.9" y1="1243.5" x2="1520.9" y2="1368.25" stroke="#d55e00" stroke-width="1.2" />
<rect x="1500.0" y="975" width="41.8" height="268.5" fill="#fff" stroke="#d55e00" stroke-width="1.2" />
<line x1="1500.0" y1="1146.5" x2="1541.8000000000002" y2="1146.5" stroke="#d55e00" stroke-width="2.4" />
<circle cx="1072.5" cy="1018.75" r="3.9" fill="#009e73"/>
<circle cx="1064.25" cy="1325.5" r="3.9" fill="#009e73"/>
<circle cx="1074" cy="1325.5" r="3.9" fill="#009e73"/>
<circle cx="1074.75" cy="1329.5" r="3.9" fill="#009e73"/>
<circle cx="1060.25" cy="1338" r="3.9" fill="#009e73"/>
<circle cx="1060.25" cy="1357.25" r="3.9" fill="#009e73"/>
<circle cx="1071.25" cy="1358.25" r="3.9" fill="#009e73"/>
<circle cx="1082.75" cy="1372.5" r="3.9" fill="#009e73"/>
<circle cx="1065.25" cy="1378.75" r="3.9" fill="#009e73"/>
<circle cx="1121.25" cy="1233.5" r="3.9" fill="#d55e00"/>
<circle cx="1125.75" cy="1264.25" r="3.9" fill="#d55e00"/>
<circle cx="1108" cy="1294.5" r="3.9" fill="#d55e00"/>
<circle cx="1115.25" cy="1305.25" r="3.9" fill="#d55e00"/>
<circle cx="1126.75" cy="1315.25" r="3.9" fill="#d55e00"/>
<circle cx="1108.75" cy="1340" r="3.9" fill="#d55e00"/>
<circle cx="1126.5" cy="1338" r="3.9" fill="#d55e00"/>
<circle cx="1109.25" cy="1352.5" r="3.9" fill="#d55e00"/>
<circle cx="1124" cy="1358" r="3.9" fill="#d55e00"/>
<circle cx="1128.5" cy="1360.5" r="3.9" fill="#d55e00"/>
<circle cx="1188.75" cy="855" r="3.9" fill="#009e73"/>
<circle cx="1189.75" cy="1151.75" r="3.9" fill="#009e73"/>
<circle cx="1196" cy="1264" r="3.9" fill="#009e73"/>
<circle cx="1190" cy="1274.5" r="3.9" fill="#009e73"/>
<circle cx="1192" cy="1274.5" r="3.9" fill="#009e73"/>
<circle cx="1199.25" cy="1274.5" r="3.9" fill="#009e73"/>
<circle cx="1186.5" cy="1305.25" r="3.9" fill="#009e73"/>
<circle cx="1186.5" cy="1359.25" r="3.9" fill="#009e73"/>
<circle cx="1183.25" cy="1367.5" r="3.9" fill="#009e73"/>
<circle cx="1239.75" cy="906.25" r="3.9" fill="#d55e00"/>
<circle cx="1241" cy="1090.25" r="3.9" fill="#d55e00"/>
<circle cx="1247.75" cy="1151.75" r="3.9" fill="#d55e00"/>
<circle cx="1245" cy="1243.75" r="3.9" fill="#d55e00"/>
<circle cx="1242.75" cy="1254" r="3.9" fill="#d55e00"/>
<circle cx="1241.75" cy="1274.5" r="3.9" fill="#d55e00"/>
<circle cx="1243.5" cy="1315.25" r="3.9" fill="#d55e00"/>
<circle cx="1248.25" cy="1336.75" r="3.9" fill="#d55e00"/>
<circle cx="1249.5" cy="1357.5" r="3.9" fill="#d55e00"/>
<circle cx="1251.75" cy="1358.25" r="3.9" fill="#d55e00"/>
<circle cx="1343.5" cy="1121" r="3.9" fill="#009e73"/>
<circle cx="1351.5" cy="1182.5" r="3.9" fill="#009e73"/>
<circle cx="1353" cy="1192.75" r="3.9" fill="#009e73"/>
<circle cx="1339.5" cy="1223" r="3.9" fill="#009e73"/>
<circle cx="1350.25" cy="1233.5" r="3.9" fill="#009e73"/>
<circle cx="1339.5" cy="1294.75" r="3.9" fill="#009e73"/>
<circle cx="1353.75" cy="1294.75" r="3.9" fill="#009e73"/>
<circle cx="1344.5" cy="1305" r="3.9" fill="#009e73"/>
<circle cx="1362" cy="1305" r="3.9" fill="#009e73"/>
<circle cx="1352.75" cy="1340" r="3.9" fill="#009e73"/>
<circle cx="1387.25" cy="875.5" r="3.9" fill="#d55e00"/>
<circle cx="1407.75" cy="1080" r="3.9" fill="#d55e00"/>
<circle cx="1387.75" cy="1090.25" r="3.9" fill="#d55e00"/>
<circle cx="1405.75" cy="1110.75" r="3.9" fill="#d55e00"/>
<circle cx="1403" cy="1141.75" r="3.9" fill="#d55e00"/>
<circle cx="1400.5" cy="1274.5" r="3.9" fill="#d55e00"/>
<circle cx="1405" cy="1305" r="3.9" fill="#d55e00"/>
<circle cx="1388.5" cy="1342.75" r="3.9" fill="#d55e00"/>
<circle cx="1394.5" cy="1352.25" r="3.9" fill="#d55e00"/>
<circle cx="1469" cy="947.25" r="3.9" fill="#009e73"/>
<circle cx="1478.5" cy="947.25" r="3.9" fill="#009e73"/>
<circle cx="1465.75" cy="998.25" r="3.9" fill="#009e73"/>
<circle cx="1471.25" cy="998.25" r="3.9" fill="#009e73"/>
<circle cx="1467.75" cy="1110.75" r="3.9" fill="#009e73"/>
<circle cx="1475" cy="1162" r="3.9" fill="#009e73"/>
<circle cx="1468.5" cy="1202.75" r="3.9" fill="#009e73"/>
<circle cx="1462.5" cy="1284.5" r="3.9" fill="#009e73"/>
<circle cx="1465.5" cy="1305" r="3.9" fill="#009e73"/>
<circle cx="1527" cy="885.75" r="3.9" fill="#d55e00"/>
<circle cx="1521.75" cy="926.75" r="3.9" fill="#d55e00"/>
<circle cx="1522.5" cy="967.5" r="3.9" fill="#d55e00"/>
<circle cx="1530.75" cy="998.25" r="3.9" fill="#d55e00"/>
<circle cx="1520.25" cy="1131" r="3.9" fill="#d55e00"/>
<circle cx="1518.75" cy="1162" r="3.9" fill="#d55e00"/>
<circle cx="1527.75" cy="1213.25" r="3.9" fill="#d55e00"/>
<circle cx="1524" cy="1254.25" r="3.9" fill="#d55e00"/>
<circle cx="1520.75" cy="1264.25" r="3.9" fill="#d55e00"/>
<circle cx="1527.5" cy="1368.25" r="3.9" fill="#d55e00"/>
<rect x="1020.5" y="829.25" width="272.0" height="575.0" fill="none" stroke="#4d4d4d" stroke-width="1.1" />
<rect x="1020.5" y="794.4" width="272.0" height="34.85000000000002" fill="#dcdddf" stroke="#6b6b6b" stroke-width="0.9" />
<text transform="translate(1128.10,820.75) scale(0.9985,1)" font-size="28" font-weight="normal" fill="#231f20">CD4</text>
<line x1="1094.25" y1="1404.25" x2="1094.25" y2="1413.75" stroke="#333" stroke-width="1" />
<line x1="1218.25" y1="1404.25" x2="1218.25" y2="1413.75" stroke="#333" stroke-width="1" />
<rect x="1299.5" y="829.25" width="272.5" height="575.0" fill="none" stroke="#4d4d4d" stroke-width="1.1" />
<rect x="1299.5" y="794.4" width="272.5" height="34.85000000000002" fill="#dcdddf" stroke="#6b6b6b" stroke-width="0.9" />
<text transform="translate(1407.60,820.75) scale(1.0017,1)" font-size="28" font-weight="normal" fill="#231f20">CD8</text>
<line x1="1373.5" y1="1404.25" x2="1373.5" y2="1413.75" stroke="#333" stroke-width="1" />
<line x1="1497.25" y1="1404.25" x2="1497.25" y2="1413.75" stroke="#333" stroke-width="1" />
<text transform="translate(1078.49,1443.75) scale(1.0847,1)" font-size="22.5" font-weight="normal" fill="#231f20">D0</text>
<text transform="translate(1195.49,1443.75) scale(1.0837,1)" font-size="22.5" font-weight="normal" fill="#231f20">D84</text>
<text transform="translate(1357.18,1443.75) scale(1.1135,1)" font-size="22.5" font-weight="normal" fill="#231f20">D0</text>
<text transform="translate(1475.02,1443.75) scale(1.0643,1)" font-size="22.5" font-weight="normal" fill="#231f20">D84</text>
<line x1="1010.75" y1="1315.05" x2="1020.5" y2="1315.05" stroke="#333" stroke-width="1" />
<text transform="translate(972.50,1323.3) scale(1.0359,1)" font-size="22.5" font-weight="normal" fill="#231f20">10</text>
<line x1="1010.75" y1="1212.85" x2="1020.5" y2="1212.85" stroke="#333" stroke-width="1" />
<text transform="translate(969.97,1221.1) scale(1.1410,1)" font-size="22.5" font-weight="normal" fill="#231f20">20</text>
<line x1="1010.75" y1="1110.65" x2="1020.5" y2="1110.65" stroke="#333" stroke-width="1" />
<text transform="translate(969.52,1118.9) scale(1.1594,1)" font-size="22.5" font-weight="normal" fill="#231f20">30</text>
<line x1="1010.75" y1="1008.45" x2="1020.5" y2="1008.45" stroke="#333" stroke-width="1" />
<text transform="translate(969.41,1016.7) scale(1.1640,1)" font-size="22.5" font-weight="normal" fill="#231f20">40</text>
<line x1="1010.75" y1="906.25" x2="1020.5" y2="906.25" stroke="#333" stroke-width="1" />
<text transform="translate(969.71,914.5) scale(1.1515,1)" font-size="22.5" font-weight="normal" fill="#231f20">50</text>
<text transform="translate(1233.10,1488.75) scale(1.0328,1)" font-size="28" font-weight="normal" fill="#231f20">Timepoint</text>
<text transform="translate(941.7,1284) rotate(-90) translate(-2.29,0) scale(0.9908,1)" font-size="28" font-weight="normal" fill="#231f20"><tspan font-size="28" dy="0">Freq. of AIM CD4</tspan><tspan font-size="17" dy="-11">+</tspan><tspan font-size="28" dy="11"> cells (%)</tspan></text>
<text transform="translate(1591.66,1081.1) scale(0.9694,1)" font-size="28" font-weight="normal" fill="#231f20">HLA-DQB1*06</text>
<text transform="translate(1591.77,1112.2) scale(1.0337,1)" font-size="28" font-weight="normal" fill="#231f20">carriage</text>
<line x1="1602.6" y1="1138.05" x2="1602.6" y2="1157.85" stroke="#009e73" stroke-width="1.3" />
<rect x="1594.0" y="1141.4499999999998" width="17.2" height="12.8" fill="#fff" stroke="#009e73" stroke-width="1.3" />
<line x1="1594.0" y1="1147.85" x2="1611.1999999999998" y2="1147.85" stroke="#009e73" stroke-width="1.3" />
<circle cx="1602.6" cy="1147.85" r="4.3" fill="#009e73"/>
<text transform="translate(1622.87,1156.9) scale(1.0454,1)" font-size="27" font-weight="normal" fill="#231f20">No</text>
<line x1="1602.6" y1="1166.1000000000001" x2="1602.6" y2="1185.9" stroke="#d55e00" stroke-width="1.3" />
<rect x="1594.0" y="1169.5" width="17.2" height="12.8" fill="#fff" stroke="#d55e00" stroke-width="1.3" />
<line x1="1594.0" y1="1175.9" x2="1611.1999999999998" y2="1175.9" stroke="#d55e00" stroke-width="1.3" />
<circle cx="1602.6" cy="1175.9" r="4.3" fill="#d55e00"/>
<text transform="translate(1623.89,1184.8) scale(0.9971,1)" font-size="27" font-weight="normal" fill="#231f20">Yes</text>
<text transform="translate(904.41,799.6) scale(1.1229,1)" font-size="41" font-weight="bold" fill="#231f20" stroke="#231f20" stroke-width="1.1">d</text>
</svg></body></html>
